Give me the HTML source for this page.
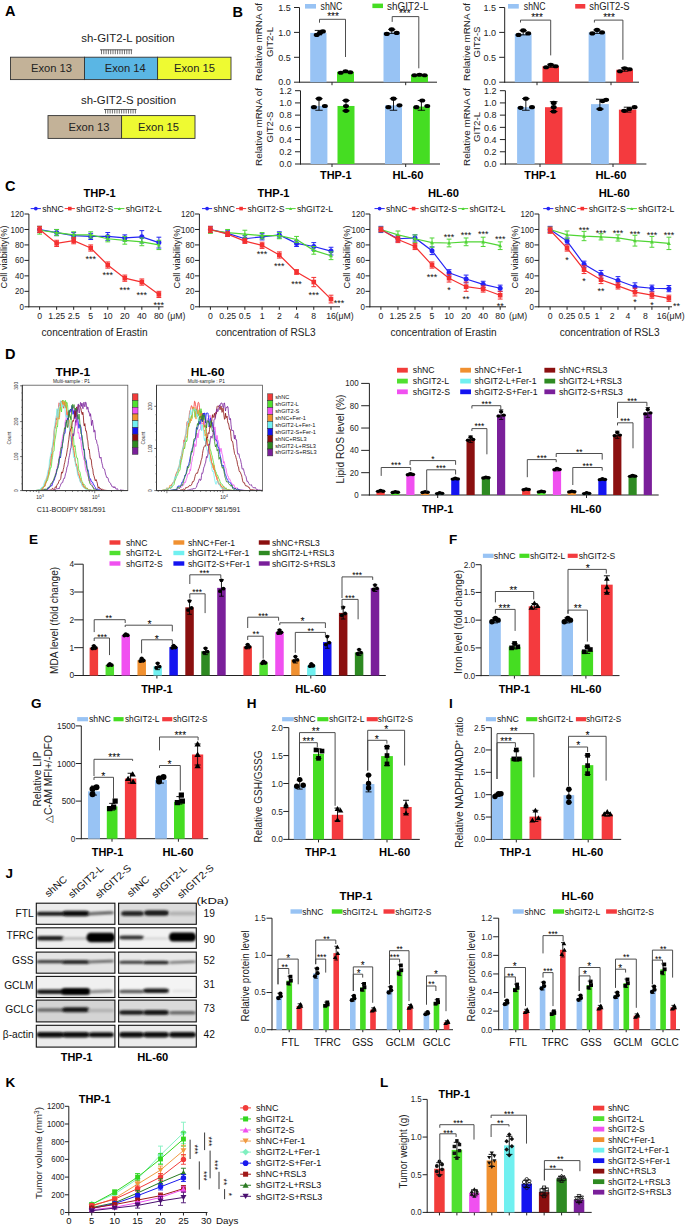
<!DOCTYPE html>
<html><head><meta charset="utf-8"><style>
html,body{margin:0;padding:0;background:#fff;}
svg{display:block;}
text{font-family:"Liberation Sans",sans-serif;}
</style></head><body>
<svg width="685" height="1227" viewBox="0 0 685 1227">
<rect width="685" height="1227" fill="#fff"/>
<text x="5" y="16.22" font-size="14.5" text-anchor="start" fill="#000" font-weight="bold">A</text>
<text x="128" y="42.28" font-size="10.5" text-anchor="middle" fill="#222" textLength="93.4" lengthAdjust="spacingAndGlyphs">sh-GIT2-L position</text>
<line x1="100" y1="49.8" x2="132.2" y2="49.8" stroke="#333" stroke-width="0.8"/>
<line x1="101.5" y1="49.8" x2="101.5" y2="54.2" stroke="#333" stroke-width="0.7"/>
<line x1="103.8" y1="49.8" x2="103.8" y2="54.2" stroke="#333" stroke-width="0.7"/>
<line x1="106.1" y1="49.8" x2="106.1" y2="54.2" stroke="#333" stroke-width="0.7"/>
<line x1="108.4" y1="49.8" x2="108.4" y2="54.2" stroke="#333" stroke-width="0.7"/>
<line x1="110.7" y1="49.8" x2="110.7" y2="54.2" stroke="#333" stroke-width="0.7"/>
<line x1="113" y1="49.8" x2="113" y2="54.2" stroke="#333" stroke-width="0.7"/>
<line x1="115.3" y1="49.8" x2="115.3" y2="54.2" stroke="#333" stroke-width="0.7"/>
<line x1="117.6" y1="49.8" x2="117.6" y2="54.2" stroke="#333" stroke-width="0.7"/>
<line x1="119.9" y1="49.8" x2="119.9" y2="54.2" stroke="#333" stroke-width="0.7"/>
<line x1="122.2" y1="49.8" x2="122.2" y2="54.2" stroke="#333" stroke-width="0.7"/>
<line x1="124.5" y1="49.8" x2="124.5" y2="54.2" stroke="#333" stroke-width="0.7"/>
<line x1="126.8" y1="49.8" x2="126.8" y2="54.2" stroke="#333" stroke-width="0.7"/>
<line x1="129.1" y1="49.8" x2="129.1" y2="54.2" stroke="#333" stroke-width="0.7"/>
<line x1="131.4" y1="49.8" x2="131.4" y2="54.2" stroke="#333" stroke-width="0.7"/>
<rect x="10.5" y="57.2" width="74" height="22.4" fill="#c3b298" stroke="#333" stroke-width="0.9"/>
<rect x="84.5" y="57.2" width="73.1" height="22.4" fill="#5ab6e4" stroke="#333" stroke-width="0.9"/>
<rect x="157.6" y="57.2" width="73.4" height="22.4" fill="#eefa32" stroke="#333" stroke-width="0.9"/>
<text x="51.5" y="72.19" font-size="10.8" text-anchor="middle" fill="#222" textLength="41" lengthAdjust="spacingAndGlyphs">Exon 13</text>
<text x="125.2" y="72.19" font-size="10.8" text-anchor="middle" fill="#222" textLength="41" lengthAdjust="spacingAndGlyphs">Exon 14</text>
<text x="194.5" y="72.19" font-size="10.8" text-anchor="middle" fill="#222" textLength="41" lengthAdjust="spacingAndGlyphs">Exon 15</text>
<text x="128.5" y="104.28" font-size="10.5" text-anchor="middle" fill="#222" textLength="95" lengthAdjust="spacingAndGlyphs">sh-GIT2-S position</text>
<line x1="104" y1="109.5" x2="136.5" y2="109.5" stroke="#333" stroke-width="0.8"/>
<line x1="105.5" y1="109.5" x2="105.5" y2="113.5" stroke="#333" stroke-width="0.7"/>
<line x1="107.8" y1="109.5" x2="107.8" y2="113.5" stroke="#333" stroke-width="0.7"/>
<line x1="110.1" y1="109.5" x2="110.1" y2="113.5" stroke="#333" stroke-width="0.7"/>
<line x1="112.4" y1="109.5" x2="112.4" y2="113.5" stroke="#333" stroke-width="0.7"/>
<line x1="114.7" y1="109.5" x2="114.7" y2="113.5" stroke="#333" stroke-width="0.7"/>
<line x1="117" y1="109.5" x2="117" y2="113.5" stroke="#333" stroke-width="0.7"/>
<line x1="119.3" y1="109.5" x2="119.3" y2="113.5" stroke="#333" stroke-width="0.7"/>
<line x1="121.6" y1="109.5" x2="121.6" y2="113.5" stroke="#333" stroke-width="0.7"/>
<line x1="123.9" y1="109.5" x2="123.9" y2="113.5" stroke="#333" stroke-width="0.7"/>
<line x1="126.2" y1="109.5" x2="126.2" y2="113.5" stroke="#333" stroke-width="0.7"/>
<line x1="128.5" y1="109.5" x2="128.5" y2="113.5" stroke="#333" stroke-width="0.7"/>
<line x1="130.8" y1="109.5" x2="130.8" y2="113.5" stroke="#333" stroke-width="0.7"/>
<line x1="133.1" y1="109.5" x2="133.1" y2="113.5" stroke="#333" stroke-width="0.7"/>
<line x1="135.4" y1="109.5" x2="135.4" y2="113.5" stroke="#333" stroke-width="0.7"/>
<rect x="48" y="115.6" width="73.6" height="22.8" fill="#c3b298" stroke="#333" stroke-width="0.9"/>
<rect x="121.6" y="115.6" width="73.4" height="22.8" fill="#eefa32" stroke="#333" stroke-width="0.9"/>
<text x="89" y="130.89" font-size="10.8" text-anchor="middle" fill="#222" textLength="41" lengthAdjust="spacingAndGlyphs">Exon 13</text>
<text x="158.5" y="130.89" font-size="10.8" text-anchor="middle" fill="#222" textLength="41" lengthAdjust="spacingAndGlyphs">Exon 15</text>
<text x="232.5" y="16.52" font-size="14.5" text-anchor="start" fill="#000" font-weight="bold">B</text>
<text transform="translate(261.96,42) rotate(-90)" x="0" y="0" font-size="9.6" text-anchor="middle" fill="#222" textLength="78" lengthAdjust="spacingAndGlyphs">Relative mRNA of</text>
<text transform="translate(273.46,42) rotate(-90)" x="0" y="0" font-size="9.6" text-anchor="middle" fill="#222" textLength="30" lengthAdjust="spacingAndGlyphs">GIT2-L</text>
<line x1="299.5" y1="82.7" x2="299.5" y2="7.5" stroke="#222" stroke-width="1"/>
<line x1="294" y1="82.2" x2="299.5" y2="82.2" stroke="#222" stroke-width="1"/>
<text x="290.7" y="85.44" font-size="9" text-anchor="end" fill="#222">0.0</text>
<line x1="294" y1="57.3" x2="299.5" y2="57.3" stroke="#222" stroke-width="1"/>
<text x="290.7" y="60.54" font-size="9" text-anchor="end" fill="#222">0.5</text>
<line x1="294" y1="32.4" x2="299.5" y2="32.4" stroke="#222" stroke-width="1"/>
<text x="290.7" y="35.64" font-size="9" text-anchor="end" fill="#222">1.0</text>
<line x1="294" y1="7.5" x2="299.5" y2="7.5" stroke="#222" stroke-width="1"/>
<text x="290.7" y="10.74" font-size="9" text-anchor="end" fill="#222">1.5</text>
<line x1="299" y1="82.2" x2="437" y2="82.2" stroke="#222" stroke-width="1"/>
<line x1="332" y1="82.2" x2="332" y2="85.2" stroke="#222" stroke-width="1"/>
<line x1="405.7" y1="82.2" x2="405.7" y2="85.2" stroke="#222" stroke-width="1"/>
<rect x="310.2" y="32.9" width="16.3" height="49.3" fill="#98c3f4"/>
<line x1="318.35" y1="34.89" x2="318.35" y2="30.41" stroke="#000" stroke-width="0.9"/>
<line x1="314.76" y1="30.41" x2="321.94" y2="30.41" stroke="#000" stroke-width="0.9"/>
<line x1="314.76" y1="34.89" x2="321.94" y2="34.89" stroke="#000" stroke-width="0.9"/>
<ellipse cx="316.72" cy="34.89" rx="2.97" ry="2.09" fill="#000"/>
<ellipse cx="319.98" cy="32.9" rx="2.97" ry="2.09" fill="#000"/>
<ellipse cx="322.91" cy="31.4" rx="2.97" ry="2.09" fill="#000"/>
<rect x="337" y="71.74" width="17" height="10.46" fill="#45dd22"/>
<ellipse cx="340.74" cy="72.74" rx="2.97" ry="2.09" fill="#000"/>
<ellipse cx="345.5" cy="71.24" rx="2.97" ry="2.09" fill="#000"/>
<ellipse cx="350.26" cy="72.24" rx="2.97" ry="2.09" fill="#000"/>
<rect x="383.5" y="32.4" width="16.5" height="49.8" fill="#98c3f4"/>
<line x1="391.75" y1="33.4" x2="391.75" y2="29.41" stroke="#000" stroke-width="0.9"/>
<line x1="388.12" y1="29.41" x2="395.38" y2="29.41" stroke="#000" stroke-width="0.9"/>
<line x1="388.12" y1="33.4" x2="395.38" y2="33.4" stroke="#000" stroke-width="0.9"/>
<ellipse cx="386.8" cy="33.89" rx="2.97" ry="2.09" fill="#000"/>
<ellipse cx="391.75" cy="29.41" rx="2.97" ry="2.09" fill="#000"/>
<ellipse cx="396.7" cy="32.9" rx="2.97" ry="2.09" fill="#000"/>
<rect x="411" y="74.73" width="17" height="7.47" fill="#45dd22"/>
<ellipse cx="414.4" cy="75.23" rx="2.97" ry="2.09" fill="#000"/>
<ellipse cx="419.5" cy="74.73" rx="2.97" ry="2.09" fill="#000"/>
<ellipse cx="424.6" cy="75.23" rx="2.97" ry="2.09" fill="#000"/>
<polyline points="319.5,22.7 319.5,19.3 345.5,19.3 345.5,57" stroke="#444" stroke-width="0.95" fill="none"/>
<text x="333" y="20.2" font-size="10" text-anchor="middle" fill="#000">***</text>
<polyline points="392.2,21.9 392.2,16.6 418.8,16.6 418.8,68.3" stroke="#444" stroke-width="0.95" fill="none"/>
<text x="404.8" y="17.3" font-size="10" text-anchor="middle" fill="#000">***</text>
<rect x="305" y="4" width="11" height="4.6" fill="#98c3f4"/>
<text x="320.6" y="9.9" font-size="10" text-anchor="start" fill="#222" textLength="21.8" lengthAdjust="spacingAndGlyphs">shNC</text>
<rect x="372.4" y="3.6" width="10.6" height="4.5" fill="#45dd22"/>
<text x="387" y="9.7" font-size="10" text-anchor="start" fill="#222" textLength="41.5" lengthAdjust="spacingAndGlyphs">shGIT2-L</text>
<text transform="translate(261.96,127) rotate(-90)" x="0" y="0" font-size="9.6" text-anchor="middle" fill="#222" textLength="78" lengthAdjust="spacingAndGlyphs">Relative mRNA of</text>
<text transform="translate(273.46,127) rotate(-90)" x="0" y="0" font-size="9.6" text-anchor="middle" fill="#222" textLength="31" lengthAdjust="spacingAndGlyphs">GIT2-S</text>
<line x1="300.5" y1="164.5" x2="300.5" y2="90.7" stroke="#222" stroke-width="1"/>
<line x1="295" y1="164" x2="300.5" y2="164" stroke="#222" stroke-width="1"/>
<text x="291.7" y="167.24" font-size="9" text-anchor="end" fill="#222">0.0</text>
<line x1="295" y1="151.78" x2="300.5" y2="151.78" stroke="#222" stroke-width="1"/>
<text x="291.7" y="155.02" font-size="9" text-anchor="end" fill="#222">0.2</text>
<line x1="295" y1="139.57" x2="300.5" y2="139.57" stroke="#222" stroke-width="1"/>
<text x="291.7" y="142.81" font-size="9" text-anchor="end" fill="#222">0.4</text>
<line x1="295" y1="127.35" x2="300.5" y2="127.35" stroke="#222" stroke-width="1"/>
<text x="291.7" y="130.59" font-size="9" text-anchor="end" fill="#222">0.6</text>
<line x1="295" y1="115.13" x2="300.5" y2="115.13" stroke="#222" stroke-width="1"/>
<text x="291.7" y="118.37" font-size="9" text-anchor="end" fill="#222">0.8</text>
<line x1="295" y1="102.92" x2="300.5" y2="102.92" stroke="#222" stroke-width="1"/>
<text x="291.7" y="106.16" font-size="9" text-anchor="end" fill="#222">1.0</text>
<line x1="295" y1="90.7" x2="300.5" y2="90.7" stroke="#222" stroke-width="1"/>
<text x="291.7" y="93.94" font-size="9" text-anchor="end" fill="#222">1.2</text>
<line x1="300" y1="164" x2="440" y2="164" stroke="#222" stroke-width="1"/>
<line x1="332" y1="164" x2="332" y2="167" stroke="#222" stroke-width="1"/>
<line x1="405.7" y1="164" x2="405.7" y2="167" stroke="#222" stroke-width="1"/>
<rect x="310.6" y="105.97" width="16.8" height="58.03" fill="#98c3f4"/>
<line x1="319" y1="110.25" x2="319" y2="98.64" stroke="#000" stroke-width="0.9"/>
<line x1="315.3" y1="98.64" x2="322.7" y2="98.64" stroke="#000" stroke-width="0.9"/>
<line x1="315.3" y1="110.25" x2="322.7" y2="110.25" stroke="#000" stroke-width="0.9"/>
<ellipse cx="313.96" cy="107.19" rx="2.97" ry="2.09" fill="#000"/>
<ellipse cx="319" cy="98.64" rx="2.97" ry="2.09" fill="#000"/>
<ellipse cx="324.88" cy="105.97" rx="2.97" ry="2.09" fill="#000"/>
<rect x="337.5" y="105.97" width="17" height="58.03" fill="#45dd22"/>
<line x1="346" y1="110.86" x2="346" y2="100.47" stroke="#000" stroke-width="0.9"/>
<line x1="342.26" y1="100.47" x2="349.74" y2="100.47" stroke="#000" stroke-width="0.9"/>
<line x1="342.26" y1="110.86" x2="349.74" y2="110.86" stroke="#000" stroke-width="0.9"/>
<ellipse cx="346" cy="100.47" rx="2.97" ry="2.09" fill="#000"/>
<ellipse cx="346" cy="105.97" rx="2.97" ry="2.09" fill="#000"/>
<ellipse cx="346" cy="110.86" rx="2.97" ry="2.09" fill="#000"/>
<rect x="385" y="105.36" width="17" height="58.64" fill="#98c3f4"/>
<line x1="393.5" y1="110.25" x2="393.5" y2="98.64" stroke="#000" stroke-width="0.9"/>
<line x1="389.76" y1="98.64" x2="397.24" y2="98.64" stroke="#000" stroke-width="0.9"/>
<line x1="389.76" y1="110.25" x2="397.24" y2="110.25" stroke="#000" stroke-width="0.9"/>
<ellipse cx="388.4" cy="107.19" rx="2.97" ry="2.09" fill="#000"/>
<ellipse cx="393.5" cy="98.64" rx="2.97" ry="2.09" fill="#000"/>
<ellipse cx="399.45" cy="105.36" rx="2.97" ry="2.09" fill="#000"/>
<rect x="413" y="106.58" width="16.8" height="57.42" fill="#45dd22"/>
<line x1="421.4" y1="110.25" x2="421.4" y2="100.47" stroke="#000" stroke-width="0.9"/>
<line x1="417.7" y1="100.47" x2="425.1" y2="100.47" stroke="#000" stroke-width="0.9"/>
<line x1="417.7" y1="110.25" x2="425.1" y2="110.25" stroke="#000" stroke-width="0.9"/>
<ellipse cx="416.36" cy="107.19" rx="2.97" ry="2.09" fill="#000"/>
<ellipse cx="422.24" cy="100.47" rx="2.97" ry="2.09" fill="#000"/>
<ellipse cx="427.28" cy="105.97" rx="2.97" ry="2.09" fill="#000"/>
<text x="335.8" y="178.95" font-size="11.8" text-anchor="middle" fill="#000" font-weight="bold" textLength="31.5" lengthAdjust="spacingAndGlyphs">THP-1</text>
<text x="408" y="178.95" font-size="11.8" text-anchor="middle" fill="#000" font-weight="bold" textLength="31" lengthAdjust="spacingAndGlyphs">HL-60</text>
<text transform="translate(469.76,42) rotate(-90)" x="0" y="0" font-size="9.6" text-anchor="middle" fill="#222" textLength="78" lengthAdjust="spacingAndGlyphs">Relative mRNA of</text>
<text transform="translate(480.46,42) rotate(-90)" x="0" y="0" font-size="9.6" text-anchor="middle" fill="#222" textLength="31" lengthAdjust="spacingAndGlyphs">GIT2-S</text>
<line x1="504.7" y1="82.7" x2="504.7" y2="7.5" stroke="#222" stroke-width="1"/>
<line x1="499.2" y1="82.2" x2="504.7" y2="82.2" stroke="#222" stroke-width="1"/>
<text x="495.9" y="85.44" font-size="9" text-anchor="end" fill="#222">0.0</text>
<line x1="499.2" y1="57.3" x2="504.7" y2="57.3" stroke="#222" stroke-width="1"/>
<text x="495.9" y="60.54" font-size="9" text-anchor="end" fill="#222">0.5</text>
<line x1="499.2" y1="32.4" x2="504.7" y2="32.4" stroke="#222" stroke-width="1"/>
<text x="495.9" y="35.64" font-size="9" text-anchor="end" fill="#222">1.0</text>
<line x1="499.2" y1="7.5" x2="504.7" y2="7.5" stroke="#222" stroke-width="1"/>
<text x="495.9" y="10.74" font-size="9" text-anchor="end" fill="#222">1.5</text>
<line x1="504.2" y1="82.2" x2="639" y2="82.2" stroke="#222" stroke-width="1"/>
<line x1="537" y1="82.2" x2="537" y2="85.2" stroke="#222" stroke-width="1"/>
<line x1="611" y1="82.2" x2="611" y2="85.2" stroke="#222" stroke-width="1"/>
<rect x="514.8" y="33.89" width="16.8" height="48.31" fill="#98c3f4"/>
<line x1="523.2" y1="34.89" x2="523.2" y2="30.41" stroke="#000" stroke-width="0.9"/>
<line x1="519.5" y1="30.41" x2="526.9" y2="30.41" stroke="#000" stroke-width="0.9"/>
<line x1="519.5" y1="34.89" x2="526.9" y2="34.89" stroke="#000" stroke-width="0.9"/>
<ellipse cx="518.5" cy="34.89" rx="2.97" ry="2.09" fill="#000"/>
<ellipse cx="523.2" cy="30.41" rx="2.97" ry="2.09" fill="#000"/>
<ellipse cx="528.24" cy="33.4" rx="2.97" ry="2.09" fill="#000"/>
<rect x="542.5" y="66.26" width="16.5" height="15.94" fill="#f43a3e"/>
<line x1="550.75" y1="67.26" x2="550.75" y2="64.27" stroke="#000" stroke-width="0.9"/>
<line x1="547.12" y1="64.27" x2="554.38" y2="64.27" stroke="#000" stroke-width="0.9"/>
<line x1="547.12" y1="67.26" x2="554.38" y2="67.26" stroke="#000" stroke-width="0.9"/>
<ellipse cx="546.13" cy="67.26" rx="2.97" ry="2.09" fill="#000"/>
<ellipse cx="550.75" cy="64.77" rx="2.97" ry="2.09" fill="#000"/>
<ellipse cx="555.7" cy="66.26" rx="2.97" ry="2.09" fill="#000"/>
<rect x="588.6" y="32.4" width="16.8" height="49.8" fill="#98c3f4"/>
<line x1="597" y1="33.4" x2="597" y2="29.91" stroke="#000" stroke-width="0.9"/>
<line x1="593.3" y1="29.91" x2="600.7" y2="29.91" stroke="#000" stroke-width="0.9"/>
<line x1="593.3" y1="33.4" x2="600.7" y2="33.4" stroke="#000" stroke-width="0.9"/>
<ellipse cx="592.3" cy="33.4" rx="2.97" ry="2.09" fill="#000"/>
<ellipse cx="597" cy="29.91" rx="2.97" ry="2.09" fill="#000"/>
<ellipse cx="602.04" cy="32.4" rx="2.97" ry="2.09" fill="#000"/>
<rect x="616.2" y="69.75" width="16.8" height="12.45" fill="#f43a3e"/>
<line x1="624.6" y1="71.24" x2="624.6" y2="67.76" stroke="#000" stroke-width="0.9"/>
<line x1="620.9" y1="67.76" x2="628.3" y2="67.76" stroke="#000" stroke-width="0.9"/>
<line x1="620.9" y1="71.24" x2="628.3" y2="71.24" stroke="#000" stroke-width="0.9"/>
<ellipse cx="619.9" cy="71.24" rx="2.97" ry="2.09" fill="#000"/>
<ellipse cx="624.6" cy="68.26" rx="2.97" ry="2.09" fill="#000"/>
<ellipse cx="629.64" cy="69.25" rx="2.97" ry="2.09" fill="#000"/>
<polyline points="520.5,22.5 520.5,20.1 550.7,20.1 550.7,55.4" stroke="#444" stroke-width="0.95" fill="none"/>
<text x="537" y="21" font-size="10" text-anchor="middle" fill="#000">***</text>
<polyline points="594.4,22.5 594.4,20.1 622.9,20.1 622.9,59.8" stroke="#444" stroke-width="0.95" fill="none"/>
<text x="609" y="21" font-size="10" text-anchor="middle" fill="#000">***</text>
<rect x="508" y="4" width="10.8" height="4.6" fill="#98c3f4"/>
<text x="523.8" y="9.9" font-size="10" text-anchor="start" fill="#222" textLength="21.8" lengthAdjust="spacingAndGlyphs">shNC</text>
<rect x="575.2" y="4" width="10.1" height="4.6" fill="#f43a3e"/>
<text x="589.3" y="9.9" font-size="10" text-anchor="start" fill="#222" textLength="40.3" lengthAdjust="spacingAndGlyphs">shGIT2-S</text>
<text transform="translate(469.76,127) rotate(-90)" x="0" y="0" font-size="9.6" text-anchor="middle" fill="#222" textLength="78" lengthAdjust="spacingAndGlyphs">Relative mRNA of</text>
<text transform="translate(480.46,127) rotate(-90)" x="0" y="0" font-size="9.6" text-anchor="middle" fill="#222" textLength="30" lengthAdjust="spacingAndGlyphs">GIT2-L</text>
<line x1="505.4" y1="164.5" x2="505.4" y2="90.7" stroke="#222" stroke-width="1"/>
<line x1="499.9" y1="164" x2="505.4" y2="164" stroke="#222" stroke-width="1"/>
<text x="496.6" y="167.24" font-size="9" text-anchor="end" fill="#222">0.0</text>
<line x1="499.9" y1="151.78" x2="505.4" y2="151.78" stroke="#222" stroke-width="1"/>
<text x="496.6" y="155.02" font-size="9" text-anchor="end" fill="#222">0.2</text>
<line x1="499.9" y1="139.57" x2="505.4" y2="139.57" stroke="#222" stroke-width="1"/>
<text x="496.6" y="142.81" font-size="9" text-anchor="end" fill="#222">0.4</text>
<line x1="499.9" y1="127.35" x2="505.4" y2="127.35" stroke="#222" stroke-width="1"/>
<text x="496.6" y="130.59" font-size="9" text-anchor="end" fill="#222">0.6</text>
<line x1="499.9" y1="115.13" x2="505.4" y2="115.13" stroke="#222" stroke-width="1"/>
<text x="496.6" y="118.37" font-size="9" text-anchor="end" fill="#222">0.8</text>
<line x1="499.9" y1="102.92" x2="505.4" y2="102.92" stroke="#222" stroke-width="1"/>
<text x="496.6" y="106.16" font-size="9" text-anchor="end" fill="#222">1.0</text>
<line x1="499.9" y1="90.7" x2="505.4" y2="90.7" stroke="#222" stroke-width="1"/>
<text x="496.6" y="93.94" font-size="9" text-anchor="end" fill="#222">1.2</text>
<line x1="504.9" y1="164" x2="646.4" y2="164" stroke="#222" stroke-width="1"/>
<line x1="540" y1="164" x2="540" y2="167" stroke="#222" stroke-width="1"/>
<line x1="613" y1="164" x2="613" y2="167" stroke="#222" stroke-width="1"/>
<rect x="517.1" y="107.19" width="17.5" height="56.81" fill="#98c3f4"/>
<line x1="525.85" y1="110.25" x2="525.85" y2="98.64" stroke="#000" stroke-width="0.9"/>
<line x1="522" y1="98.64" x2="529.7" y2="98.64" stroke="#000" stroke-width="0.9"/>
<line x1="522" y1="110.25" x2="529.7" y2="110.25" stroke="#000" stroke-width="0.9"/>
<ellipse cx="520.6" cy="107.8" rx="2.97" ry="2.09" fill="#000"/>
<ellipse cx="525.85" cy="98.64" rx="2.97" ry="2.09" fill="#000"/>
<ellipse cx="531.98" cy="107.19" rx="2.97" ry="2.09" fill="#000"/>
<rect x="545" y="107.19" width="17.4" height="56.81" fill="#f43a3e"/>
<line x1="553.7" y1="111.47" x2="553.7" y2="101.69" stroke="#000" stroke-width="0.9"/>
<line x1="549.87" y1="101.69" x2="557.53" y2="101.69" stroke="#000" stroke-width="0.9"/>
<line x1="549.87" y1="111.47" x2="557.53" y2="111.47" stroke="#000" stroke-width="0.9"/>
<ellipse cx="553.7" cy="102.92" rx="2.97" ry="2.09" fill="#000"/>
<ellipse cx="553.7" cy="107.19" rx="2.97" ry="2.09" fill="#000"/>
<ellipse cx="553.7" cy="111.47" rx="2.97" ry="2.09" fill="#000"/>
<rect x="591" y="104.14" width="17.8" height="59.86" fill="#98c3f4"/>
<line x1="599.9" y1="109.03" x2="599.9" y2="99.25" stroke="#000" stroke-width="0.9"/>
<line x1="595.98" y1="99.25" x2="603.82" y2="99.25" stroke="#000" stroke-width="0.9"/>
<line x1="595.98" y1="109.03" x2="603.82" y2="109.03" stroke="#000" stroke-width="0.9"/>
<ellipse cx="599.9" cy="109.03" rx="2.97" ry="2.09" fill="#000"/>
<ellipse cx="602.57" cy="101.08" rx="2.97" ry="2.09" fill="#000"/>
<ellipse cx="606.13" cy="99.86" rx="2.97" ry="2.09" fill="#000"/>
<rect x="618.9" y="109.64" width="17.4" height="54.36" fill="#f43a3e"/>
<line x1="627.6" y1="112.08" x2="627.6" y2="107.19" stroke="#000" stroke-width="0.9"/>
<line x1="623.77" y1="107.19" x2="631.43" y2="107.19" stroke="#000" stroke-width="0.9"/>
<line x1="623.77" y1="112.08" x2="631.43" y2="112.08" stroke="#000" stroke-width="0.9"/>
<ellipse cx="624.12" cy="110.86" rx="2.97" ry="2.09" fill="#000"/>
<ellipse cx="629.34" cy="109.03" rx="2.97" ry="2.09" fill="#000"/>
<ellipse cx="634.56" cy="107.19" rx="2.97" ry="2.09" fill="#000"/>
<text x="540" y="178.95" font-size="11.8" text-anchor="middle" fill="#000" font-weight="bold" textLength="31.5" lengthAdjust="spacingAndGlyphs">THP-1</text>
<text x="611" y="178.95" font-size="11.8" text-anchor="middle" fill="#000" font-weight="bold" textLength="31" lengthAdjust="spacingAndGlyphs">HL-60</text>
<text x="5" y="191.22" font-size="14.5" text-anchor="start" fill="#000" font-weight="bold">C</text>
<text x="99.6" y="196.86" font-size="11" text-anchor="middle" fill="#000" font-weight="bold" textLength="32" lengthAdjust="spacingAndGlyphs">THP-1</text>
<text transform="translate(7.06,257) rotate(-90)" x="0" y="0" font-size="9.6" text-anchor="middle" fill="#222" textLength="63" lengthAdjust="spacingAndGlyphs">Cell viability(%)</text>
<line x1="28.9" y1="307.3" x2="28.9" y2="214" stroke="#222" stroke-width="1"/>
<line x1="24.5" y1="306.8" x2="28.9" y2="306.8" stroke="#222" stroke-width="1"/>
<text x="23.9" y="309.86" font-size="8.5" text-anchor="end" fill="#222" textLength="4.44" lengthAdjust="spacingAndGlyphs">0</text>
<line x1="24.5" y1="291.33" x2="28.9" y2="291.33" stroke="#222" stroke-width="1"/>
<text x="23.9" y="294.39" font-size="8.5" text-anchor="end" fill="#222" textLength="8.89" lengthAdjust="spacingAndGlyphs">20</text>
<line x1="24.5" y1="275.87" x2="28.9" y2="275.87" stroke="#222" stroke-width="1"/>
<text x="23.9" y="278.93" font-size="8.5" text-anchor="end" fill="#222" textLength="8.89" lengthAdjust="spacingAndGlyphs">40</text>
<line x1="24.5" y1="260.4" x2="28.9" y2="260.4" stroke="#222" stroke-width="1"/>
<text x="23.9" y="263.46" font-size="8.5" text-anchor="end" fill="#222" textLength="8.89" lengthAdjust="spacingAndGlyphs">60</text>
<line x1="24.5" y1="244.93" x2="28.9" y2="244.93" stroke="#222" stroke-width="1"/>
<text x="23.9" y="247.99" font-size="8.5" text-anchor="end" fill="#222" textLength="8.89" lengthAdjust="spacingAndGlyphs">80</text>
<line x1="24.5" y1="229.47" x2="28.9" y2="229.47" stroke="#222" stroke-width="1"/>
<text x="23.9" y="232.53" font-size="8.5" text-anchor="end" fill="#222" textLength="13.33" lengthAdjust="spacingAndGlyphs">100</text>
<line x1="24.5" y1="214" x2="28.9" y2="214" stroke="#222" stroke-width="1"/>
<text x="23.9" y="217.06" font-size="8.5" text-anchor="end" fill="#222" textLength="13.33" lengthAdjust="spacingAndGlyphs">120</text>
<line x1="28.4" y1="306.8" x2="163.5" y2="306.8" stroke="#222" stroke-width="1"/>
<line x1="39.6" y1="306.8" x2="39.6" y2="309.8" stroke="#222" stroke-width="1"/>
<line x1="56.64" y1="306.8" x2="56.64" y2="309.8" stroke="#222" stroke-width="1"/>
<line x1="73.68" y1="306.8" x2="73.68" y2="309.8" stroke="#222" stroke-width="1"/>
<line x1="90.72" y1="306.8" x2="90.72" y2="309.8" stroke="#222" stroke-width="1"/>
<line x1="107.76" y1="306.8" x2="107.76" y2="309.8" stroke="#222" stroke-width="1"/>
<line x1="124.8" y1="306.8" x2="124.8" y2="309.8" stroke="#222" stroke-width="1"/>
<line x1="141.84" y1="306.8" x2="141.84" y2="309.8" stroke="#222" stroke-width="1"/>
<line x1="158.88" y1="306.8" x2="158.88" y2="309.8" stroke="#222" stroke-width="1"/>
<text x="39.6" y="318.63" font-size="8.7" text-anchor="middle" fill="#222">0</text>
<text x="56.64" y="318.63" font-size="8.7" text-anchor="middle" fill="#222">1.25</text>
<text x="73.68" y="318.63" font-size="8.7" text-anchor="middle" fill="#222">2.5</text>
<text x="90.72" y="318.63" font-size="8.7" text-anchor="middle" fill="#222">5</text>
<text x="107.76" y="318.63" font-size="8.7" text-anchor="middle" fill="#222">10</text>
<text x="124.8" y="318.63" font-size="8.7" text-anchor="middle" fill="#222">20</text>
<text x="141.84" y="318.63" font-size="8.7" text-anchor="middle" fill="#222">40</text>
<text x="158.88" y="318.63" font-size="8.7" text-anchor="middle" fill="#222">80</text>
<text x="167.3" y="318.63" font-size="8.7" text-anchor="start" fill="#222">(μM)</text>
<text x="94.5" y="335.74" font-size="10.1" text-anchor="middle" fill="#222">concentration of Erastin</text>
<polyline points="39.6,229.47 56.64,232.56 73.68,235.65 90.72,236.43 107.76,236.43 124.8,237.97 141.84,236.81 158.88,242.61" stroke="#2424f5" stroke-width="1.2" fill="none"/>
<line x1="39.6" y1="232.56" x2="39.6" y2="226.37" stroke="#2424f5" stroke-width="1"/>
<line x1="37.2" y1="226.37" x2="42" y2="226.37" stroke="#2424f5" stroke-width="1"/>
<line x1="37.2" y1="232.56" x2="42" y2="232.56" stroke="#2424f5" stroke-width="1"/>
<line x1="56.64" y1="235.65" x2="56.64" y2="229.47" stroke="#2424f5" stroke-width="1"/>
<line x1="54.24" y1="229.47" x2="59.04" y2="229.47" stroke="#2424f5" stroke-width="1"/>
<line x1="54.24" y1="235.65" x2="59.04" y2="235.65" stroke="#2424f5" stroke-width="1"/>
<line x1="73.68" y1="238.75" x2="73.68" y2="232.56" stroke="#2424f5" stroke-width="1"/>
<line x1="71.28" y1="232.56" x2="76.08" y2="232.56" stroke="#2424f5" stroke-width="1"/>
<line x1="71.28" y1="238.75" x2="76.08" y2="238.75" stroke="#2424f5" stroke-width="1"/>
<line x1="90.72" y1="239.52" x2="90.72" y2="233.33" stroke="#2424f5" stroke-width="1"/>
<line x1="88.32" y1="233.33" x2="93.12" y2="233.33" stroke="#2424f5" stroke-width="1"/>
<line x1="88.32" y1="239.52" x2="93.12" y2="239.52" stroke="#2424f5" stroke-width="1"/>
<line x1="107.76" y1="240.29" x2="107.76" y2="232.56" stroke="#2424f5" stroke-width="1"/>
<line x1="105.36" y1="232.56" x2="110.16" y2="232.56" stroke="#2424f5" stroke-width="1"/>
<line x1="105.36" y1="240.29" x2="110.16" y2="240.29" stroke="#2424f5" stroke-width="1"/>
<line x1="124.8" y1="241.07" x2="124.8" y2="234.88" stroke="#2424f5" stroke-width="1"/>
<line x1="122.4" y1="234.88" x2="127.2" y2="234.88" stroke="#2424f5" stroke-width="1"/>
<line x1="122.4" y1="241.07" x2="127.2" y2="241.07" stroke="#2424f5" stroke-width="1"/>
<line x1="141.84" y1="243" x2="141.84" y2="230.63" stroke="#2424f5" stroke-width="1"/>
<line x1="139.44" y1="230.63" x2="144.24" y2="230.63" stroke="#2424f5" stroke-width="1"/>
<line x1="139.44" y1="243" x2="144.24" y2="243" stroke="#2424f5" stroke-width="1"/>
<line x1="158.88" y1="248.03" x2="158.88" y2="237.2" stroke="#2424f5" stroke-width="1"/>
<line x1="156.48" y1="237.2" x2="161.28" y2="237.2" stroke="#2424f5" stroke-width="1"/>
<line x1="156.48" y1="248.03" x2="161.28" y2="248.03" stroke="#2424f5" stroke-width="1"/>
<circle cx="39.6" cy="229.47" r="2.5" fill="#2424f5"/>
<circle cx="56.64" cy="232.56" r="2.5" fill="#2424f5"/>
<circle cx="73.68" cy="235.65" r="2.5" fill="#2424f5"/>
<circle cx="90.72" cy="236.43" r="2.5" fill="#2424f5"/>
<circle cx="107.76" cy="236.43" r="2.5" fill="#2424f5"/>
<circle cx="124.8" cy="237.97" r="2.5" fill="#2424f5"/>
<circle cx="141.84" cy="236.81" r="2.5" fill="#2424f5"/>
<circle cx="158.88" cy="242.61" r="2.5" fill="#2424f5"/>
<polyline points="39.6,230.24 56.64,232.56 73.68,234.88 90.72,234.88 107.76,238.75 124.8,240.29 141.84,241.84 158.88,244.93" stroke="#50d535" stroke-width="1.2" fill="none"/>
<line x1="39.6" y1="234.11" x2="39.6" y2="226.37" stroke="#50d535" stroke-width="1"/>
<line x1="37.2" y1="226.37" x2="42" y2="226.37" stroke="#50d535" stroke-width="1"/>
<line x1="37.2" y1="234.11" x2="42" y2="234.11" stroke="#50d535" stroke-width="1"/>
<line x1="56.64" y1="235.65" x2="56.64" y2="229.47" stroke="#50d535" stroke-width="1"/>
<line x1="54.24" y1="229.47" x2="59.04" y2="229.47" stroke="#50d535" stroke-width="1"/>
<line x1="54.24" y1="235.65" x2="59.04" y2="235.65" stroke="#50d535" stroke-width="1"/>
<line x1="73.68" y1="237.97" x2="73.68" y2="231.79" stroke="#50d535" stroke-width="1"/>
<line x1="71.28" y1="231.79" x2="76.08" y2="231.79" stroke="#50d535" stroke-width="1"/>
<line x1="71.28" y1="237.97" x2="76.08" y2="237.97" stroke="#50d535" stroke-width="1"/>
<line x1="90.72" y1="237.97" x2="90.72" y2="231.79" stroke="#50d535" stroke-width="1"/>
<line x1="88.32" y1="231.79" x2="93.12" y2="231.79" stroke="#50d535" stroke-width="1"/>
<line x1="88.32" y1="237.97" x2="93.12" y2="237.97" stroke="#50d535" stroke-width="1"/>
<line x1="107.76" y1="241.84" x2="107.76" y2="235.65" stroke="#50d535" stroke-width="1"/>
<line x1="105.36" y1="235.65" x2="110.16" y2="235.65" stroke="#50d535" stroke-width="1"/>
<line x1="105.36" y1="241.84" x2="110.16" y2="241.84" stroke="#50d535" stroke-width="1"/>
<line x1="124.8" y1="244.16" x2="124.8" y2="236.43" stroke="#50d535" stroke-width="1"/>
<line x1="122.4" y1="236.43" x2="127.2" y2="236.43" stroke="#50d535" stroke-width="1"/>
<line x1="122.4" y1="244.16" x2="127.2" y2="244.16" stroke="#50d535" stroke-width="1"/>
<line x1="141.84" y1="245.71" x2="141.84" y2="237.97" stroke="#50d535" stroke-width="1"/>
<line x1="139.44" y1="237.97" x2="144.24" y2="237.97" stroke="#50d535" stroke-width="1"/>
<line x1="139.44" y1="245.71" x2="144.24" y2="245.71" stroke="#50d535" stroke-width="1"/>
<line x1="158.88" y1="249.57" x2="158.88" y2="240.29" stroke="#50d535" stroke-width="1"/>
<line x1="156.48" y1="240.29" x2="161.28" y2="240.29" stroke="#50d535" stroke-width="1"/>
<line x1="156.48" y1="249.57" x2="161.28" y2="249.57" stroke="#50d535" stroke-width="1"/>
<polygon points="37.6,231.84 41.6,231.84 39.6,228.44" fill="#50d535"/>
<polygon points="54.64,234.16 58.64,234.16 56.64,230.76" fill="#50d535"/>
<polygon points="71.68,236.48 75.68,236.48 73.68,233.08" fill="#50d535"/>
<polygon points="88.72,236.48 92.72,236.48 90.72,233.08" fill="#50d535"/>
<polygon points="105.76,240.35 109.76,240.35 107.76,236.95" fill="#50d535"/>
<polygon points="122.8,241.89 126.8,241.89 124.8,238.49" fill="#50d535"/>
<polygon points="139.84,243.44 143.84,243.44 141.84,240.04" fill="#50d535"/>
<polygon points="156.88,246.53 160.88,246.53 158.88,243.13" fill="#50d535"/>
<polyline points="39.6,229.47 56.64,243.39 73.68,240.68 90.72,248.03 107.76,265.04 124.8,278.19 141.84,282.05 158.88,294.43" stroke="#f53030" stroke-width="1.2" fill="none"/>
<line x1="39.6" y1="232.56" x2="39.6" y2="226.37" stroke="#f53030" stroke-width="1"/>
<line x1="37.2" y1="226.37" x2="42" y2="226.37" stroke="#f53030" stroke-width="1"/>
<line x1="37.2" y1="232.56" x2="42" y2="232.56" stroke="#f53030" stroke-width="1"/>
<line x1="56.64" y1="246.48" x2="56.64" y2="240.29" stroke="#f53030" stroke-width="1"/>
<line x1="54.24" y1="240.29" x2="59.04" y2="240.29" stroke="#f53030" stroke-width="1"/>
<line x1="54.24" y1="246.48" x2="59.04" y2="246.48" stroke="#f53030" stroke-width="1"/>
<line x1="73.68" y1="243.77" x2="73.68" y2="237.59" stroke="#f53030" stroke-width="1"/>
<line x1="71.28" y1="237.59" x2="76.08" y2="237.59" stroke="#f53030" stroke-width="1"/>
<line x1="71.28" y1="243.77" x2="76.08" y2="243.77" stroke="#f53030" stroke-width="1"/>
<line x1="90.72" y1="251.12" x2="90.72" y2="244.93" stroke="#f53030" stroke-width="1"/>
<line x1="88.32" y1="244.93" x2="93.12" y2="244.93" stroke="#f53030" stroke-width="1"/>
<line x1="88.32" y1="251.12" x2="93.12" y2="251.12" stroke="#f53030" stroke-width="1"/>
<line x1="107.76" y1="268.13" x2="107.76" y2="261.95" stroke="#f53030" stroke-width="1"/>
<line x1="105.36" y1="261.95" x2="110.16" y2="261.95" stroke="#f53030" stroke-width="1"/>
<line x1="105.36" y1="268.13" x2="110.16" y2="268.13" stroke="#f53030" stroke-width="1"/>
<line x1="124.8" y1="281.28" x2="124.8" y2="275.09" stroke="#f53030" stroke-width="1"/>
<line x1="122.4" y1="275.09" x2="127.2" y2="275.09" stroke="#f53030" stroke-width="1"/>
<line x1="122.4" y1="281.28" x2="127.2" y2="281.28" stroke="#f53030" stroke-width="1"/>
<line x1="141.84" y1="285.15" x2="141.84" y2="278.96" stroke="#f53030" stroke-width="1"/>
<line x1="139.44" y1="278.96" x2="144.24" y2="278.96" stroke="#f53030" stroke-width="1"/>
<line x1="139.44" y1="285.15" x2="144.24" y2="285.15" stroke="#f53030" stroke-width="1"/>
<line x1="158.88" y1="297.52" x2="158.88" y2="291.33" stroke="#f53030" stroke-width="1"/>
<line x1="156.48" y1="291.33" x2="161.28" y2="291.33" stroke="#f53030" stroke-width="1"/>
<line x1="156.48" y1="297.52" x2="161.28" y2="297.52" stroke="#f53030" stroke-width="1"/>
<rect x="37.3" y="227.17" width="4.6" height="4.6" fill="#f53030"/>
<rect x="54.34" y="241.09" width="4.6" height="4.6" fill="#f53030"/>
<rect x="71.38" y="238.38" width="4.6" height="4.6" fill="#f53030"/>
<rect x="88.42" y="245.73" width="4.6" height="4.6" fill="#f53030"/>
<rect x="105.46" y="262.74" width="4.6" height="4.6" fill="#f53030"/>
<rect x="122.5" y="275.89" width="4.6" height="4.6" fill="#f53030"/>
<rect x="139.54" y="279.75" width="4.6" height="4.6" fill="#f53030"/>
<rect x="156.58" y="292.13" width="4.6" height="4.6" fill="#f53030"/>
<text x="90.72" y="262.43" font-size="9" text-anchor="middle" fill="#111">***</text>
<text x="107.76" y="278.03" font-size="9" text-anchor="middle" fill="#111">***</text>
<text x="124.8" y="292.53" font-size="9" text-anchor="middle" fill="#111">***</text>
<text x="141.84" y="298.43" font-size="9" text-anchor="middle" fill="#111">***</text>
<text x="158.88" y="308.43" font-size="9" text-anchor="middle" fill="#111">***</text>
<line x1="30.7" y1="208.6" x2="40.9" y2="208.6" stroke="#2424f5" stroke-width="1"/>
<circle cx="35.8" cy="208.6" r="1.9" fill="#2424f5"/>
<text x="42.2" y="211.73" font-size="8.7" text-anchor="start" fill="#111" textLength="21.5" lengthAdjust="spacingAndGlyphs">shNC</text>
<line x1="64.7" y1="208.6" x2="74.9" y2="208.6" stroke="#f53030" stroke-width="1"/>
<rect x="68" y="206.8" width="3.6" height="3.6" fill="#f53030"/>
<text x="76.2" y="211.73" font-size="8.7" text-anchor="start" fill="#111" textLength="37" lengthAdjust="spacingAndGlyphs">shGIT2-S</text>
<line x1="114.2" y1="208.6" x2="124.4" y2="208.6" stroke="#50d535" stroke-width="1"/>
<polygon points="117.7,209.88 120.9,209.88 119.3,207.16" fill="#50d535"/>
<text x="125.7" y="211.73" font-size="8.7" text-anchor="start" fill="#111" textLength="36" lengthAdjust="spacingAndGlyphs">shGIT2-L</text>
<text x="273.5" y="196.86" font-size="11" text-anchor="middle" fill="#000" font-weight="bold" textLength="32" lengthAdjust="spacingAndGlyphs">THP-1</text>
<text transform="translate(179.66,257) rotate(-90)" x="0" y="0" font-size="9.6" text-anchor="middle" fill="#222" textLength="63" lengthAdjust="spacingAndGlyphs">Cell viability(%)</text>
<line x1="199.4" y1="307.3" x2="199.4" y2="214" stroke="#222" stroke-width="1"/>
<line x1="195" y1="306.8" x2="199.4" y2="306.8" stroke="#222" stroke-width="1"/>
<text x="194.4" y="309.86" font-size="8.5" text-anchor="end" fill="#222" textLength="4.44" lengthAdjust="spacingAndGlyphs">0</text>
<line x1="195" y1="291.33" x2="199.4" y2="291.33" stroke="#222" stroke-width="1"/>
<text x="194.4" y="294.39" font-size="8.5" text-anchor="end" fill="#222" textLength="8.89" lengthAdjust="spacingAndGlyphs">20</text>
<line x1="195" y1="275.87" x2="199.4" y2="275.87" stroke="#222" stroke-width="1"/>
<text x="194.4" y="278.93" font-size="8.5" text-anchor="end" fill="#222" textLength="8.89" lengthAdjust="spacingAndGlyphs">40</text>
<line x1="195" y1="260.4" x2="199.4" y2="260.4" stroke="#222" stroke-width="1"/>
<text x="194.4" y="263.46" font-size="8.5" text-anchor="end" fill="#222" textLength="8.89" lengthAdjust="spacingAndGlyphs">60</text>
<line x1="195" y1="244.93" x2="199.4" y2="244.93" stroke="#222" stroke-width="1"/>
<text x="194.4" y="247.99" font-size="8.5" text-anchor="end" fill="#222" textLength="8.89" lengthAdjust="spacingAndGlyphs">80</text>
<line x1="195" y1="229.47" x2="199.4" y2="229.47" stroke="#222" stroke-width="1"/>
<text x="194.4" y="232.53" font-size="8.5" text-anchor="end" fill="#222" textLength="13.33" lengthAdjust="spacingAndGlyphs">100</text>
<line x1="195" y1="214" x2="199.4" y2="214" stroke="#222" stroke-width="1"/>
<text x="194.4" y="217.06" font-size="8.5" text-anchor="end" fill="#222" textLength="13.33" lengthAdjust="spacingAndGlyphs">120</text>
<line x1="198.9" y1="306.8" x2="340" y2="306.8" stroke="#222" stroke-width="1"/>
<line x1="210.4" y1="306.8" x2="210.4" y2="309.8" stroke="#222" stroke-width="1"/>
<line x1="227.63" y1="306.8" x2="227.63" y2="309.8" stroke="#222" stroke-width="1"/>
<line x1="244.86" y1="306.8" x2="244.86" y2="309.8" stroke="#222" stroke-width="1"/>
<line x1="262.09" y1="306.8" x2="262.09" y2="309.8" stroke="#222" stroke-width="1"/>
<line x1="279.32" y1="306.8" x2="279.32" y2="309.8" stroke="#222" stroke-width="1"/>
<line x1="296.55" y1="306.8" x2="296.55" y2="309.8" stroke="#222" stroke-width="1"/>
<line x1="313.78" y1="306.8" x2="313.78" y2="309.8" stroke="#222" stroke-width="1"/>
<line x1="331.01" y1="306.8" x2="331.01" y2="309.8" stroke="#222" stroke-width="1"/>
<text x="210.4" y="318.63" font-size="8.7" text-anchor="middle" fill="#222">0</text>
<text x="227.63" y="318.63" font-size="8.7" text-anchor="middle" fill="#222">0.25</text>
<text x="244.86" y="318.63" font-size="8.7" text-anchor="middle" fill="#222">0.5</text>
<text x="262.09" y="318.63" font-size="8.7" text-anchor="middle" fill="#222">1</text>
<text x="279.32" y="318.63" font-size="8.7" text-anchor="middle" fill="#222">2</text>
<text x="296.55" y="318.63" font-size="8.7" text-anchor="middle" fill="#222">4</text>
<text x="313.78" y="318.63" font-size="8.7" text-anchor="middle" fill="#222">8</text>
<text x="331.01" y="318.63" font-size="8.7" text-anchor="middle" fill="#222">16</text>
<text x="335.6" y="318.63" font-size="8.7" text-anchor="start" fill="#222">(μM)</text>
<text x="265.8" y="335.74" font-size="10.1" text-anchor="middle" fill="#222">concentration of RSL3</text>
<polyline points="210.4,229.47 227.63,233.33 244.86,238.75 262.09,236.81 279.32,234.88 296.55,243.39 313.78,246.48 331.01,251.12" stroke="#2424f5" stroke-width="1.2" fill="none"/>
<line x1="210.4" y1="232.56" x2="210.4" y2="226.37" stroke="#2424f5" stroke-width="1"/>
<line x1="208" y1="226.37" x2="212.8" y2="226.37" stroke="#2424f5" stroke-width="1"/>
<line x1="208" y1="232.56" x2="212.8" y2="232.56" stroke="#2424f5" stroke-width="1"/>
<line x1="227.63" y1="236.43" x2="227.63" y2="230.24" stroke="#2424f5" stroke-width="1"/>
<line x1="225.23" y1="230.24" x2="230.03" y2="230.24" stroke="#2424f5" stroke-width="1"/>
<line x1="225.23" y1="236.43" x2="230.03" y2="236.43" stroke="#2424f5" stroke-width="1"/>
<line x1="244.86" y1="241.84" x2="244.86" y2="235.65" stroke="#2424f5" stroke-width="1"/>
<line x1="242.46" y1="235.65" x2="247.26" y2="235.65" stroke="#2424f5" stroke-width="1"/>
<line x1="242.46" y1="241.84" x2="247.26" y2="241.84" stroke="#2424f5" stroke-width="1"/>
<line x1="262.09" y1="239.91" x2="262.09" y2="233.72" stroke="#2424f5" stroke-width="1"/>
<line x1="259.69" y1="233.72" x2="264.49" y2="233.72" stroke="#2424f5" stroke-width="1"/>
<line x1="259.69" y1="239.91" x2="264.49" y2="239.91" stroke="#2424f5" stroke-width="1"/>
<line x1="279.32" y1="237.97" x2="279.32" y2="231.79" stroke="#2424f5" stroke-width="1"/>
<line x1="276.92" y1="231.79" x2="281.72" y2="231.79" stroke="#2424f5" stroke-width="1"/>
<line x1="276.92" y1="237.97" x2="281.72" y2="237.97" stroke="#2424f5" stroke-width="1"/>
<line x1="296.55" y1="246.48" x2="296.55" y2="240.29" stroke="#2424f5" stroke-width="1"/>
<line x1="294.15" y1="240.29" x2="298.95" y2="240.29" stroke="#2424f5" stroke-width="1"/>
<line x1="294.15" y1="246.48" x2="298.95" y2="246.48" stroke="#2424f5" stroke-width="1"/>
<line x1="313.78" y1="250.35" x2="313.78" y2="242.61" stroke="#2424f5" stroke-width="1"/>
<line x1="311.38" y1="242.61" x2="316.18" y2="242.61" stroke="#2424f5" stroke-width="1"/>
<line x1="311.38" y1="250.35" x2="316.18" y2="250.35" stroke="#2424f5" stroke-width="1"/>
<line x1="331.01" y1="254.99" x2="331.01" y2="247.25" stroke="#2424f5" stroke-width="1"/>
<line x1="328.61" y1="247.25" x2="333.41" y2="247.25" stroke="#2424f5" stroke-width="1"/>
<line x1="328.61" y1="254.99" x2="333.41" y2="254.99" stroke="#2424f5" stroke-width="1"/>
<circle cx="210.4" cy="229.47" r="2.5" fill="#2424f5"/>
<circle cx="227.63" cy="233.33" r="2.5" fill="#2424f5"/>
<circle cx="244.86" cy="238.75" r="2.5" fill="#2424f5"/>
<circle cx="262.09" cy="236.81" r="2.5" fill="#2424f5"/>
<circle cx="279.32" cy="234.88" r="2.5" fill="#2424f5"/>
<circle cx="296.55" cy="243.39" r="2.5" fill="#2424f5"/>
<circle cx="313.78" cy="246.48" r="2.5" fill="#2424f5"/>
<circle cx="331.01" cy="251.12" r="2.5" fill="#2424f5"/>
<polyline points="210.4,230.24 227.63,232.56 244.86,234.11 262.09,235.65 279.32,235.65 296.55,239.52 313.78,250.35 331.01,255.76" stroke="#50d535" stroke-width="1.2" fill="none"/>
<line x1="210.4" y1="233.33" x2="210.4" y2="227.15" stroke="#50d535" stroke-width="1"/>
<line x1="208" y1="227.15" x2="212.8" y2="227.15" stroke="#50d535" stroke-width="1"/>
<line x1="208" y1="233.33" x2="212.8" y2="233.33" stroke="#50d535" stroke-width="1"/>
<line x1="227.63" y1="235.65" x2="227.63" y2="229.47" stroke="#50d535" stroke-width="1"/>
<line x1="225.23" y1="229.47" x2="230.03" y2="229.47" stroke="#50d535" stroke-width="1"/>
<line x1="225.23" y1="235.65" x2="230.03" y2="235.65" stroke="#50d535" stroke-width="1"/>
<line x1="244.86" y1="237.97" x2="244.86" y2="230.24" stroke="#50d535" stroke-width="1"/>
<line x1="242.46" y1="230.24" x2="247.26" y2="230.24" stroke="#50d535" stroke-width="1"/>
<line x1="242.46" y1="237.97" x2="247.26" y2="237.97" stroke="#50d535" stroke-width="1"/>
<line x1="262.09" y1="238.75" x2="262.09" y2="232.56" stroke="#50d535" stroke-width="1"/>
<line x1="259.69" y1="232.56" x2="264.49" y2="232.56" stroke="#50d535" stroke-width="1"/>
<line x1="259.69" y1="238.75" x2="264.49" y2="238.75" stroke="#50d535" stroke-width="1"/>
<line x1="279.32" y1="238.75" x2="279.32" y2="232.56" stroke="#50d535" stroke-width="1"/>
<line x1="276.92" y1="232.56" x2="281.72" y2="232.56" stroke="#50d535" stroke-width="1"/>
<line x1="276.92" y1="238.75" x2="281.72" y2="238.75" stroke="#50d535" stroke-width="1"/>
<line x1="296.55" y1="242.61" x2="296.55" y2="236.43" stroke="#50d535" stroke-width="1"/>
<line x1="294.15" y1="236.43" x2="298.95" y2="236.43" stroke="#50d535" stroke-width="1"/>
<line x1="294.15" y1="242.61" x2="298.95" y2="242.61" stroke="#50d535" stroke-width="1"/>
<line x1="313.78" y1="254.21" x2="313.78" y2="246.48" stroke="#50d535" stroke-width="1"/>
<line x1="311.38" y1="246.48" x2="316.18" y2="246.48" stroke="#50d535" stroke-width="1"/>
<line x1="311.38" y1="254.21" x2="316.18" y2="254.21" stroke="#50d535" stroke-width="1"/>
<line x1="331.01" y1="259.63" x2="331.01" y2="251.89" stroke="#50d535" stroke-width="1"/>
<line x1="328.61" y1="251.89" x2="333.41" y2="251.89" stroke="#50d535" stroke-width="1"/>
<line x1="328.61" y1="259.63" x2="333.41" y2="259.63" stroke="#50d535" stroke-width="1"/>
<polygon points="208.4,231.84 212.4,231.84 210.4,228.44" fill="#50d535"/>
<polygon points="225.63,234.16 229.63,234.16 227.63,230.76" fill="#50d535"/>
<polygon points="242.86,235.71 246.86,235.71 244.86,232.31" fill="#50d535"/>
<polygon points="260.09,237.25 264.09,237.25 262.09,233.85" fill="#50d535"/>
<polygon points="277.32,237.25 281.32,237.25 279.32,233.85" fill="#50d535"/>
<polygon points="294.55,241.12 298.55,241.12 296.55,237.72" fill="#50d535"/>
<polygon points="311.78,251.95 315.78,251.95 313.78,248.55" fill="#50d535"/>
<polygon points="329.01,257.36 333.01,257.36 331.01,253.96" fill="#50d535"/>
<polyline points="210.4,229.47 227.63,234.11 244.86,241.07 262.09,245.32 279.32,254.99 296.55,272 313.78,282.05 331.01,299.07" stroke="#f53030" stroke-width="1.2" fill="none"/>
<line x1="210.4" y1="232.56" x2="210.4" y2="226.37" stroke="#f53030" stroke-width="1"/>
<line x1="208" y1="226.37" x2="212.8" y2="226.37" stroke="#f53030" stroke-width="1"/>
<line x1="208" y1="232.56" x2="212.8" y2="232.56" stroke="#f53030" stroke-width="1"/>
<line x1="227.63" y1="236.43" x2="227.63" y2="231.79" stroke="#f53030" stroke-width="1"/>
<line x1="225.23" y1="231.79" x2="230.03" y2="231.79" stroke="#f53030" stroke-width="1"/>
<line x1="225.23" y1="236.43" x2="230.03" y2="236.43" stroke="#f53030" stroke-width="1"/>
<line x1="244.86" y1="243.39" x2="244.86" y2="238.75" stroke="#f53030" stroke-width="1"/>
<line x1="242.46" y1="238.75" x2="247.26" y2="238.75" stroke="#f53030" stroke-width="1"/>
<line x1="242.46" y1="243.39" x2="247.26" y2="243.39" stroke="#f53030" stroke-width="1"/>
<line x1="262.09" y1="248.41" x2="262.09" y2="242.23" stroke="#f53030" stroke-width="1"/>
<line x1="259.69" y1="242.23" x2="264.49" y2="242.23" stroke="#f53030" stroke-width="1"/>
<line x1="259.69" y1="248.41" x2="264.49" y2="248.41" stroke="#f53030" stroke-width="1"/>
<line x1="279.32" y1="258.08" x2="279.32" y2="251.89" stroke="#f53030" stroke-width="1"/>
<line x1="276.92" y1="251.89" x2="281.72" y2="251.89" stroke="#f53030" stroke-width="1"/>
<line x1="276.92" y1="258.08" x2="281.72" y2="258.08" stroke="#f53030" stroke-width="1"/>
<line x1="296.55" y1="274.32" x2="296.55" y2="269.68" stroke="#f53030" stroke-width="1"/>
<line x1="294.15" y1="269.68" x2="298.95" y2="269.68" stroke="#f53030" stroke-width="1"/>
<line x1="294.15" y1="274.32" x2="298.95" y2="274.32" stroke="#f53030" stroke-width="1"/>
<line x1="313.78" y1="286.69" x2="313.78" y2="277.41" stroke="#f53030" stroke-width="1"/>
<line x1="311.38" y1="277.41" x2="316.18" y2="277.41" stroke="#f53030" stroke-width="1"/>
<line x1="311.38" y1="286.69" x2="316.18" y2="286.69" stroke="#f53030" stroke-width="1"/>
<line x1="331.01" y1="302.93" x2="331.01" y2="295.2" stroke="#f53030" stroke-width="1"/>
<line x1="328.61" y1="295.2" x2="333.41" y2="295.2" stroke="#f53030" stroke-width="1"/>
<line x1="328.61" y1="302.93" x2="333.41" y2="302.93" stroke="#f53030" stroke-width="1"/>
<rect x="208.1" y="227.17" width="4.6" height="4.6" fill="#f53030"/>
<rect x="225.33" y="231.81" width="4.6" height="4.6" fill="#f53030"/>
<rect x="242.56" y="238.77" width="4.6" height="4.6" fill="#f53030"/>
<rect x="259.79" y="243.02" width="4.6" height="4.6" fill="#f53030"/>
<rect x="277.02" y="252.69" width="4.6" height="4.6" fill="#f53030"/>
<rect x="294.25" y="269.7" width="4.6" height="4.6" fill="#f53030"/>
<rect x="311.48" y="279.75" width="4.6" height="4.6" fill="#f53030"/>
<rect x="328.71" y="296.77" width="4.6" height="4.6" fill="#f53030"/>
<text x="262.09" y="257.33" font-size="9" text-anchor="middle" fill="#111">***</text>
<text x="279.32" y="269.03" font-size="9" text-anchor="middle" fill="#111">***</text>
<text x="296.55" y="286.93" font-size="9" text-anchor="middle" fill="#111">***</text>
<text x="313.78" y="298.13" font-size="9" text-anchor="middle" fill="#111">***</text>
<text x="339" y="305.83" font-size="9" text-anchor="middle" fill="#111">***</text>
<line x1="202" y1="208.6" x2="212.2" y2="208.6" stroke="#2424f5" stroke-width="1"/>
<circle cx="207.1" cy="208.6" r="1.9" fill="#2424f5"/>
<text x="213.5" y="211.73" font-size="8.7" text-anchor="start" fill="#111" textLength="21.5" lengthAdjust="spacingAndGlyphs">shNC</text>
<line x1="236" y1="208.6" x2="246.2" y2="208.6" stroke="#f53030" stroke-width="1"/>
<rect x="239.3" y="206.8" width="3.6" height="3.6" fill="#f53030"/>
<text x="247.5" y="211.73" font-size="8.7" text-anchor="start" fill="#111" textLength="37" lengthAdjust="spacingAndGlyphs">shGIT2-S</text>
<line x1="285.5" y1="208.6" x2="295.7" y2="208.6" stroke="#50d535" stroke-width="1"/>
<polygon points="289,209.88 292.2,209.88 290.6,207.16" fill="#50d535"/>
<text x="297" y="211.73" font-size="8.7" text-anchor="start" fill="#111" textLength="36" lengthAdjust="spacingAndGlyphs">shGIT2-L</text>
<text x="443.5" y="196.86" font-size="11" text-anchor="middle" fill="#000" font-weight="bold" textLength="31" lengthAdjust="spacingAndGlyphs">HL-60</text>
<text transform="translate(349.66,257) rotate(-90)" x="0" y="0" font-size="9.6" text-anchor="middle" fill="#222" textLength="63" lengthAdjust="spacingAndGlyphs">Cell viability(%)</text>
<line x1="369.9" y1="307.3" x2="369.9" y2="214" stroke="#222" stroke-width="1"/>
<line x1="365.5" y1="306.8" x2="369.9" y2="306.8" stroke="#222" stroke-width="1"/>
<text x="364.9" y="309.86" font-size="8.5" text-anchor="end" fill="#222" textLength="4.44" lengthAdjust="spacingAndGlyphs">0</text>
<line x1="365.5" y1="291.33" x2="369.9" y2="291.33" stroke="#222" stroke-width="1"/>
<text x="364.9" y="294.39" font-size="8.5" text-anchor="end" fill="#222" textLength="8.89" lengthAdjust="spacingAndGlyphs">20</text>
<line x1="365.5" y1="275.87" x2="369.9" y2="275.87" stroke="#222" stroke-width="1"/>
<text x="364.9" y="278.93" font-size="8.5" text-anchor="end" fill="#222" textLength="8.89" lengthAdjust="spacingAndGlyphs">40</text>
<line x1="365.5" y1="260.4" x2="369.9" y2="260.4" stroke="#222" stroke-width="1"/>
<text x="364.9" y="263.46" font-size="8.5" text-anchor="end" fill="#222" textLength="8.89" lengthAdjust="spacingAndGlyphs">60</text>
<line x1="365.5" y1="244.93" x2="369.9" y2="244.93" stroke="#222" stroke-width="1"/>
<text x="364.9" y="247.99" font-size="8.5" text-anchor="end" fill="#222" textLength="8.89" lengthAdjust="spacingAndGlyphs">80</text>
<line x1="365.5" y1="229.47" x2="369.9" y2="229.47" stroke="#222" stroke-width="1"/>
<text x="364.9" y="232.53" font-size="8.5" text-anchor="end" fill="#222" textLength="13.33" lengthAdjust="spacingAndGlyphs">100</text>
<line x1="365.5" y1="214" x2="369.9" y2="214" stroke="#222" stroke-width="1"/>
<text x="364.9" y="217.06" font-size="8.5" text-anchor="end" fill="#222" textLength="13.33" lengthAdjust="spacingAndGlyphs">120</text>
<line x1="369.4" y1="306.8" x2="506" y2="306.8" stroke="#222" stroke-width="1"/>
<line x1="380.9" y1="306.8" x2="380.9" y2="309.8" stroke="#222" stroke-width="1"/>
<line x1="397.94" y1="306.8" x2="397.94" y2="309.8" stroke="#222" stroke-width="1"/>
<line x1="414.98" y1="306.8" x2="414.98" y2="309.8" stroke="#222" stroke-width="1"/>
<line x1="432.02" y1="306.8" x2="432.02" y2="309.8" stroke="#222" stroke-width="1"/>
<line x1="449.06" y1="306.8" x2="449.06" y2="309.8" stroke="#222" stroke-width="1"/>
<line x1="466.1" y1="306.8" x2="466.1" y2="309.8" stroke="#222" stroke-width="1"/>
<line x1="483.14" y1="306.8" x2="483.14" y2="309.8" stroke="#222" stroke-width="1"/>
<line x1="500.18" y1="306.8" x2="500.18" y2="309.8" stroke="#222" stroke-width="1"/>
<text x="380.9" y="318.63" font-size="8.7" text-anchor="middle" fill="#222">0</text>
<text x="397.94" y="318.63" font-size="8.7" text-anchor="middle" fill="#222">1.25</text>
<text x="414.98" y="318.63" font-size="8.7" text-anchor="middle" fill="#222">2.5</text>
<text x="432.02" y="318.63" font-size="8.7" text-anchor="middle" fill="#222">5</text>
<text x="449.06" y="318.63" font-size="8.7" text-anchor="middle" fill="#222">10</text>
<text x="466.1" y="318.63" font-size="8.7" text-anchor="middle" fill="#222">20</text>
<text x="483.14" y="318.63" font-size="8.7" text-anchor="middle" fill="#222">40</text>
<text x="500.18" y="318.63" font-size="8.7" text-anchor="middle" fill="#222">80</text>
<text x="509" y="318.63" font-size="8.7" text-anchor="start" fill="#222">(μM)</text>
<text x="443.5" y="335.74" font-size="10.1" text-anchor="middle" fill="#222">concentration of Erastin</text>
<polyline points="380.9,229.47 397.94,238.75 414.98,237.97 432.02,250.73 449.06,272.77 466.1,278.96 483.14,284.37 500.18,288.24" stroke="#2424f5" stroke-width="1.2" fill="none"/>
<line x1="380.9" y1="232.56" x2="380.9" y2="226.37" stroke="#2424f5" stroke-width="1"/>
<line x1="378.5" y1="226.37" x2="383.3" y2="226.37" stroke="#2424f5" stroke-width="1"/>
<line x1="378.5" y1="232.56" x2="383.3" y2="232.56" stroke="#2424f5" stroke-width="1"/>
<line x1="397.94" y1="241.84" x2="397.94" y2="235.65" stroke="#2424f5" stroke-width="1"/>
<line x1="395.54" y1="235.65" x2="400.34" y2="235.65" stroke="#2424f5" stroke-width="1"/>
<line x1="395.54" y1="241.84" x2="400.34" y2="241.84" stroke="#2424f5" stroke-width="1"/>
<line x1="414.98" y1="241.07" x2="414.98" y2="234.88" stroke="#2424f5" stroke-width="1"/>
<line x1="412.58" y1="234.88" x2="417.38" y2="234.88" stroke="#2424f5" stroke-width="1"/>
<line x1="412.58" y1="241.07" x2="417.38" y2="241.07" stroke="#2424f5" stroke-width="1"/>
<line x1="432.02" y1="254.6" x2="432.02" y2="246.87" stroke="#2424f5" stroke-width="1"/>
<line x1="429.62" y1="246.87" x2="434.42" y2="246.87" stroke="#2424f5" stroke-width="1"/>
<line x1="429.62" y1="254.6" x2="434.42" y2="254.6" stroke="#2424f5" stroke-width="1"/>
<line x1="449.06" y1="275.87" x2="449.06" y2="269.68" stroke="#2424f5" stroke-width="1"/>
<line x1="446.66" y1="269.68" x2="451.46" y2="269.68" stroke="#2424f5" stroke-width="1"/>
<line x1="446.66" y1="275.87" x2="451.46" y2="275.87" stroke="#2424f5" stroke-width="1"/>
<line x1="466.1" y1="282.83" x2="466.1" y2="275.09" stroke="#2424f5" stroke-width="1"/>
<line x1="463.7" y1="275.09" x2="468.5" y2="275.09" stroke="#2424f5" stroke-width="1"/>
<line x1="463.7" y1="282.83" x2="468.5" y2="282.83" stroke="#2424f5" stroke-width="1"/>
<line x1="483.14" y1="287.47" x2="483.14" y2="281.28" stroke="#2424f5" stroke-width="1"/>
<line x1="480.74" y1="281.28" x2="485.54" y2="281.28" stroke="#2424f5" stroke-width="1"/>
<line x1="480.74" y1="287.47" x2="485.54" y2="287.47" stroke="#2424f5" stroke-width="1"/>
<line x1="500.18" y1="291.33" x2="500.18" y2="285.15" stroke="#2424f5" stroke-width="1"/>
<line x1="497.78" y1="285.15" x2="502.58" y2="285.15" stroke="#2424f5" stroke-width="1"/>
<line x1="497.78" y1="291.33" x2="502.58" y2="291.33" stroke="#2424f5" stroke-width="1"/>
<circle cx="380.9" cy="229.47" r="2.5" fill="#2424f5"/>
<circle cx="397.94" cy="238.75" r="2.5" fill="#2424f5"/>
<circle cx="414.98" cy="237.97" r="2.5" fill="#2424f5"/>
<circle cx="432.02" cy="250.73" r="2.5" fill="#2424f5"/>
<circle cx="449.06" cy="272.77" r="2.5" fill="#2424f5"/>
<circle cx="466.1" cy="278.96" r="2.5" fill="#2424f5"/>
<circle cx="483.14" cy="284.37" r="2.5" fill="#2424f5"/>
<circle cx="500.18" cy="288.24" r="2.5" fill="#2424f5"/>
<polyline points="380.9,229.47 397.94,234.88 414.98,238.75 432.02,242.61 449.06,243 466.1,241.84 483.14,241.84 500.18,245.71" stroke="#50d535" stroke-width="1.2" fill="none"/>
<line x1="380.9" y1="231.79" x2="380.9" y2="227.15" stroke="#50d535" stroke-width="1"/>
<line x1="378.5" y1="227.15" x2="383.3" y2="227.15" stroke="#50d535" stroke-width="1"/>
<line x1="378.5" y1="231.79" x2="383.3" y2="231.79" stroke="#50d535" stroke-width="1"/>
<line x1="397.94" y1="238.75" x2="397.94" y2="231.01" stroke="#50d535" stroke-width="1"/>
<line x1="395.54" y1="231.01" x2="400.34" y2="231.01" stroke="#50d535" stroke-width="1"/>
<line x1="395.54" y1="238.75" x2="400.34" y2="238.75" stroke="#50d535" stroke-width="1"/>
<line x1="414.98" y1="242.61" x2="414.98" y2="234.88" stroke="#50d535" stroke-width="1"/>
<line x1="412.58" y1="234.88" x2="417.38" y2="234.88" stroke="#50d535" stroke-width="1"/>
<line x1="412.58" y1="242.61" x2="417.38" y2="242.61" stroke="#50d535" stroke-width="1"/>
<line x1="432.02" y1="247.25" x2="432.02" y2="237.97" stroke="#50d535" stroke-width="1"/>
<line x1="429.62" y1="237.97" x2="434.42" y2="237.97" stroke="#50d535" stroke-width="1"/>
<line x1="429.62" y1="247.25" x2="434.42" y2="247.25" stroke="#50d535" stroke-width="1"/>
<line x1="449.06" y1="246.87" x2="449.06" y2="239.13" stroke="#50d535" stroke-width="1"/>
<line x1="446.66" y1="239.13" x2="451.46" y2="239.13" stroke="#50d535" stroke-width="1"/>
<line x1="446.66" y1="246.87" x2="451.46" y2="246.87" stroke="#50d535" stroke-width="1"/>
<line x1="466.1" y1="245.71" x2="466.1" y2="237.97" stroke="#50d535" stroke-width="1"/>
<line x1="463.7" y1="237.97" x2="468.5" y2="237.97" stroke="#50d535" stroke-width="1"/>
<line x1="463.7" y1="245.71" x2="468.5" y2="245.71" stroke="#50d535" stroke-width="1"/>
<line x1="483.14" y1="246.48" x2="483.14" y2="237.2" stroke="#50d535" stroke-width="1"/>
<line x1="480.74" y1="237.2" x2="485.54" y2="237.2" stroke="#50d535" stroke-width="1"/>
<line x1="480.74" y1="246.48" x2="485.54" y2="246.48" stroke="#50d535" stroke-width="1"/>
<line x1="500.18" y1="249.57" x2="500.18" y2="241.84" stroke="#50d535" stroke-width="1"/>
<line x1="497.78" y1="241.84" x2="502.58" y2="241.84" stroke="#50d535" stroke-width="1"/>
<line x1="497.78" y1="249.57" x2="502.58" y2="249.57" stroke="#50d535" stroke-width="1"/>
<polygon points="378.9,231.07 382.9,231.07 380.9,227.67" fill="#50d535"/>
<polygon points="395.94,236.48 399.94,236.48 397.94,233.08" fill="#50d535"/>
<polygon points="412.98,240.35 416.98,240.35 414.98,236.95" fill="#50d535"/>
<polygon points="430.02,244.21 434.02,244.21 432.02,240.81" fill="#50d535"/>
<polygon points="447.06,244.6 451.06,244.6 449.06,241.2" fill="#50d535"/>
<polygon points="464.1,243.44 468.1,243.44 466.1,240.04" fill="#50d535"/>
<polygon points="481.14,243.44 485.14,243.44 483.14,240.04" fill="#50d535"/>
<polygon points="498.18,247.31 502.18,247.31 500.18,243.91" fill="#50d535"/>
<polyline points="380.9,229.47 397.94,239.52 414.98,246.48 432.02,265.04 449.06,278.19 466.1,286.69 483.14,289.01 500.18,295.2" stroke="#f53030" stroke-width="1.2" fill="none"/>
<line x1="380.9" y1="231.79" x2="380.9" y2="227.15" stroke="#f53030" stroke-width="1"/>
<line x1="378.5" y1="227.15" x2="383.3" y2="227.15" stroke="#f53030" stroke-width="1"/>
<line x1="378.5" y1="231.79" x2="383.3" y2="231.79" stroke="#f53030" stroke-width="1"/>
<line x1="397.94" y1="242.61" x2="397.94" y2="236.43" stroke="#f53030" stroke-width="1"/>
<line x1="395.54" y1="236.43" x2="400.34" y2="236.43" stroke="#f53030" stroke-width="1"/>
<line x1="395.54" y1="242.61" x2="400.34" y2="242.61" stroke="#f53030" stroke-width="1"/>
<line x1="414.98" y1="249.57" x2="414.98" y2="243.39" stroke="#f53030" stroke-width="1"/>
<line x1="412.58" y1="243.39" x2="417.38" y2="243.39" stroke="#f53030" stroke-width="1"/>
<line x1="412.58" y1="249.57" x2="417.38" y2="249.57" stroke="#f53030" stroke-width="1"/>
<line x1="432.02" y1="268.13" x2="432.02" y2="261.95" stroke="#f53030" stroke-width="1"/>
<line x1="429.62" y1="261.95" x2="434.42" y2="261.95" stroke="#f53030" stroke-width="1"/>
<line x1="429.62" y1="268.13" x2="434.42" y2="268.13" stroke="#f53030" stroke-width="1"/>
<line x1="449.06" y1="282.05" x2="449.06" y2="274.32" stroke="#f53030" stroke-width="1"/>
<line x1="446.66" y1="274.32" x2="451.46" y2="274.32" stroke="#f53030" stroke-width="1"/>
<line x1="446.66" y1="282.05" x2="451.46" y2="282.05" stroke="#f53030" stroke-width="1"/>
<line x1="466.1" y1="291.33" x2="466.1" y2="282.05" stroke="#f53030" stroke-width="1"/>
<line x1="463.7" y1="282.05" x2="468.5" y2="282.05" stroke="#f53030" stroke-width="1"/>
<line x1="463.7" y1="291.33" x2="468.5" y2="291.33" stroke="#f53030" stroke-width="1"/>
<line x1="483.14" y1="292.11" x2="483.14" y2="285.92" stroke="#f53030" stroke-width="1"/>
<line x1="480.74" y1="285.92" x2="485.54" y2="285.92" stroke="#f53030" stroke-width="1"/>
<line x1="480.74" y1="292.11" x2="485.54" y2="292.11" stroke="#f53030" stroke-width="1"/>
<line x1="500.18" y1="299.07" x2="500.18" y2="291.33" stroke="#f53030" stroke-width="1"/>
<line x1="497.78" y1="291.33" x2="502.58" y2="291.33" stroke="#f53030" stroke-width="1"/>
<line x1="497.78" y1="299.07" x2="502.58" y2="299.07" stroke="#f53030" stroke-width="1"/>
<rect x="378.6" y="227.17" width="4.6" height="4.6" fill="#f53030"/>
<rect x="395.64" y="237.22" width="4.6" height="4.6" fill="#f53030"/>
<rect x="412.68" y="244.18" width="4.6" height="4.6" fill="#f53030"/>
<rect x="429.72" y="262.74" width="4.6" height="4.6" fill="#f53030"/>
<rect x="446.76" y="275.89" width="4.6" height="4.6" fill="#f53030"/>
<rect x="463.8" y="284.39" width="4.6" height="4.6" fill="#f53030"/>
<rect x="480.84" y="286.71" width="4.6" height="4.6" fill="#f53030"/>
<rect x="497.88" y="292.9" width="4.6" height="4.6" fill="#f53030"/>
<text x="449.06" y="240.13" font-size="9" text-anchor="middle" fill="#111">***</text>
<text x="466.1" y="238.43" font-size="9" text-anchor="middle" fill="#111">***</text>
<text x="483.14" y="236.83" font-size="9" text-anchor="middle" fill="#111">***</text>
<text x="500.18" y="241.93" font-size="9" text-anchor="middle" fill="#111">***</text>
<text x="432.02" y="280.33" font-size="9" text-anchor="middle" fill="#111">***</text>
<text x="449.06" y="292.53" font-size="9" text-anchor="middle" fill="#111">*</text>
<text x="466.1" y="301.53" font-size="9" text-anchor="middle" fill="#111">**</text>
<text x="500.18" y="309.13" font-size="9" text-anchor="middle" fill="#111">**</text>
<line x1="374.5" y1="208.6" x2="384.7" y2="208.6" stroke="#2424f5" stroke-width="1"/>
<circle cx="379.6" cy="208.6" r="1.9" fill="#2424f5"/>
<text x="386" y="211.73" font-size="8.7" text-anchor="start" fill="#111" textLength="21.5" lengthAdjust="spacingAndGlyphs">shNC</text>
<line x1="408.5" y1="208.6" x2="418.7" y2="208.6" stroke="#f53030" stroke-width="1"/>
<rect x="411.8" y="206.8" width="3.6" height="3.6" fill="#f53030"/>
<text x="420" y="211.73" font-size="8.7" text-anchor="start" fill="#111" textLength="37" lengthAdjust="spacingAndGlyphs">shGIT2-S</text>
<line x1="458" y1="208.6" x2="468.2" y2="208.6" stroke="#50d535" stroke-width="1"/>
<polygon points="461.5,209.88 464.7,209.88 463.1,207.16" fill="#50d535"/>
<text x="469.5" y="211.73" font-size="8.7" text-anchor="start" fill="#111" textLength="36" lengthAdjust="spacingAndGlyphs">shGIT2-L</text>
<text x="614.2" y="196.86" font-size="11" text-anchor="middle" fill="#000" font-weight="bold" textLength="31" lengthAdjust="spacingAndGlyphs">HL-60</text>
<text transform="translate(517.56,257) rotate(-90)" x="0" y="0" font-size="9.6" text-anchor="middle" fill="#222" textLength="63" lengthAdjust="spacingAndGlyphs">Cell viability(%)</text>
<line x1="538.9" y1="307.3" x2="538.9" y2="214" stroke="#222" stroke-width="1"/>
<line x1="534.5" y1="306.8" x2="538.9" y2="306.8" stroke="#222" stroke-width="1"/>
<text x="533.9" y="309.86" font-size="8.5" text-anchor="end" fill="#222" textLength="4.44" lengthAdjust="spacingAndGlyphs">0</text>
<line x1="534.5" y1="291.33" x2="538.9" y2="291.33" stroke="#222" stroke-width="1"/>
<text x="533.9" y="294.39" font-size="8.5" text-anchor="end" fill="#222" textLength="8.89" lengthAdjust="spacingAndGlyphs">20</text>
<line x1="534.5" y1="275.87" x2="538.9" y2="275.87" stroke="#222" stroke-width="1"/>
<text x="533.9" y="278.93" font-size="8.5" text-anchor="end" fill="#222" textLength="8.89" lengthAdjust="spacingAndGlyphs">40</text>
<line x1="534.5" y1="260.4" x2="538.9" y2="260.4" stroke="#222" stroke-width="1"/>
<text x="533.9" y="263.46" font-size="8.5" text-anchor="end" fill="#222" textLength="8.89" lengthAdjust="spacingAndGlyphs">60</text>
<line x1="534.5" y1="244.93" x2="538.9" y2="244.93" stroke="#222" stroke-width="1"/>
<text x="533.9" y="247.99" font-size="8.5" text-anchor="end" fill="#222" textLength="8.89" lengthAdjust="spacingAndGlyphs">80</text>
<line x1="534.5" y1="229.47" x2="538.9" y2="229.47" stroke="#222" stroke-width="1"/>
<text x="533.9" y="232.53" font-size="8.5" text-anchor="end" fill="#222" textLength="13.33" lengthAdjust="spacingAndGlyphs">100</text>
<line x1="534.5" y1="214" x2="538.9" y2="214" stroke="#222" stroke-width="1"/>
<text x="533.9" y="217.06" font-size="8.5" text-anchor="end" fill="#222" textLength="13.33" lengthAdjust="spacingAndGlyphs">120</text>
<line x1="538.4" y1="306.8" x2="672" y2="306.8" stroke="#222" stroke-width="1"/>
<line x1="550.1" y1="306.8" x2="550.1" y2="309.8" stroke="#222" stroke-width="1"/>
<line x1="567.07" y1="306.8" x2="567.07" y2="309.8" stroke="#222" stroke-width="1"/>
<line x1="584.04" y1="306.8" x2="584.04" y2="309.8" stroke="#222" stroke-width="1"/>
<line x1="601.01" y1="306.8" x2="601.01" y2="309.8" stroke="#222" stroke-width="1"/>
<line x1="617.98" y1="306.8" x2="617.98" y2="309.8" stroke="#222" stroke-width="1"/>
<line x1="634.95" y1="306.8" x2="634.95" y2="309.8" stroke="#222" stroke-width="1"/>
<line x1="651.92" y1="306.8" x2="651.92" y2="309.8" stroke="#222" stroke-width="1"/>
<line x1="668.89" y1="306.8" x2="668.89" y2="309.8" stroke="#222" stroke-width="1"/>
<text x="550.1" y="318.63" font-size="8.7" text-anchor="middle" fill="#222">0</text>
<text x="567" y="318.63" font-size="8.7" text-anchor="middle" fill="#222">0.25</text>
<text x="584" y="318.63" font-size="8.7" text-anchor="middle" fill="#222">0.5</text>
<text x="596.9" y="318.63" font-size="8.7" text-anchor="middle" fill="#222">1</text>
<text x="612.2" y="318.63" font-size="8.7" text-anchor="middle" fill="#222">2</text>
<text x="628" y="318.63" font-size="8.7" text-anchor="middle" fill="#222">4</text>
<text x="645.4" y="318.63" font-size="8.7" text-anchor="middle" fill="#222">8</text>
<text x="670.7" y="318.63" font-size="8.7" text-anchor="middle" fill="#222">16(μM)</text>
<text x="609.6" y="335.74" font-size="10.1" text-anchor="middle" fill="#222">concentration of RSL3</text>
<polyline points="550.1,229.47 567.07,241.07 584.04,264.27 601.01,274.32 617.98,280.51 634.95,286.69 651.92,288.24 668.89,288.63" stroke="#2424f5" stroke-width="1.2" fill="none"/>
<line x1="550.1" y1="232.56" x2="550.1" y2="226.37" stroke="#2424f5" stroke-width="1"/>
<line x1="547.7" y1="226.37" x2="552.5" y2="226.37" stroke="#2424f5" stroke-width="1"/>
<line x1="547.7" y1="232.56" x2="552.5" y2="232.56" stroke="#2424f5" stroke-width="1"/>
<line x1="567.07" y1="244.16" x2="567.07" y2="237.97" stroke="#2424f5" stroke-width="1"/>
<line x1="564.67" y1="237.97" x2="569.47" y2="237.97" stroke="#2424f5" stroke-width="1"/>
<line x1="564.67" y1="244.16" x2="569.47" y2="244.16" stroke="#2424f5" stroke-width="1"/>
<line x1="584.04" y1="267.36" x2="584.04" y2="261.17" stroke="#2424f5" stroke-width="1"/>
<line x1="581.64" y1="261.17" x2="586.44" y2="261.17" stroke="#2424f5" stroke-width="1"/>
<line x1="581.64" y1="267.36" x2="586.44" y2="267.36" stroke="#2424f5" stroke-width="1"/>
<line x1="601.01" y1="278.19" x2="601.01" y2="270.45" stroke="#2424f5" stroke-width="1"/>
<line x1="598.61" y1="270.45" x2="603.41" y2="270.45" stroke="#2424f5" stroke-width="1"/>
<line x1="598.61" y1="278.19" x2="603.41" y2="278.19" stroke="#2424f5" stroke-width="1"/>
<line x1="617.98" y1="284.37" x2="617.98" y2="276.64" stroke="#2424f5" stroke-width="1"/>
<line x1="615.58" y1="276.64" x2="620.38" y2="276.64" stroke="#2424f5" stroke-width="1"/>
<line x1="615.58" y1="284.37" x2="620.38" y2="284.37" stroke="#2424f5" stroke-width="1"/>
<line x1="634.95" y1="290.56" x2="634.95" y2="282.83" stroke="#2424f5" stroke-width="1"/>
<line x1="632.55" y1="282.83" x2="637.35" y2="282.83" stroke="#2424f5" stroke-width="1"/>
<line x1="632.55" y1="290.56" x2="637.35" y2="290.56" stroke="#2424f5" stroke-width="1"/>
<line x1="651.92" y1="291.33" x2="651.92" y2="285.15" stroke="#2424f5" stroke-width="1"/>
<line x1="649.52" y1="285.15" x2="654.32" y2="285.15" stroke="#2424f5" stroke-width="1"/>
<line x1="649.52" y1="291.33" x2="654.32" y2="291.33" stroke="#2424f5" stroke-width="1"/>
<line x1="668.89" y1="291.72" x2="668.89" y2="285.53" stroke="#2424f5" stroke-width="1"/>
<line x1="666.49" y1="285.53" x2="671.29" y2="285.53" stroke="#2424f5" stroke-width="1"/>
<line x1="666.49" y1="291.72" x2="671.29" y2="291.72" stroke="#2424f5" stroke-width="1"/>
<circle cx="550.1" cy="229.47" r="2.5" fill="#2424f5"/>
<circle cx="567.07" cy="241.07" r="2.5" fill="#2424f5"/>
<circle cx="584.04" cy="264.27" r="2.5" fill="#2424f5"/>
<circle cx="601.01" cy="274.32" r="2.5" fill="#2424f5"/>
<circle cx="617.98" cy="280.51" r="2.5" fill="#2424f5"/>
<circle cx="634.95" cy="286.69" r="2.5" fill="#2424f5"/>
<circle cx="651.92" cy="288.24" r="2.5" fill="#2424f5"/>
<circle cx="668.89" cy="288.63" r="2.5" fill="#2424f5"/>
<polyline points="550.1,229.47 567.07,234.88 584.04,236.04 601.01,236.81 617.98,237.97 634.95,240.68 651.92,241.84 668.89,243.39" stroke="#50d535" stroke-width="1.2" fill="none"/>
<line x1="550.1" y1="231.79" x2="550.1" y2="227.15" stroke="#50d535" stroke-width="1"/>
<line x1="547.7" y1="227.15" x2="552.5" y2="227.15" stroke="#50d535" stroke-width="1"/>
<line x1="547.7" y1="231.79" x2="552.5" y2="231.79" stroke="#50d535" stroke-width="1"/>
<line x1="567.07" y1="238.75" x2="567.07" y2="231.01" stroke="#50d535" stroke-width="1"/>
<line x1="564.67" y1="231.01" x2="569.47" y2="231.01" stroke="#50d535" stroke-width="1"/>
<line x1="564.67" y1="238.75" x2="569.47" y2="238.75" stroke="#50d535" stroke-width="1"/>
<line x1="584.04" y1="240.68" x2="584.04" y2="231.4" stroke="#50d535" stroke-width="1"/>
<line x1="581.64" y1="231.4" x2="586.44" y2="231.4" stroke="#50d535" stroke-width="1"/>
<line x1="581.64" y1="240.68" x2="586.44" y2="240.68" stroke="#50d535" stroke-width="1"/>
<line x1="601.01" y1="239.91" x2="601.01" y2="233.72" stroke="#50d535" stroke-width="1"/>
<line x1="598.61" y1="233.72" x2="603.41" y2="233.72" stroke="#50d535" stroke-width="1"/>
<line x1="598.61" y1="239.91" x2="603.41" y2="239.91" stroke="#50d535" stroke-width="1"/>
<line x1="617.98" y1="241.07" x2="617.98" y2="234.88" stroke="#50d535" stroke-width="1"/>
<line x1="615.58" y1="234.88" x2="620.38" y2="234.88" stroke="#50d535" stroke-width="1"/>
<line x1="615.58" y1="241.07" x2="620.38" y2="241.07" stroke="#50d535" stroke-width="1"/>
<line x1="634.95" y1="246.09" x2="634.95" y2="235.27" stroke="#50d535" stroke-width="1"/>
<line x1="632.55" y1="235.27" x2="637.35" y2="235.27" stroke="#50d535" stroke-width="1"/>
<line x1="632.55" y1="246.09" x2="637.35" y2="246.09" stroke="#50d535" stroke-width="1"/>
<line x1="651.92" y1="247.25" x2="651.92" y2="236.43" stroke="#50d535" stroke-width="1"/>
<line x1="649.52" y1="236.43" x2="654.32" y2="236.43" stroke="#50d535" stroke-width="1"/>
<line x1="649.52" y1="247.25" x2="654.32" y2="247.25" stroke="#50d535" stroke-width="1"/>
<line x1="668.89" y1="249.57" x2="668.89" y2="237.2" stroke="#50d535" stroke-width="1"/>
<line x1="666.49" y1="237.2" x2="671.29" y2="237.2" stroke="#50d535" stroke-width="1"/>
<line x1="666.49" y1="249.57" x2="671.29" y2="249.57" stroke="#50d535" stroke-width="1"/>
<polygon points="548.1,231.07 552.1,231.07 550.1,227.67" fill="#50d535"/>
<polygon points="565.07,236.48 569.07,236.48 567.07,233.08" fill="#50d535"/>
<polygon points="582.04,237.64 586.04,237.64 584.04,234.24" fill="#50d535"/>
<polygon points="599.01,238.41 603.01,238.41 601.01,235.01" fill="#50d535"/>
<polygon points="615.98,239.57 619.98,239.57 617.98,236.17" fill="#50d535"/>
<polygon points="632.95,242.28 636.95,242.28 634.95,238.88" fill="#50d535"/>
<polygon points="649.92,243.44 653.92,243.44 651.92,240.04" fill="#50d535"/>
<polygon points="666.89,244.99 670.89,244.99 668.89,241.59" fill="#50d535"/>
<polyline points="550.1,230.24 567.07,248.03 584.04,269.68 601.01,279.73 617.98,285.92 634.95,292.11 651.92,295.2 668.89,298.29" stroke="#f53030" stroke-width="1.2" fill="none"/>
<line x1="550.1" y1="233.33" x2="550.1" y2="227.15" stroke="#f53030" stroke-width="1"/>
<line x1="547.7" y1="227.15" x2="552.5" y2="227.15" stroke="#f53030" stroke-width="1"/>
<line x1="547.7" y1="233.33" x2="552.5" y2="233.33" stroke="#f53030" stroke-width="1"/>
<line x1="567.07" y1="251.12" x2="567.07" y2="244.93" stroke="#f53030" stroke-width="1"/>
<line x1="564.67" y1="244.93" x2="569.47" y2="244.93" stroke="#f53030" stroke-width="1"/>
<line x1="564.67" y1="251.12" x2="569.47" y2="251.12" stroke="#f53030" stroke-width="1"/>
<line x1="584.04" y1="273.55" x2="584.04" y2="265.81" stroke="#f53030" stroke-width="1"/>
<line x1="581.64" y1="265.81" x2="586.44" y2="265.81" stroke="#f53030" stroke-width="1"/>
<line x1="581.64" y1="273.55" x2="586.44" y2="273.55" stroke="#f53030" stroke-width="1"/>
<line x1="601.01" y1="283.6" x2="601.01" y2="275.87" stroke="#f53030" stroke-width="1"/>
<line x1="598.61" y1="275.87" x2="603.41" y2="275.87" stroke="#f53030" stroke-width="1"/>
<line x1="598.61" y1="283.6" x2="603.41" y2="283.6" stroke="#f53030" stroke-width="1"/>
<line x1="617.98" y1="289.01" x2="617.98" y2="282.83" stroke="#f53030" stroke-width="1"/>
<line x1="615.58" y1="282.83" x2="620.38" y2="282.83" stroke="#f53030" stroke-width="1"/>
<line x1="615.58" y1="289.01" x2="620.38" y2="289.01" stroke="#f53030" stroke-width="1"/>
<line x1="634.95" y1="295.97" x2="634.95" y2="288.24" stroke="#f53030" stroke-width="1"/>
<line x1="632.55" y1="288.24" x2="637.35" y2="288.24" stroke="#f53030" stroke-width="1"/>
<line x1="632.55" y1="295.97" x2="637.35" y2="295.97" stroke="#f53030" stroke-width="1"/>
<line x1="651.92" y1="298.29" x2="651.92" y2="292.11" stroke="#f53030" stroke-width="1"/>
<line x1="649.52" y1="292.11" x2="654.32" y2="292.11" stroke="#f53030" stroke-width="1"/>
<line x1="649.52" y1="298.29" x2="654.32" y2="298.29" stroke="#f53030" stroke-width="1"/>
<line x1="668.89" y1="301.39" x2="668.89" y2="295.2" stroke="#f53030" stroke-width="1"/>
<line x1="666.49" y1="295.2" x2="671.29" y2="295.2" stroke="#f53030" stroke-width="1"/>
<line x1="666.49" y1="301.39" x2="671.29" y2="301.39" stroke="#f53030" stroke-width="1"/>
<rect x="547.8" y="227.94" width="4.6" height="4.6" fill="#f53030"/>
<rect x="564.77" y="245.73" width="4.6" height="4.6" fill="#f53030"/>
<rect x="581.74" y="267.38" width="4.6" height="4.6" fill="#f53030"/>
<rect x="598.71" y="277.43" width="4.6" height="4.6" fill="#f53030"/>
<rect x="615.68" y="283.62" width="4.6" height="4.6" fill="#f53030"/>
<rect x="632.65" y="289.81" width="4.6" height="4.6" fill="#f53030"/>
<rect x="649.62" y="292.9" width="4.6" height="4.6" fill="#f53030"/>
<rect x="666.59" y="295.99" width="4.6" height="4.6" fill="#f53030"/>
<text x="584.04" y="233.23" font-size="9" text-anchor="middle" fill="#111">***</text>
<text x="601.01" y="235.83" font-size="9" text-anchor="middle" fill="#111">***</text>
<text x="617.98" y="235.83" font-size="9" text-anchor="middle" fill="#111">***</text>
<text x="634.95" y="236.83" font-size="9" text-anchor="middle" fill="#111">***</text>
<text x="651.92" y="238.43" font-size="9" text-anchor="middle" fill="#111">***</text>
<text x="668.89" y="238.43" font-size="9" text-anchor="middle" fill="#111">***</text>
<text x="567.07" y="263.13" font-size="9" text-anchor="middle" fill="#111">*</text>
<text x="584.04" y="283.63" font-size="9" text-anchor="middle" fill="#111">*</text>
<text x="601.01" y="293.83" font-size="9" text-anchor="middle" fill="#111">**</text>
<text x="634.95" y="305.33" font-size="9" text-anchor="middle" fill="#111">*</text>
<text x="651.92" y="307.83" font-size="9" text-anchor="middle" fill="#111">*</text>
<text x="676.6" y="309.13" font-size="9" text-anchor="middle" fill="#111">**</text>
<line x1="543.2" y1="208.6" x2="553.4" y2="208.6" stroke="#2424f5" stroke-width="1"/>
<circle cx="548.3" cy="208.6" r="1.9" fill="#2424f5"/>
<text x="554.7" y="211.73" font-size="8.7" text-anchor="start" fill="#111" textLength="21.5" lengthAdjust="spacingAndGlyphs">shNC</text>
<line x1="577.2" y1="208.6" x2="587.4" y2="208.6" stroke="#f53030" stroke-width="1"/>
<rect x="580.5" y="206.8" width="3.6" height="3.6" fill="#f53030"/>
<text x="588.7" y="211.73" font-size="8.7" text-anchor="start" fill="#111" textLength="37" lengthAdjust="spacingAndGlyphs">shGIT2-S</text>
<line x1="626.7" y1="208.6" x2="636.9" y2="208.6" stroke="#50d535" stroke-width="1"/>
<polygon points="630.2,209.88 633.4,209.88 631.8,207.16" fill="#50d535"/>
<text x="638.2" y="211.73" font-size="8.7" text-anchor="start" fill="#111" textLength="36" lengthAdjust="spacingAndGlyphs">shGIT2-L</text>
<text x="5" y="358.72" font-size="14.5" text-anchor="start" fill="#000" font-weight="bold">D</text>
<text x="72.8" y="375.98" font-size="11.6" text-anchor="middle" fill="#000" font-weight="bold" textLength="34.5" lengthAdjust="spacingAndGlyphs">THP-1</text>
<text x="71.5" y="382.51" font-size="5.3" text-anchor="middle" fill="#222" textLength="37" lengthAdjust="spacingAndGlyphs">Multi-sample : P1</text>
<clipPath id="cf22"><rect x="22.3" y="385.2" width="105.5" height="105.4"/></clipPath><g clip-path="url(#cf22)">
<polyline points="35.5,490.52 36,490.49 36.5,490.45 37,490.4 37.5,490.34 38,490.27 38.5,490.17 39,490.05 39.5,489.9 40,490.38 40.5,490.35 41,489.3 41.5,489.14 42,489.48 42.5,489.53 43,487.92 43.5,486.73 44,486.67 44.5,486.24 45,486.42 45.5,484.36 46,482.37 46.5,480.84 47,477.36 47.5,475.99 48,475 48.5,471.52 49,469.34 49.5,467.28 50,465.71 50.5,463.75 51,461.46 51.5,455.33 52,448.33 52.5,447.11 53,445.18 53.5,441.55 54,432.26 54.5,426.9 55,428.29 55.5,424.9 56,418.5 56.5,419.68 57,417.3 57.5,411.33 58,410.44 58.5,407.5 59,402.83 59.5,403.61 60,406.15 60.5,402.66 61,401.33 61.5,402.08 62,400.7 62.5,400.7 63,403.26 63.5,408.21 64,407.12 64.5,404.27 65,404.77 65.5,405.71 66,406.99 66.5,409.71 67,412.98 67.5,414.25 68,418.82 68.5,424.5 69,427.61 69.5,427.79 70,432.61 70.5,436.01 71,436.04 71.5,437.55 72,442.25 72.5,445.28 73,446.65 73.5,450.55 74,453.22 74.5,455.6 75,459.88 75.5,462.45 76,464.75 76.5,464.38 77,466.4 77.5,470.96 78,474.07 78.5,475.16 79,475.4 79.5,477.04 80,479.9 80.5,481.88 81,482.87 81.5,483.06 82,484.02 82.5,484.99 83,484.2 83.5,486.22 84,487.73 84.5,487.35 85,488.57 85.5,488.25 86,488.18 86.5,488.75 87,488.64 87.5,488.36 88,489.29 88.5,490.32 89,489.92 89.5,490.04 90,490.15 90.5,490.23 91,490.3 91.5,490.36 92,490.41 92.5,490.45 93,490.48 93.5,490.5 94,490.52" stroke="#f23c3a" stroke-width="0.8" fill="none"/>
<polyline points="36,490.46 36.5,490.42 37,490.38 37.5,490.32 38,490.24 38.5,490.15 39,490.04 39.5,489.91 40,490.6 40.5,490.12 41,488.67 41.5,488.61 42,487.86 42.5,487.89 43,487.68 43.5,486.68 44,485.98 44.5,486.16 45,484.33 45.5,483.05 46,482.51 46.5,480.96 47,481 47.5,480.71 48,478.05 48.5,476.08 49,474.98 49.5,473.1 50,470.01 50.5,467.69 51,467.89 51.5,464.96 52,459.9 52.5,457.37 53,452.61 53.5,451.67 54,450.93 54.5,443.08 55,439.24 55.5,437.11 56,433.28 56.5,429.59 57,426.34 57.5,427.01 58,419.6 58.5,416.22 59,416.96 59.5,411.69 60,407.27 60.5,406.63 61,410.56 61.5,411.99 62,404.8 62.5,400.5 63,400.5 63.5,400.5 64,402 64.5,404.2 65,400.5 65.5,400.5 66,408.18 66.5,402.11 67,402.29 67.5,404.59 68,410.43 68.5,416.19 69,413.55 69.5,413.83 70,415.34 70.5,416.49 71,419.71 71.5,427.9 72,428.36 72.5,426.92 73,432.63 73.5,437.29 74,444.76 74.5,447.03 75,445.51 75.5,450.3 76,454.13 76.5,457.28 77,458.41 77.5,458.05 78,463.02 78.5,468.27 79,471.17 79.5,471.2 80,472.14 80.5,475.13 81,477.16 81.5,479.51 82,481.72 82.5,482.05 83,483.3 83.5,484.45 84,484.89 84.5,484.66 85,485.5 85.5,488.5 86,488.52 86.5,487.8 87,488.2 87.5,489.05 88,489.39 88.5,489.78 89,490.6 89.5,489.83 90,489.98 90.5,490.1 91,490.2 91.5,490.28 92,490.35 92.5,490.4 93,490.44 93.5,490.48 94,490.5 94.5,490.53 95,490.54" stroke="#50e030" stroke-width="0.8" fill="none"/>
<polyline points="42,490.46 42.5,490.42 43,490.37 43.5,490.31 44,490.24 44.5,490.16 45,490.05 45.5,489.92 46,490.1 46.5,489.41 47,489.47 47.5,489.35 48,489.23 48.5,488.94 49,487.5 49.5,486.94 50,486.61 50.5,486.12 51,485.78 51.5,483.29 52,483.41 52.5,483.52 53,480.33 53.5,480.23 54,480.34 54.5,478.31 55,477 55.5,474.97 56,472.07 56.5,470 57,469.18 57.5,465.28 58,463.34 58.5,462.57 59,458.57 59.5,456.06 60,451.21 60.5,450.79 61,447.29 61.5,441.73 62,441.24 62.5,436.89 63,434.76 63.5,433.24 64,431.86 64.5,432.16 65,422.72 65.5,420.08 66,420.04 66.5,412.44 67,411.54 67.5,416.9 68,416.31 68.5,414.09 69,411.75 69.5,411.52 70,412.94 70.5,411.43 71,410.36 71.5,409.85 72,411.22 72.5,406.79 73,406.99 73.5,406.99 74,407.44 74.5,415.81 75,418.75 75.5,418.59 76,425.52 76.5,424.76 77,418.8 77.5,422.39 78,433.18 78.5,432.31 79,434.12 79.5,438.97 80,437.26 80.5,438.72 81,441.91 81.5,447.5 82,450.31 82.5,453.17 83,455.55 83.5,457.12 84,460.13 84.5,460.61 85,464.98 85.5,468.61 86,470.95 86.5,472.25 87,472.59 87.5,475.43 88,476.51 88.5,477.45 89,480.86 89.5,479.95 90,479.23 90.5,482.42 91,483.54 91.5,482.98 92,484.31 92.5,485.88 93,486.61 93.5,487.88 94,488.7 94.5,488.34 95,488.18 95.5,488.76 96,489.16 96.5,489.36 97,489.32 97.5,489.83 98,489.97 98.5,490.08 99,490.18 99.5,490.26 100,490.32 100.5,490.38 101,490.42 101.5,490.46 102,490.49 102.5,490.51 103,490.53" stroke="#f050f0" stroke-width="0.8" fill="none"/>
<polyline points="35.5,490.5 36,490.47 36.5,490.43 37,490.38 37.5,490.31 38,490.23 38.5,490.13 39,490.01 39.5,489.86 40,489.43 40.5,489.39 41,489.86 41.5,489.52 42,488.1 42.5,487.69 43,488.27 43.5,487.12 44,486.85 44.5,485.06 45,482.65 45.5,483.24 46,480.38 46.5,477.9 47,479.23 47.5,478.3 48,476.51 48.5,474.23 49,470.25 49.5,468.04 50,462.98 50.5,456.46 51,456.7 51.5,455.64 52,455.54 52.5,451.29 53,445.85 53.5,443.21 54,439.72 54.5,434.94 55,427.26 55.5,425.25 56,425.77 56.5,424.35 57,420.73 57.5,409.92 58,409.76 58.5,415.8 59,419.32 59.5,417.83 60,409.86 60.5,401.79 61,401 61.5,401.52 62,403.6 62.5,401.31 63,404.3 63.5,404.37 64,401.22 64.5,405.35 65,402.44 65.5,402.56 66,403.61 66.5,408.96 67,414.83 67.5,412.38 68,414.33 68.5,419.64 69,419.41 69.5,420.75 70,425.59 70.5,426.95 71,427.77 71.5,428.96 72,436.92 72.5,443.18 73,445.28 73.5,447.01 74,449.27 74.5,455.96 75,457.97 75.5,461.74 76,465.5 76.5,466.09 77,468.07 77.5,469.37 78,471.89 78.5,473.12 79,473.67 79.5,477.06 80,478.29 80.5,478.61 81,481.44 81.5,481.84 82,482.03 82.5,484.74 83,486.22 83.5,486.82 84,487.29 84.5,486.35 85,486.78 85.5,488.81 86,488.23 86.5,488.57 87,489.61 87.5,489.73 88,489.6 88.5,489.8 89,489.95 89.5,490.07 90,490.17 90.5,490.25 91,490.32 91.5,490.38 92,490.42 92.5,490.46 93,490.49 93.5,490.51 94,490.53" stroke="#f09030" stroke-width="0.8" fill="none"/>
<polyline points="34.5,490.5 35,490.47 35.5,490.43 36,490.38 36.5,490.31 37,490.23 37.5,490.13 38,490.01 38.5,489.85 39,490.33 39.5,489.96 40,488.97 40.5,489.13 41,489.17 41.5,487.48 42,487.32 42.5,487.18 43,486.46 43.5,485.23 44,483.46 44.5,481.83 45,480.22 45.5,480.39 46,479.89 46.5,478.03 47,476.05 47.5,473.15 48,470.62 48.5,469.22 49,467.16 49.5,460 50,458.94 50.5,454.91 51,452.52 51.5,453.4 52,448.82 52.5,444.51 53,440.58 53.5,437.84 54,434.75 54.5,429.32 55,423.36 55.5,420.27 56,416.69 56.5,414.78 57,408.73 57.5,415.32 58,417.5 58.5,408.58 59,406.84 59.5,405.24 60,403.26 60.5,400.7 61,401.24 61.5,404.59 62,407.02 62.5,406.14 63,405.47 63.5,405.22 64,406.3 64.5,407.18 65,409.41 65.5,414.97 66,416.72 66.5,417.35 67,415.31 67.5,417.18 68,420.86 68.5,420.98 69,423.6 69.5,429.14 70,432.51 70.5,439.82 71,441.09 71.5,442.2 72,449.42 72.5,449.45 73,450.59 73.5,456.9 74,457.84 74.5,456.91 75,460.63 75.5,465.4 76,467 76.5,466.64 77,470.58 77.5,474.45 78,476.15 78.5,477.33 79,478.33 79.5,479.45 80,481.18 80.5,482.37 81,481.82 81.5,484.23 82,486.26 82.5,486.3 83,487.04 83.5,487.65 84,488.1 84.5,488.14 85,488.61 85.5,489.07 86,489.25 86.5,489.1 87,490.5 87.5,489.8 88,489.95 88.5,490.07 89,490.17 89.5,490.25 90,490.32 90.5,490.38 91,490.42 91.5,490.46 92,490.49 92.5,490.51 93,490.53" stroke="#70f0f0" stroke-width="0.8" fill="none"/>
<polyline points="42,490.4 42.5,490.35 43,490.3 43.5,490.23 44,490.15 44.5,490.05 45,489.94 45.5,489.86 46,490.6 46.5,490.48 47,490.41 47.5,489.38 48,487.77 48.5,488.35 49,488.08 49.5,487.01 50,487.13 50.5,486.18 51,485.4 51.5,486.18 52,485.48 52.5,483.61 53,482.52 53.5,481.46 54,480.45 54.5,479.25 55,477.17 55.5,476 56,474.9 56.5,472.24 57,468.92 57.5,468.71 58,466.7 58.5,465.48 59,463.66 59.5,456.78 60,456.8 60.5,457.93 61,454.31 61.5,451.23 62,448.18 62.5,444.06 63,441.59 63.5,436.79 64,434.56 64.5,433.4 65,433.44 65.5,428.31 66,422.41 66.5,422.91 67,420.72 67.5,418.29 68,419.7 68.5,417.83 69,414.76 69.5,410.49 70,410.34 70.5,408.96 71,411.77 71.5,408.56 72,405.5 72.5,407.74 73,414.3 73.5,412.09 74,410.55 74.5,416.98 75,418.64 75.5,413.7 76,409.05 76.5,414.12 77,416.27 77.5,415.31 78,420.35 78.5,425.2 79,428.34 79.5,424.78 80,424.49 80.5,426.03 81,427.34 81.5,434.78 82,440.03 82.5,441.25 83,444.85 83.5,449.92 84,448.81 84.5,451.7 85,458.71 85.5,458.96 86,459.44 86.5,461.99 87,467.78 87.5,470.78 88,469.77 88.5,472.39 89,475.22 89.5,477.61 90,478.89 90.5,478.86 91,480.27 91.5,481.71 92,481.87 92.5,482 93,483.23 93.5,484.66 94,484.76 94.5,486.31 95,486.9 95.5,487.63 96,488.98 96.5,489.96 97,489.72 97.5,488.7 98,489.3 98.5,490.34 99,489.81 99.5,489.95 100,490.07 100.5,490.17 101,490.25 101.5,490.32 102,490.38 102.5,490.42 103,490.46 103.5,490.49 104,490.51 104.5,490.53" stroke="#1414f0" stroke-width="0.8" fill="none"/>
<polyline points="47.8,490.4 48.3,490.35 48.8,490.29 49.3,490.22 49.8,490.14 50.3,490.04 50.8,489.92 51.3,490.31 51.8,489.89 52.3,488.43 52.8,488.27 53.3,489.14 53.8,489.69 54.3,489.74 54.8,488.46 55.3,486.72 55.8,487.07 56.3,487.66 56.8,485.28 57.3,484.27 57.8,484.1 58.3,483.18 58.8,481.56 59.3,480.19 59.8,480.33 60.3,479.65 60.8,478.31 61.3,474 61.8,471.9 62.3,473.2 62.8,472.04 63.3,469.42 63.8,467.42 64.3,464.18 64.8,462.34 65.3,459.63 65.8,456.91 66.3,456.21 66.8,452.9 67.3,449.72 67.8,447.6 68.3,442.99 68.8,439.65 69.3,434.96 69.8,432.03 70.3,431.02 70.8,428.49 71.3,428.36 71.8,426.94 72.3,421.87 72.8,420.5 73.3,421.43 73.8,419.48 74.3,416.26 74.8,410.52 75.3,411.16 75.8,417.31 76.3,408.49 76.8,406.9 77.3,411.34 77.8,409.11 78.3,405.5 78.8,405.5 79.3,405.5 79.8,406.43 80.3,407.37 80.8,407.83 81.3,410.64 81.8,413.56 82.3,414.68 82.8,412.13 83.3,415.45 83.8,423.51 84.3,425.99 84.8,423.54 85.3,427.42 85.8,431.05 86.3,430.9 86.8,433.98 87.3,439.12 87.8,440.79 88.3,446.51 88.8,449.99 89.3,449.48 89.8,454.54 90.3,459.05 90.8,458.67 91.3,459.96 91.8,465.28 92.3,467.81 92.8,469.18 93.3,473.84 93.8,475.42 94.3,476.98 94.8,479.03 95.3,480.84 95.8,479.64 96.3,479.71 96.8,481.72 97.3,483.11 97.8,486.59 98.3,488.19 98.8,486.75 99.3,487.24 99.8,488.86 100.3,488.37 100.8,488.69 101.3,489.83 101.8,488.92 102.3,489.04 102.8,489.58 103.3,489.83 103.8,489.98 104.3,490.1 104.8,490.2 105.3,490.28 105.8,490.35 106.3,490.4 106.8,490.45 107.3,490.48 107.8,490.51 108.3,490.53 108.8,490.55" stroke="#8b1010" stroke-width="0.8" fill="none"/>
<polyline points="41,490.32 41.5,490.26 42,490.19 42.5,490.11 43,490.02 43.5,489.91 44,489.42 44.5,488.86 45,490.47 45.5,490.46 46,488.73 46.5,489.4 47,489.38 47.5,488.59 48,487.53 48.5,487.29 49,487.43 49.5,486.73 50,486.35 50.5,484.36 51,483.31 51.5,483.3 52,482.94 52.5,481.5 53,481.21 53.5,480.38 54,478.44 54.5,477.14 55,476.24 55.5,474.07 56,473.43 56.5,472.35 57,469.76 57.5,468.77 58,467.65 58.5,463.19 59,458.62 59.5,458.78 60,456.42 60.5,453.16 61,447.86 61.5,447.23 62,448.13 62.5,443.62 63,440.08 63.5,438.66 64,431.9 64.5,427.83 65,428.16 65.5,428.83 66,422.96 66.5,420.23 67,425.95 67.5,427.52 68,423.44 68.5,413.68 69,410.32 69.5,416.56 70,417.54 70.5,416.59 71,419.72 71.5,412.99 72,404.93 72.5,404.45 73,408.33 73.5,406.68 74,404.58 74.5,407.44 75,410.41 75.5,408.02 76,409.56 76.5,408.65 77,409.41 77.5,416.48 78,419.25 78.5,418.2 79,414.11 79.5,417.92 80,425.04 80.5,428.66 81,433.97 81.5,434.29 82,435.34 82.5,438.88 83,444.3 83.5,448.81 84,449.87 84.5,456.47 85,460.89 85.5,461.16 86,464.24 86.5,465.87 87,468.42 87.5,470.78 88,473.24 88.5,476.85 89,479.38 89.5,481.92 90,483.62 90.5,484.57 91,485.05 91.5,485.12 92,485.65 92.5,486.93 93,486.92 93.5,487.98 94,489.55 94.5,489.02 95,489.1 95.5,489.3 96,489.8 96.5,489.97 97,490.11 97.5,490.22 98,490.31 98.5,490.38 99,490.43 99.5,490.47 100,490.5 100.5,490.53 101,490.55 101.5,490.56 102,490.57" stroke="#2e8a22" stroke-width="0.8" fill="none"/>
<polyline points="52,490.42 52.5,490.38 53,490.32 53.5,490.25 54,490.17 54.5,490.07 55,489.95 55.5,489.81 56,489.02 56.5,488.59 57,488.63 57.5,488.71 58,488.44 58.5,488.36 59,489.09 59.5,487.57 60,486.55 60.5,485.48 61,483.57 61.5,483.09 62,483.26 62.5,482.72 63,481.04 63.5,479.22 64,478.16 64.5,478.33 65,476.31 65.5,473.81 66,472.58 66.5,470.19 67,466.83 67.5,466.54 68,464.46 68.5,460.6 69,457.47 69.5,455.36 70,452.79 70.5,448.75 71,447.65 71.5,442.28 72,439.78 72.5,436.6 73,433.53 73.5,436.07 74,434.4 74.5,428.86 75,427.01 75.5,420.59 76,422.47 76.5,419.73 77,410.6 77.5,411.01 78,404.54 78.5,403.91 79,413.03 79.5,412.59 80,408.08 80.5,402.41 81,403.07 81.5,406.34 82,403.22 82.5,406.86 83,408.78 83.5,403.45 84,402.19 84.5,406.32 85,406.88 85.5,402.27 86,402.35 86.5,405.86 87,409.37 87.5,407.17 88,407.13 88.5,411.98 89,411.57 89.5,414.48 90,416.25 90.5,413.67 91,417.69 91.5,425.51 92,421.72 92.5,420.16 93,424.84 93.5,427.01 94,432.18 94.5,430.14 95,430.37 95.5,438.67 96,440.11 96.5,440.25 97,443.5 97.5,444.32 98,446.35 98.5,450.33 99,452.61 99.5,457 100,458.34 100.5,457.92 101,457.16 101.5,461.19 102,463.38 102.5,465.26 103,468.28 103.5,468.46 104,468.65 104.5,469.07 105,471.38 105.5,473.99 106,475.25 106.5,477.1 107,477.95 107.5,477.47 108,477.92 108.5,480.26 109,481.72 109.5,482.4 110,482.6 110.5,483.21 111,484.97 111.5,485.14 112,486.75 112.5,487.01 113,486.38 113.5,486.86 114,487.95 114.5,486.92 115,486.7 115.5,488.33 116,489.24 116.5,488.94 117,488.57 117.5,488.72 118,489.98 118.5,490.48 119,490.5 119.5,490.6 120,489.88 120.5,489.97 121,490.06 121.5,490.13 122,490.19 122.5,490.25 123,490.3 123.5,490.34 124,490.38" stroke="#7a1f9a" stroke-width="0.8" fill="none"/>
</g>
<rect x="22.3" y="385.2" width="105.5" height="105.4" fill="none" stroke="#555" stroke-width="0.8"/>
<line x1="22.3" y1="385.2" x2="22.3" y2="490.6" stroke="#333" stroke-width="0.9"/>
<line x1="22.3" y1="490.6" x2="127.8" y2="490.6" stroke="#333" stroke-width="0.9"/>
<line x1="20.1" y1="490.6" x2="22.3" y2="490.6" stroke="#333" stroke-width="0.7"/>
<text transform="translate(17.53,490.6) rotate(-90)" x="0" y="0" font-size="4.8" text-anchor="middle" fill="#333">0</text>
<line x1="20.1" y1="456.6" x2="22.3" y2="456.6" stroke="#333" stroke-width="0.7"/>
<text transform="translate(17.53,456.6) rotate(-90)" x="0" y="0" font-size="4.8" text-anchor="middle" fill="#333">100</text>
<line x1="20.1" y1="421.6" x2="22.3" y2="421.6" stroke="#333" stroke-width="0.7"/>
<text transform="translate(17.53,421.6) rotate(-90)" x="0" y="0" font-size="4.8" text-anchor="middle" fill="#333">200</text>
<line x1="20.1" y1="385.8" x2="22.3" y2="385.8" stroke="#333" stroke-width="0.7"/>
<text transform="translate(17.53,385.8) rotate(-90)" x="0" y="0" font-size="4.8" text-anchor="middle" fill="#333">300</text>
<line x1="21.1" y1="483.8" x2="22.3" y2="483.8" stroke="#555" stroke-width="0.5"/>
<line x1="21.1" y1="477" x2="22.3" y2="477" stroke="#555" stroke-width="0.5"/>
<line x1="21.1" y1="470.2" x2="22.3" y2="470.2" stroke="#555" stroke-width="0.5"/>
<line x1="21.1" y1="463.4" x2="22.3" y2="463.4" stroke="#555" stroke-width="0.5"/>
<line x1="21.1" y1="449.6" x2="22.3" y2="449.6" stroke="#555" stroke-width="0.5"/>
<line x1="21.1" y1="442.6" x2="22.3" y2="442.6" stroke="#555" stroke-width="0.5"/>
<line x1="21.1" y1="435.6" x2="22.3" y2="435.6" stroke="#555" stroke-width="0.5"/>
<line x1="21.1" y1="428.6" x2="22.3" y2="428.6" stroke="#555" stroke-width="0.5"/>
<line x1="21.1" y1="414.44" x2="22.3" y2="414.44" stroke="#555" stroke-width="0.5"/>
<line x1="21.1" y1="407.28" x2="22.3" y2="407.28" stroke="#555" stroke-width="0.5"/>
<line x1="21.1" y1="400.12" x2="22.3" y2="400.12" stroke="#555" stroke-width="0.5"/>
<line x1="21.1" y1="392.96" x2="22.3" y2="392.96" stroke="#555" stroke-width="0.5"/>
<text transform="translate(10.73,438) rotate(-90)" x="0" y="0" font-size="4.8" text-anchor="middle" fill="#333">Count</text>
<line x1="26.52" y1="490.6" x2="26.52" y2="492" stroke="#333" stroke-width="0.6"/>
<line x1="30.26" y1="490.6" x2="30.26" y2="492" stroke="#333" stroke-width="0.6"/>
<line x1="33.49" y1="490.6" x2="33.49" y2="492" stroke="#333" stroke-width="0.6"/>
<line x1="36.35" y1="490.6" x2="36.35" y2="492" stroke="#333" stroke-width="0.6"/>
<line x1="38.9" y1="490.6" x2="38.9" y2="493.2" stroke="#333" stroke-width="0.6"/>
<line x1="55.7" y1="490.6" x2="55.7" y2="492" stroke="#333" stroke-width="0.6"/>
<line x1="65.52" y1="490.6" x2="65.52" y2="492" stroke="#333" stroke-width="0.6"/>
<line x1="72.49" y1="490.6" x2="72.49" y2="492" stroke="#333" stroke-width="0.6"/>
<line x1="77.9" y1="490.6" x2="77.9" y2="492" stroke="#333" stroke-width="0.6"/>
<line x1="82.32" y1="490.6" x2="82.32" y2="492" stroke="#333" stroke-width="0.6"/>
<line x1="86.06" y1="490.6" x2="86.06" y2="492" stroke="#333" stroke-width="0.6"/>
<line x1="89.29" y1="490.6" x2="89.29" y2="492" stroke="#333" stroke-width="0.6"/>
<line x1="92.15" y1="490.6" x2="92.15" y2="492" stroke="#333" stroke-width="0.6"/>
<line x1="94.7" y1="490.6" x2="94.7" y2="493.2" stroke="#333" stroke-width="0.6"/>
<line x1="111.5" y1="490.6" x2="111.5" y2="492" stroke="#333" stroke-width="0.6"/>
<line x1="121.32" y1="490.6" x2="121.32" y2="492" stroke="#333" stroke-width="0.6"/>
<text x="38.9" y="499.23" font-size="4.8" text-anchor="middle" fill="#222">10</text>
<text x="42" y="496.52" font-size="3.4" text-anchor="start" fill="#222">3</text>
<text x="94.7" y="499.23" font-size="4.8" text-anchor="middle" fill="#222">10</text>
<text x="97.8" y="496.52" font-size="3.4" text-anchor="start" fill="#222">4</text>
<text x="71.2" y="511.62" font-size="7" text-anchor="middle" fill="#222" textLength="69" lengthAdjust="spacingAndGlyphs">C11-BODIPY 581/591</text>
<rect x="132.3" y="393.8" width="5.7" height="6.73" fill="#f23c3a" stroke="#333" stroke-width="0.5"/>
<rect x="132.3" y="400.53" width="5.7" height="6.73" fill="#50e030" stroke="#333" stroke-width="0.5"/>
<rect x="132.3" y="407.26" width="5.7" height="6.73" fill="#f050f0" stroke="#333" stroke-width="0.5"/>
<rect x="132.3" y="413.99" width="5.7" height="6.73" fill="#f09030" stroke="#333" stroke-width="0.5"/>
<rect x="132.3" y="420.72" width="5.7" height="6.73" fill="#70f0f0" stroke="#333" stroke-width="0.5"/>
<rect x="132.3" y="427.45" width="5.7" height="6.73" fill="#1414f0" stroke="#333" stroke-width="0.5"/>
<rect x="132.3" y="434.18" width="5.7" height="6.73" fill="#8b1010" stroke="#333" stroke-width="0.5"/>
<rect x="132.3" y="440.91" width="5.7" height="6.73" fill="#2e8a22" stroke="#333" stroke-width="0.5"/>
<rect x="132.3" y="447.64" width="5.7" height="6.73" fill="#7a1f9a" stroke="#333" stroke-width="0.5"/>
<text x="207.6" y="375.98" font-size="11.6" text-anchor="middle" fill="#000" font-weight="bold" textLength="33.5" lengthAdjust="spacingAndGlyphs">HL-60</text>
<text x="206.3" y="382.51" font-size="5.3" text-anchor="middle" fill="#222" textLength="37" lengthAdjust="spacingAndGlyphs">Multi-sample : P1</text>
<clipPath id="cf156"><rect x="156.5" y="385.2" width="106" height="105.4"/></clipPath><g clip-path="url(#cf156)">
<polyline points="162.5,490.33 163,490.27 163.5,490.2 164,490.12 164.5,490.03 165,489.91 165.5,489.76 166,489.39 166.5,490.5 167,489.63 167.5,488.41 168,489.55 168.5,488.91 169,488.54 169.5,487.53 170,487.07 170.5,488.39 171,487.25 171.5,484.65 172,483.82 172.5,483.4 173,482.62 173.5,482.09 174,481.6 174.5,481.13 175,479.71 175.5,476.28 176,474.21 176.5,473.09 177,472.39 177.5,471.15 178,469.56 178.5,468.67 179,467.25 179.5,466.04 180,464.82 180.5,461.45 181,456.16 181.5,456.01 182,453.05 182.5,449.17 183,448.06 183.5,444.8 184,439.89 184.5,442.06 185,438.09 185.5,434.67 186,434.44 186.5,426.77 187,422.08 187.5,421.24 188,423.92 188.5,427.02 189,418.85 189.5,412.49 190,410.71 190.5,409.85 191,407.24 191.5,405.65 192,406.55 192.5,408.51 193,408.51 193.5,406.99 194,406.48 194.5,401.22 195,401.58 195.5,404.81 196,406.85 196.5,411.6 197,411.97 197.5,407.13 198,402.68 198.5,402.28 199,403.35 199.5,407.6 200,413.77 200.5,416.05 201,411.03 201.5,412.75 202,415 202.5,413.28 203,416.91 203.5,421.39 204,425.37 204.5,427.3 205,424.56 205.5,426.86 206,426.32 206.5,431.43 207,440.52 207.5,445.59 208,444.38 208.5,445.14 209,450.3 209.5,453.99 210,454.43 210.5,455.23 211,458.07 211.5,461.48 212,464.6 212.5,463.72 213,464.74 213.5,468.93 214,469.97 214.5,469.47 215,471.77 215.5,474.32 216,475.5 216.5,477.36 217,479.73 217.5,480.22 218,482.05 218.5,484.02 219,484.58 219.5,484.23 220,484.05 220.5,485.01 221,486.4 221.5,486.01 222,486.88 222.5,488.74 223,489.76 223.5,488.22 224,488.16 224.5,488.88 225,489.08 225.5,489.6 226,489.11 226.5,489.01 227,489.65 227.5,489.92 228,490.02 228.5,490.11 229,490.19 229.5,490.26 230,490.31 230.5,490.36 231,490.4 231.5,490.44 232,490.47" stroke="#f23c3a" stroke-width="0.8" fill="none"/>
<polyline points="163,490.32 163.5,490.26 164,490.19 164.5,490.12 165,490.03 165.5,489.92 166,489.8 166.5,489.47 167,489.88 167.5,489.26 168,488.62 168.5,488.74 169,488.13 169.5,487.54 170,487.91 170.5,488.11 171,487.83 171.5,487.83 172,487.14 172.5,486.06 173,485.87 173.5,485.09 174,484.51 174.5,481.95 175,480.3 175.5,479.59 176,478.04 176.5,476.72 177,475.78 177.5,475.24 178,473.33 178.5,472.01 179,471.26 179.5,470.77 180,469.9 180.5,465.72 181,462.49 181.5,460.54 182,457.41 182.5,455.29 183,452.7 183.5,447.93 184,446.7 184.5,448.93 185,446.57 185.5,441.69 186,440.37 186.5,441.71 187,440.38 187.5,436.03 188,429.08 188.5,425.06 189,426.32 189.5,423.46 190,423.38 190.5,418.77 191,416.72 191.5,415.57 192,418.51 192.5,413.39 193,410.99 193.5,408.34 194,408 194.5,411.45 195,417.34 195.5,409.85 196,409.13 196.5,412.3 197,413.95 197.5,411.67 198,411.75 198.5,415.67 199,412.79 199.5,410.73 200,409.63 200.5,414.85 201,408.66 201.5,410.55 202,422 202.5,418.22 203,414.86 203.5,419.62 204,423.9 204.5,425.64 205,425.59 205.5,427.11 206,434.91 206.5,440.08 207,439.5 207.5,439.63 208,439.74 208.5,440.02 209,440.4 209.5,442.99 210,448.98 210.5,450.02 211,451.53 211.5,454.2 212,455.44 212.5,457.49 213,460.17 213.5,462.2 214,464.98 214.5,467.12 215,469.83 215.5,471.24 216,471.72 216.5,473.45 217,475.49 217.5,475.11 218,476.14 218.5,478.11 219,478.92 219.5,479.66 220,481.67 220.5,483.05 221,483.28 221.5,484.2 222,484.64 222.5,484.66 223,486.09 223.5,486.65 224,486.77 224.5,486.9 225,488.48 225.5,488.62 226,487.79 226.5,489.01 227,489.98 227.5,489.94 228,489.27 228.5,489.48 229,489.85 229.5,489.96 230,490.06 230.5,490.14 231,490.21 231.5,490.27 232,490.33 232.5,490.37 233,490.41 233.5,490.44 234,490.47" stroke="#50e030" stroke-width="0.8" fill="none"/>
<polyline points="173,490.34 173.5,490.29 174,490.23 174.5,490.16 175,490.08 175.5,489.98 176,489.87 176.5,489.96 177,489.89 177.5,489.77 178,489.02 178.5,488.51 179,488.19 179.5,488.42 180,487.87 180.5,487.38 181,487.85 181.5,487.3 182,486.32 182.5,484.79 183,484.82 183.5,485.28 184,483.79 184.5,482.17 185,482.1 185.5,482.43 186,480.3 186.5,478.74 187,477.56 187.5,474.64 188,473.67 188.5,473.8 189,474.22 189.5,472.64 190,469.25 190.5,470.61 191,467.06 191.5,462.6 192,461.23 192.5,456.73 193,456.31 193.5,455.04 194,450.89 194.5,443.56 195,444.47 195.5,446.36 196,446.45 196.5,440.54 197,433.03 197.5,436.23 198,437.87 198.5,435.21 199,429.72 199.5,429.99 200,429.93 200.5,428.53 201,424.76 201.5,422.36 202,423.8 202.5,423.53 203,423.96 203.5,423.63 204,421.19 204.5,424.64 205,422.57 205.5,418.45 206,422.93 206.5,423.67 207,420.8 207.5,419.3 208,418.21 208.5,418.13 209,418.12 209.5,416.2 210,415.13 210.5,417 211,419.29 211.5,421.72 212,423.7 212.5,423.62 213,424.32 213.5,428.27 214,429.89 214.5,427.89 215,426.9 215.5,430.88 216,441.54 216.5,439.06 217,435.38 217.5,439.32 218,440.13 218.5,441.6 219,444.92 219.5,449.01 220,451.82 220.5,450.23 221,448.22 221.5,450.17 222,454.19 222.5,454.62 223,458.63 223.5,463.15 224,461.46 224.5,463.1 225,466.29 225.5,467.74 226,468.51 226.5,472.13 227,473.93 227.5,475.47 228,475.82 228.5,477.48 229,479.42 229.5,478.79 230,479.72 230.5,481.22 231,481.65 231.5,482.79 232,484.32 232.5,484.2 233,484.93 233.5,485.04 234,484.69 234.5,487.07 235,488.59 235.5,487.55 236,488.18 236.5,488.32 237,487.64 237.5,488.43 238,489.48 238.5,490.21 239,489.89 239.5,489.05 240,489.65 240.5,490.19 241,489.87 241.5,489.97 242,490.06 242.5,490.14 243,490.21 243.5,490.26 244,490.31 244.5,490.36 245,490.4 245.5,490.43 246,490.46" stroke="#f050f0" stroke-width="0.8" fill="none"/>
<polyline points="162,490.31 162.5,490.26 163,490.19 163.5,490.11 164,490.02 164.5,489.91 165,489.55 165.5,490.42 166,490.07 166.5,487.97 167,488.09 167.5,487.97 168,488.81 168.5,488.25 169,487.77 169.5,486.33 170,485.06 170.5,485.4 171,485.67 171.5,486.23 172,484.92 172.5,483.33 173,482.65 173.5,482.66 174,481.57 174.5,479.25 175,477.65 175.5,478.01 176,476.61 176.5,472.73 177,471.81 177.5,472.49 178,471.73 178.5,468.2 179,466.67 179.5,463.81 180,460.9 180.5,459.81 181,458.19 181.5,459.1 182,456.22 182.5,453.05 183,448.96 183.5,449.2 184,447.76 184.5,445.28 185,441.56 185.5,435.91 186,436.96 186.5,437.45 187,435.9 187.5,430.7 188,426.72 188.5,424.97 189,418.17 189.5,420.93 190,422.8 190.5,418.87 191,420.06 191.5,420.75 192,416.54 192.5,408.36 193,407 193.5,409.49 194,407.54 194.5,407 195,407.68 195.5,414.18 196,419.12 196.5,411.32 197,411.55 197.5,416.93 198,409.69 198.5,410.96 199,413.51 199.5,413.95 200,419.56 200.5,419.77 201,413.23 201.5,419.51 202,421.43 202.5,416.6 203,420.29 203.5,427.24 204,430.8 204.5,430.21 205,435.86 205.5,434.45 206,433.96 206.5,437.92 207,439.14 207.5,442.53 208,445.05 208.5,446.1 209,446.87 209.5,448.42 210,452.44 210.5,455.92 211,460.99 211.5,462.78 212,462.75 212.5,465.01 213,467.94 213.5,466.66 214,465.31 214.5,469.88 215,471.97 215.5,474.32 216,476.18 216.5,476.84 217,476.53 217.5,478 218,481.49 218.5,482.78 219,482.68 219.5,483.21 220,483.49 220.5,485.13 221,486.98 221.5,486.62 222,486.97 222.5,488.29 223,487.27 223.5,486.24 224,488.44 224.5,490.6 225,489.33 225.5,488.51 226,489.48 226.5,489.49 227,489.77 227.5,489.61 228,489.84 228.5,489.95 229,490.05 229.5,490.14 230,490.21 230.5,490.27 231,490.32 231.5,490.37 232,490.41 232.5,490.44 233,490.47" stroke="#f09030" stroke-width="0.8" fill="none"/>
<polyline points="162,490.37 162.5,490.32 163,490.26 163.5,490.18 164,490.1 164.5,490 165,489.89 165.5,489.88 166,489.78 166.5,489.23 167,488.24 167.5,487.99 168,488.82 168.5,489.26 169,489.15 169.5,488.85 170,488.34 170.5,486.88 171,486.19 171.5,487.11 172,486.31 172.5,484.23 173,483.39 173.5,481.98 174,481.01 174.5,478.76 175,476.53 175.5,478.57 176,477.95 176.5,474.06 177,474.31 177.5,471.41 178,467.71 178.5,467.82 179,468.29 179.5,464.2 180,459.25 180.5,459.79 181,457 181.5,454.41 182,453.84 182.5,448.95 183,447.7 183.5,448.24 184,442.67 184.5,442.74 185,442.98 185.5,436.16 186,433.23 186.5,427.61 187,425.55 187.5,423.27 188,420.89 188.5,422.56 189,418.77 189.5,417.07 190,413.36 190.5,409.61 191,414.4 191.5,414.97 192,412.7 192.5,410.98 193,409 193.5,409 194,409 194.5,409 195,409 195.5,410.75 196,410.23 196.5,413.76 197,416.77 197.5,414.41 198,417.93 198.5,420.63 199,421.63 199.5,418.36 200,419.23 200.5,424.04 201,424.37 201.5,430.68 202,425.85 202.5,424.66 203,430.06 203.5,431.04 204,438.03 204.5,440.75 205,438.27 205.5,441.77 206,445.85 206.5,447.57 207,449.8 207.5,451.11 208,451.4 208.5,452.97 209,454.38 209.5,459.3 210,461.52 210.5,462.04 211,463.56 211.5,465.74 212,469.47 212.5,471.51 213,470.83 213.5,472.28 214,475.19 214.5,478.61 215,481.21 215.5,483.49 216,484.33 216.5,482.8 217,480.8 217.5,481.2 218,481.91 218.5,482.79 219,483.93 219.5,485.39 220,486.31 220.5,486.38 221,487.7 221.5,488.35 222,488.05 222.5,488.56 223,487.6 223.5,487.85 224,489.23 224.5,488.91 225,488.98 225.5,490.19 226,489.87 226.5,489.98 227,490.08 227.5,490.16 228,490.23 228.5,490.29 229,490.34 229.5,490.38 230,490.42 230.5,490.45 231,490.48" stroke="#70f0f0" stroke-width="0.8" fill="none"/>
<polyline points="170,490.3 170.5,490.25 171,490.18 171.5,490.11 172,490.02 172.5,489.92 173,489.8 173.5,489.61 174,490.22 174.5,490.26 175,489.2 175.5,489.4 176,490.49 176.5,490.42 177,488.39 177.5,486.64 178,486.6 178.5,486.54 179,485.54 179.5,486.24 180,486.85 180.5,486.6 181,485.18 181.5,483.47 182,482.1 182.5,482.27 183,481.09 183.5,479.2 184,478.5 184.5,477.21 185,475.06 185.5,475.67 186,474.12 186.5,471.21 187,469.58 187.5,466.15 188,466.41 188.5,465.79 189,463.14 189.5,461.26 190,458.14 190.5,455.61 191,454.76 191.5,452.37 192,449.28 192.5,447.64 193,447.33 193.5,443.73 194,441.16 194.5,441.01 195,439.72 195.5,437.98 196,431.04 196.5,427.45 197,429.18 197.5,429.16 198,426.79 198.5,424.22 199,421.27 199.5,424.01 200,424.4 200.5,421.56 201,418.93 201.5,419.76 202,420.39 202.5,421.68 203,414.25 203.5,413 204,416.71 204.5,413 205,413 205.5,422.97 206,416.1 206.5,413 207,413 207.5,413 208,413 208.5,417.46 209,426.86 209.5,425.61 210,418.5 210.5,418.1 211,422.68 211.5,423.68 212,422.26 212.5,424.69 213,427.99 213.5,428.19 214,430.53 214.5,435.31 215,438.88 215.5,439.7 216,440.35 216.5,440.07 217,440.82 217.5,444.48 218,447.42 218.5,447.41 219,449.13 219.5,451.34 220,454.74 220.5,457.07 221,458.74 221.5,462.32 222,465.98 222.5,466.21 223,465.08 223.5,465.89 224,468.42 224.5,471.04 225,473.89 225.5,474.93 226,475.96 226.5,477.7 227,479.06 227.5,479.85 228,480.34 228.5,482.07 229,482.34 229.5,482.3 230,482.45 230.5,482.7 231,484.12 231.5,484.44 232,485.55 232.5,487.93 233,487.94 233.5,487.59 234,488.52 234.5,489.36 235,488.2 235.5,488.53 236,489.58 236.5,489.49 237,489.22 237.5,489 238,488.72 238.5,490.06 239,489.85 239.5,489.95 240,490.05 240.5,490.13 241,490.19 241.5,490.25 242,490.31 242.5,490.35 243,490.39 243.5,490.42 244,490.45" stroke="#1414f0" stroke-width="0.8" fill="none"/>
<polyline points="180,490.09 180.5,490.01 181,489.93 181.5,489.83 182,489.83 182.5,489.73 183,489.08 183.5,489.07 184,489.44 184.5,489.41 185,489.55 185.5,488.35 186,487.31 186.5,487.86 187,487.82 187.5,487.11 188,487.36 188.5,487.01 189,485.84 189.5,485.39 190,486.01 190.5,485.74 191,485.01 191.5,484.89 192,483.59 192.5,481.7 193,481.22 193.5,481.65 194,480.51 194.5,478.84 195,476.49 195.5,474.63 196,473.99 196.5,472.99 197,472.84 197.5,473.26 198,471.34 198.5,469.03 199,468.41 199.5,466.85 200,464.91 200.5,463.92 201,460.84 201.5,459.35 202,457.78 202.5,453.63 203,450.57 203.5,448.53 204,446.52 204.5,446.04 205,446.08 205.5,446.14 206,444.19 206.5,437.86 207,437.37 207.5,438.2 208,433.45 208.5,432.65 209,433.72 209.5,429.61 210,425.55 210.5,427.37 211,426.23 211.5,424.38 212,417.77 212.5,414.67 213,417.69 213.5,415.88 214,415.31 214.5,413.27 215,417.61 215.5,415.47 216,412.09 216.5,413.58 217,406.73 217.5,406 218,406 218.5,406 219,407.28 219.5,407.21 220,409.78 220.5,408.54 221,406 221.5,409.02 222,412.35 222.5,411.74 223,407.9 223.5,411.3 224,415.94 224.5,419.24 225,418.96 225.5,413.21 226,417.11 226.5,417.65 227,416.07 227.5,420.29 228,423.45 228.5,423.43 229,426.17 229.5,429.11 230,428.88 230.5,430.74 231,436.41 231.5,440.82 232,441.14 232.5,441.2 233,443.78 233.5,447.64 234,450.16 234.5,453.54 235,454.72 235.5,455.47 236,457.61 236.5,459.49 237,460.97 237.5,464.35 238,466.31 238.5,466.89 239,470.39 239.5,471.76 240,471.56 240.5,472.47 241,474.13 241.5,474.97 242,477.35 242.5,480.13 243,481.94 243.5,482.78 244,482.55 244.5,482.79 245,484.67 245.5,485.74 246,486.21 246.5,486.02 247,485.55 247.5,486.13 248,487.19 248.5,487.11 249,487.09 249.5,488.11 250,489.56 250.5,489.65 251,489.24 251.5,489.73 252,489.38 252.5,489.66 253,489.82 253.5,489.93 254,490.03 254.5,490.12 255,490.19 255.5,490.26 256,490.31 256.5,490.36 257,490.4 257.5,490.43 258,490.46" stroke="#8b1010" stroke-width="0.8" fill="none"/>
<polyline points="171,490.37 171.5,490.32 172,490.26 172.5,490.19 173,490.11 173.5,490.02 174,489.91 174.5,489.31 175,489.83 175.5,490.09 176,489.98 176.5,490.02 177,488.7 177.5,488.16 178,486.99 178.5,487.81 179,488.49 179.5,488.23 180,487.02 180.5,485.74 181,485.24 181.5,484.89 182,485.67 182.5,484.96 183,483.27 183.5,481.85 184,479.65 184.5,478.46 185,476.32 185.5,474.49 186,474.22 186.5,473.3 187,470.86 187.5,466.87 188,467.49 188.5,467.74 189,465.53 189.5,464.68 190,463.4 190.5,458.83 191,452.46 191.5,451 192,452.44 192.5,451.1 193,446.43 193.5,442.27 194,438.87 194.5,438.86 195,438.58 195.5,437.38 196,434.95 196.5,432.43 197,426.47 197.5,423.51 198,425.12 198.5,424.86 199,420.84 199.5,416.64 200,417.47 200.5,417.08 201,416.16 201.5,420.09 202,414.66 202.5,414.88 203,419.66 203.5,418.54 204,414.78 204.5,417.09 205,420.09 205.5,419.58 206,422.11 206.5,427.97 207,423.55 207.5,420.6 208,421.22 208.5,421.03 209,423.51 209.5,423.14 210,426.06 210.5,425.11 211,420.67 211.5,423.29 212,429.33 212.5,431.79 213,431.21 213.5,430.06 214,436.33 214.5,441.4 215,444.74 215.5,447.02 216,444.64 216.5,444.2 217,450.41 217.5,451.05 218,449.19 218.5,454.4 219,459.3 219.5,458.72 220,457.06 220.5,460 221,463.36 221.5,464.25 222,467.21 222.5,468.26 223,467.11 223.5,469.06 224,471.47 224.5,474.31 225,477.14 225.5,478.32 226,480.28 226.5,481.79 227,481.34 227.5,481.97 228,482.08 228.5,483.48 229,484.35 229.5,484.69 230,484.32 230.5,485 231,486.25 231.5,485.08 232,485.04 232.5,487.46 233,488.75 233.5,489.35 234,489.37 234.5,489.06 235,488.37 235.5,488.96 236,489.44 236.5,489.67 237,490.17 237.5,490 238,489.86 238.5,489.96 239,490.05 239.5,490.13 240,490.2 240.5,490.26 241,490.31 241.5,490.36 242,490.39 242.5,490.43 243,490.45" stroke="#2e8a22" stroke-width="0.8" fill="none"/>
<polyline points="187,490.25 187.5,490.18 188,490.11 188.5,490.02 189,489.92 189.5,489.8 190,489.95 190.5,489.25 191,489.45 191.5,489.15 192,489.4 192.5,489.35 193,488.29 193.5,488.67 194,488.79 194.5,488.61 195,488.71 195.5,488.41 196,487.49 196.5,487.05 197,485.12 197.5,483.08 198,483.2 198.5,482.05 199,479.84 199.5,479 200,479.02 200.5,480.52 201,480.03 201.5,475.59 202,472.84 202.5,473.45 203,472.16 203.5,468.83 204,466.92 204.5,466.25 205,463.87 205.5,462.92 206,459.9 206.5,456.45 207,457.76 207.5,456.22 208,453.61 208.5,448.58 209,443.91 209.5,445.11 210,442.49 210.5,437.46 211,436.05 211.5,437.16 212,438.24 212.5,435.25 213,434.4 213.5,428.45 214,419.54 214.5,419.05 215,419.51 215.5,416.92 216,413.13 216.5,410.21 217,408.82 217.5,411.5 218,411.64 218.5,409.46 219,407.33 219.5,404.88 220,406.18 220.5,404.35 221,403 221.5,403 222,403 222.5,405.62 223,407.23 223.5,407.77 224,403 224.5,403 225,407.04 225.5,411.04 226,407.6 226.5,407.38 227,407.91 227.5,406.34 228,407.17 228.5,413.38 229,416.28 229.5,419.38 230,419.93 230.5,418.48 231,424.52 231.5,428.94 232,430.98 232.5,430.44 233,430.15 233.5,430.79 234,436.61 234.5,439.07 235,435.11 235.5,438.3 236,440.09 236.5,439.85 237,446.7 237.5,452.94 238,454.27 238.5,453.71 239,453.91 239.5,457.48 240,458.48 240.5,459.47 241,462.28 241.5,464.58 242,468.4 242.5,469.29 243,468.42 243.5,469.21 244,471.29 244.5,473.44 245,475.12 245.5,475.81 246,476.58 246.5,479.09 247,481.59 247.5,481.36 248,481.5 248.5,483.09 249,483.45 249.5,484.66 250,485.11 250.5,485.1 251,484.56 251.5,484.88 252,486.47 252.5,486.9 253,487.49 253.5,487.64 254,487.93 254.5,487.99 255,487.22 255.5,487.72 256,488.81 256.5,489.56 257,489.33 257.5,489.45 258,490.34 258.5,489.83 259,489.93 259.5,490.03 260,490.11 260.5,490.18 261,490.24 261.5,490.29 262,490.33 262.5,490.37 263,490.41" stroke="#7a1f9a" stroke-width="0.8" fill="none"/>
</g>
<rect x="156.5" y="385.2" width="106" height="105.4" fill="none" stroke="#555" stroke-width="0.8"/>
<line x1="156.5" y1="385.2" x2="156.5" y2="490.6" stroke="#333" stroke-width="0.9"/>
<line x1="156.5" y1="490.6" x2="262.5" y2="490.6" stroke="#333" stroke-width="0.9"/>
<line x1="154.3" y1="490.6" x2="156.5" y2="490.6" stroke="#333" stroke-width="0.7"/>
<text transform="translate(151.73,490.6) rotate(-90)" x="0" y="0" font-size="4.8" text-anchor="middle" fill="#333">0</text>
<line x1="154.3" y1="448.5" x2="156.5" y2="448.5" stroke="#333" stroke-width="0.7"/>
<text transform="translate(151.73,448.5) rotate(-90)" x="0" y="0" font-size="4.8" text-anchor="middle" fill="#333">100</text>
<line x1="154.3" y1="406.3" x2="156.5" y2="406.3" stroke="#333" stroke-width="0.7"/>
<text transform="translate(151.73,406.3) rotate(-90)" x="0" y="0" font-size="4.8" text-anchor="middle" fill="#333">200</text>
<line x1="155.3" y1="482.18" x2="156.5" y2="482.18" stroke="#555" stroke-width="0.5"/>
<line x1="155.3" y1="473.76" x2="156.5" y2="473.76" stroke="#555" stroke-width="0.5"/>
<line x1="155.3" y1="465.34" x2="156.5" y2="465.34" stroke="#555" stroke-width="0.5"/>
<line x1="155.3" y1="456.92" x2="156.5" y2="456.92" stroke="#555" stroke-width="0.5"/>
<line x1="155.3" y1="440.06" x2="156.5" y2="440.06" stroke="#555" stroke-width="0.5"/>
<line x1="155.3" y1="431.62" x2="156.5" y2="431.62" stroke="#555" stroke-width="0.5"/>
<line x1="155.3" y1="423.18" x2="156.5" y2="423.18" stroke="#555" stroke-width="0.5"/>
<line x1="155.3" y1="414.74" x2="156.5" y2="414.74" stroke="#555" stroke-width="0.5"/>
<text transform="translate(144.93,438) rotate(-90)" x="0" y="0" font-size="4.8" text-anchor="middle" fill="#333">Count</text>
<line x1="158.23" y1="490.6" x2="158.23" y2="492" stroke="#333" stroke-width="0.6"/>
<line x1="161.47" y1="490.6" x2="161.47" y2="492" stroke="#333" stroke-width="0.6"/>
<line x1="164.34" y1="490.6" x2="164.34" y2="492" stroke="#333" stroke-width="0.6"/>
<line x1="166.9" y1="490.6" x2="166.9" y2="493.2" stroke="#333" stroke-width="0.6"/>
<line x1="183.76" y1="490.6" x2="183.76" y2="492" stroke="#333" stroke-width="0.6"/>
<line x1="193.62" y1="490.6" x2="193.62" y2="492" stroke="#333" stroke-width="0.6"/>
<line x1="200.62" y1="490.6" x2="200.62" y2="492" stroke="#333" stroke-width="0.6"/>
<line x1="206.04" y1="490.6" x2="206.04" y2="492" stroke="#333" stroke-width="0.6"/>
<line x1="210.48" y1="490.6" x2="210.48" y2="492" stroke="#333" stroke-width="0.6"/>
<line x1="214.23" y1="490.6" x2="214.23" y2="492" stroke="#333" stroke-width="0.6"/>
<line x1="217.47" y1="490.6" x2="217.47" y2="492" stroke="#333" stroke-width="0.6"/>
<line x1="220.34" y1="490.6" x2="220.34" y2="492" stroke="#333" stroke-width="0.6"/>
<line x1="222.9" y1="490.6" x2="222.9" y2="493.2" stroke="#333" stroke-width="0.6"/>
<line x1="239.76" y1="490.6" x2="239.76" y2="492" stroke="#333" stroke-width="0.6"/>
<line x1="249.62" y1="490.6" x2="249.62" y2="492" stroke="#333" stroke-width="0.6"/>
<line x1="256.62" y1="490.6" x2="256.62" y2="492" stroke="#333" stroke-width="0.6"/>
<line x1="262.04" y1="490.6" x2="262.04" y2="492" stroke="#333" stroke-width="0.6"/>
<text x="222.9" y="499.23" font-size="4.8" text-anchor="middle" fill="#222">10</text>
<text x="226" y="496.52" font-size="3.4" text-anchor="start" fill="#222">4</text>
<text x="206" y="511.62" font-size="7" text-anchor="middle" fill="#222" textLength="69" lengthAdjust="spacingAndGlyphs">C11-BODIPY 581/591</text>
<rect x="267.6" y="393.8" width="5.2" height="6.9" fill="#f23c3a" stroke="#333" stroke-width="0.5"/>
<text x="275.3" y="399.27" font-size="5.6" text-anchor="start" fill="#111">shNC</text>
<rect x="267.6" y="400.7" width="5.2" height="6.9" fill="#50e030" stroke="#333" stroke-width="0.5"/>
<text x="275.3" y="406.17" font-size="5.6" text-anchor="start" fill="#111">shGIT2-L</text>
<rect x="267.6" y="407.6" width="5.2" height="6.9" fill="#f050f0" stroke="#333" stroke-width="0.5"/>
<text x="275.3" y="413.07" font-size="5.6" text-anchor="start" fill="#111">shGIT2-S</text>
<rect x="267.6" y="414.5" width="5.2" height="6.9" fill="#f09030" stroke="#333" stroke-width="0.5"/>
<text x="275.3" y="419.97" font-size="5.6" text-anchor="start" fill="#111">shNC+Fer-1</text>
<rect x="267.6" y="421.4" width="5.2" height="6.9" fill="#70f0f0" stroke="#333" stroke-width="0.5"/>
<text x="275.3" y="426.87" font-size="5.6" text-anchor="start" fill="#111">shGIT2-L+Fer-1</text>
<rect x="267.6" y="428.3" width="5.2" height="6.9" fill="#1414f0" stroke="#333" stroke-width="0.5"/>
<text x="275.3" y="433.77" font-size="5.6" text-anchor="start" fill="#111">shGIT2-S+Fer-1</text>
<rect x="267.6" y="435.2" width="5.2" height="6.9" fill="#8b1010" stroke="#333" stroke-width="0.5"/>
<text x="275.3" y="440.67" font-size="5.6" text-anchor="start" fill="#111">shNC+RSL3</text>
<rect x="267.6" y="442.1" width="5.2" height="6.9" fill="#2e8a22" stroke="#333" stroke-width="0.5"/>
<text x="275.3" y="447.57" font-size="5.6" text-anchor="start" fill="#111">shGIT2-L+RSL3</text>
<rect x="267.6" y="449" width="5.2" height="6.9" fill="#7a1f9a" stroke="#333" stroke-width="0.5"/>
<text x="275.3" y="454.47" font-size="5.6" text-anchor="start" fill="#111">shGIT2-S+RSL3</text>
<text transform="translate(344.17,439) rotate(-90)" x="0" y="0" font-size="10.2" text-anchor="middle" fill="#222" textLength="89" lengthAdjust="spacingAndGlyphs">Lipid ROS level (%)</text>
<line x1="369.4" y1="495.5" x2="369.4" y2="383.4" stroke="#222" stroke-width="1"/>
<line x1="361.2" y1="495" x2="369.4" y2="495" stroke="#222" stroke-width="1"/>
<text x="358.6" y="497.95" font-size="8.2" text-anchor="end" fill="#222" textLength="4.42" lengthAdjust="spacingAndGlyphs">0</text>
<line x1="361.2" y1="472.68" x2="369.4" y2="472.68" stroke="#222" stroke-width="1"/>
<text x="358.6" y="475.63" font-size="8.2" text-anchor="end" fill="#222" textLength="8.85" lengthAdjust="spacingAndGlyphs">20</text>
<line x1="361.2" y1="450.36" x2="369.4" y2="450.36" stroke="#222" stroke-width="1"/>
<text x="358.6" y="453.31" font-size="8.2" text-anchor="end" fill="#222" textLength="8.85" lengthAdjust="spacingAndGlyphs">40</text>
<line x1="361.2" y1="428.04" x2="369.4" y2="428.04" stroke="#222" stroke-width="1"/>
<text x="358.6" y="430.99" font-size="8.2" text-anchor="end" fill="#222" textLength="8.85" lengthAdjust="spacingAndGlyphs">60</text>
<line x1="361.2" y1="405.72" x2="369.4" y2="405.72" stroke="#222" stroke-width="1"/>
<text x="358.6" y="408.67" font-size="8.2" text-anchor="end" fill="#222" textLength="8.85" lengthAdjust="spacingAndGlyphs">80</text>
<line x1="361.2" y1="383.4" x2="369.4" y2="383.4" stroke="#222" stroke-width="1"/>
<text x="358.6" y="386.35" font-size="8.2" text-anchor="end" fill="#222" textLength="13.27" lengthAdjust="spacingAndGlyphs">100</text>
<line x1="368.9" y1="495" x2="658.7" y2="495" stroke="#222" stroke-width="1"/>
<line x1="437.7" y1="495" x2="437.7" y2="498" stroke="#222" stroke-width="1"/>
<line x1="586.5" y1="495" x2="586.5" y2="498" stroke="#222" stroke-width="1"/>
<text x="437.7" y="512.95" font-size="11.8" text-anchor="middle" fill="#000" font-weight="bold" textLength="31.5" lengthAdjust="spacingAndGlyphs">THP-1</text>
<text x="585.9" y="512.95" font-size="11.8" text-anchor="middle" fill="#000" font-weight="bold" textLength="31" lengthAdjust="spacingAndGlyphs">HL-60</text>
<rect x="376.5" y="491.09" width="8.2" height="3.91" fill="#f23c3a"/>
<line x1="380.6" y1="491.99" x2="380.6" y2="490.2" stroke="#000" stroke-width="0.8"/>
<line x1="378.4" y1="490.2" x2="382.8" y2="490.2" stroke="#000" stroke-width="0.8"/>
<line x1="378.4" y1="491.99" x2="382.8" y2="491.99" stroke="#000" stroke-width="0.8"/>
<ellipse cx="378" cy="491.36" rx="2.2" ry="1.7" fill="#000"/>
<ellipse cx="380.6" cy="490.56" rx="2.2" ry="1.7" fill="#000"/>
<ellipse cx="383.2" cy="491.18" rx="2.2" ry="1.7" fill="#000"/>
<rect x="391.2" y="492.21" width="8.2" height="2.79" fill="#50e030"/>
<line x1="395.3" y1="493.1" x2="395.3" y2="491.32" stroke="#000" stroke-width="0.8"/>
<line x1="393.1" y1="491.32" x2="397.5" y2="491.32" stroke="#000" stroke-width="0.8"/>
<line x1="393.1" y1="493.1" x2="397.5" y2="493.1" stroke="#000" stroke-width="0.8"/>
<ellipse cx="392.7" cy="492.48" rx="2.2" ry="1.7" fill="#000"/>
<ellipse cx="395.3" cy="491.67" rx="2.2" ry="1.7" fill="#000"/>
<ellipse cx="397.9" cy="492.3" rx="2.2" ry="1.7" fill="#000"/>
<rect x="406.3" y="474.35" width="8.2" height="20.65" fill="#f050f0"/>
<line x1="410.4" y1="475.59" x2="410.4" y2="473.12" stroke="#000" stroke-width="0.8"/>
<line x1="408.2" y1="473.12" x2="412.6" y2="473.12" stroke="#000" stroke-width="0.8"/>
<line x1="408.2" y1="475.59" x2="412.6" y2="475.59" stroke="#000" stroke-width="0.8"/>
<ellipse cx="407.8" cy="474.73" rx="2.2" ry="1.7" fill="#000"/>
<ellipse cx="410.4" cy="473.61" rx="2.2" ry="1.7" fill="#000"/>
<ellipse cx="413" cy="474.48" rx="2.2" ry="1.7" fill="#000"/>
<rect x="421" y="492.21" width="8.2" height="2.79" fill="#f09030"/>
<line x1="425.1" y1="493.1" x2="425.1" y2="491.32" stroke="#000" stroke-width="0.8"/>
<line x1="422.9" y1="491.32" x2="427.3" y2="491.32" stroke="#000" stroke-width="0.8"/>
<line x1="422.9" y1="493.1" x2="427.3" y2="493.1" stroke="#000" stroke-width="0.8"/>
<ellipse cx="422.5" cy="492.48" rx="2.2" ry="1.7" fill="#000"/>
<ellipse cx="425.1" cy="491.67" rx="2.2" ry="1.7" fill="#000"/>
<ellipse cx="427.7" cy="492.3" rx="2.2" ry="1.7" fill="#000"/>
<rect x="435.6" y="493.33" width="8.2" height="1.67" fill="#70f0f0"/>
<line x1="439.7" y1="494.22" x2="439.7" y2="492.43" stroke="#000" stroke-width="0.8"/>
<line x1="437.5" y1="492.43" x2="441.9" y2="492.43" stroke="#000" stroke-width="0.8"/>
<line x1="437.5" y1="494.22" x2="441.9" y2="494.22" stroke="#000" stroke-width="0.8"/>
<ellipse cx="437.1" cy="493.59" rx="2.2" ry="1.7" fill="#000"/>
<ellipse cx="439.7" cy="492.79" rx="2.2" ry="1.7" fill="#000"/>
<ellipse cx="442.3" cy="493.42" rx="2.2" ry="1.7" fill="#000"/>
<rect x="451.2" y="478.82" width="8.2" height="16.18" fill="#1414f0"/>
<line x1="455.3" y1="479.79" x2="455.3" y2="477.85" stroke="#000" stroke-width="0.8"/>
<line x1="453.1" y1="477.85" x2="457.5" y2="477.85" stroke="#000" stroke-width="0.8"/>
<line x1="453.1" y1="479.79" x2="457.5" y2="479.79" stroke="#000" stroke-width="0.8"/>
<ellipse cx="452.7" cy="479.11" rx="2.2" ry="1.7" fill="#000"/>
<ellipse cx="455.3" cy="478.24" rx="2.2" ry="1.7" fill="#000"/>
<ellipse cx="457.9" cy="478.92" rx="2.2" ry="1.7" fill="#000"/>
<rect x="466.5" y="439.2" width="8.2" height="55.8" fill="#8b1010"/>
<line x1="470.6" y1="442.55" x2="470.6" y2="435.85" stroke="#000" stroke-width="0.8"/>
<line x1="468.4" y1="435.85" x2="472.8" y2="435.85" stroke="#000" stroke-width="0.8"/>
<line x1="468.4" y1="442.55" x2="472.8" y2="442.55" stroke="#000" stroke-width="0.8"/>
<ellipse cx="468" cy="440.2" rx="2.2" ry="1.7" fill="#000"/>
<ellipse cx="470.6" cy="437.19" rx="2.2" ry="1.7" fill="#000"/>
<ellipse cx="473.2" cy="439.53" rx="2.2" ry="1.7" fill="#000"/>
<rect x="481.8" y="477.7" width="8.2" height="17.3" fill="#2e8a22"/>
<line x1="485.9" y1="478.74" x2="485.9" y2="476.66" stroke="#000" stroke-width="0.8"/>
<line x1="483.7" y1="476.66" x2="488.1" y2="476.66" stroke="#000" stroke-width="0.8"/>
<line x1="483.7" y1="478.74" x2="488.1" y2="478.74" stroke="#000" stroke-width="0.8"/>
<ellipse cx="483.3" cy="478.01" rx="2.2" ry="1.7" fill="#000"/>
<ellipse cx="485.9" cy="477.08" rx="2.2" ry="1.7" fill="#000"/>
<ellipse cx="488.5" cy="477.81" rx="2.2" ry="1.7" fill="#000"/>
<rect x="497" y="414.65" width="8.2" height="80.35" fill="#7a1f9a"/>
<line x1="501.1" y1="419.47" x2="501.1" y2="409.83" stroke="#000" stroke-width="0.8"/>
<line x1="498.9" y1="409.83" x2="503.3" y2="409.83" stroke="#000" stroke-width="0.8"/>
<line x1="498.9" y1="419.47" x2="503.3" y2="419.47" stroke="#000" stroke-width="0.8"/>
<ellipse cx="498.5" cy="416.09" rx="2.2" ry="1.7" fill="#000"/>
<ellipse cx="501.1" cy="411.76" rx="2.2" ry="1.7" fill="#000"/>
<ellipse cx="503.7" cy="415.13" rx="2.2" ry="1.7" fill="#000"/>
<rect x="522.1" y="489.42" width="8.2" height="5.58" fill="#f23c3a"/>
<line x1="526.2" y1="490.31" x2="526.2" y2="488.53" stroke="#000" stroke-width="0.8"/>
<line x1="524" y1="488.53" x2="528.4" y2="488.53" stroke="#000" stroke-width="0.8"/>
<line x1="524" y1="490.31" x2="528.4" y2="490.31" stroke="#000" stroke-width="0.8"/>
<ellipse cx="523.6" cy="489.69" rx="2.2" ry="1.7" fill="#000"/>
<ellipse cx="526.2" cy="488.88" rx="2.2" ry="1.7" fill="#000"/>
<ellipse cx="528.8" cy="489.51" rx="2.2" ry="1.7" fill="#000"/>
<rect x="537.3" y="491.65" width="8.2" height="3.35" fill="#50e030"/>
<line x1="541.4" y1="492.54" x2="541.4" y2="490.76" stroke="#000" stroke-width="0.8"/>
<line x1="539.2" y1="490.76" x2="543.6" y2="490.76" stroke="#000" stroke-width="0.8"/>
<line x1="539.2" y1="492.54" x2="543.6" y2="492.54" stroke="#000" stroke-width="0.8"/>
<ellipse cx="538.8" cy="491.92" rx="2.2" ry="1.7" fill="#000"/>
<ellipse cx="541.4" cy="491.12" rx="2.2" ry="1.7" fill="#000"/>
<ellipse cx="544" cy="491.74" rx="2.2" ry="1.7" fill="#000"/>
<rect x="552.9" y="469.33" width="8.2" height="25.67" fill="#f050f0"/>
<line x1="557" y1="470.87" x2="557" y2="467.79" stroke="#000" stroke-width="0.8"/>
<line x1="554.8" y1="467.79" x2="559.2" y2="467.79" stroke="#000" stroke-width="0.8"/>
<line x1="554.8" y1="470.87" x2="559.2" y2="470.87" stroke="#000" stroke-width="0.8"/>
<ellipse cx="554.4" cy="469.79" rx="2.2" ry="1.7" fill="#000"/>
<ellipse cx="557" cy="468.41" rx="2.2" ry="1.7" fill="#000"/>
<ellipse cx="559.6" cy="469.49" rx="2.2" ry="1.7" fill="#000"/>
<rect x="567.7" y="491.65" width="8.2" height="3.35" fill="#f09030"/>
<line x1="571.8" y1="492.54" x2="571.8" y2="490.76" stroke="#000" stroke-width="0.8"/>
<line x1="569.6" y1="490.76" x2="574" y2="490.76" stroke="#000" stroke-width="0.8"/>
<line x1="569.6" y1="492.54" x2="574" y2="492.54" stroke="#000" stroke-width="0.8"/>
<ellipse cx="569.2" cy="491.92" rx="2.2" ry="1.7" fill="#000"/>
<ellipse cx="571.8" cy="491.12" rx="2.2" ry="1.7" fill="#000"/>
<ellipse cx="574.4" cy="491.74" rx="2.2" ry="1.7" fill="#000"/>
<rect x="582.6" y="493.33" width="8.2" height="1.67" fill="#70f0f0"/>
<line x1="586.7" y1="494.22" x2="586.7" y2="492.43" stroke="#000" stroke-width="0.8"/>
<line x1="584.5" y1="492.43" x2="588.9" y2="492.43" stroke="#000" stroke-width="0.8"/>
<line x1="584.5" y1="494.22" x2="588.9" y2="494.22" stroke="#000" stroke-width="0.8"/>
<ellipse cx="584.1" cy="493.59" rx="2.2" ry="1.7" fill="#000"/>
<ellipse cx="586.7" cy="492.79" rx="2.2" ry="1.7" fill="#000"/>
<ellipse cx="589.3" cy="493.42" rx="2.2" ry="1.7" fill="#000"/>
<rect x="598.3" y="479.38" width="8.2" height="15.62" fill="#1414f0"/>
<line x1="602.4" y1="480.31" x2="602.4" y2="478.44" stroke="#000" stroke-width="0.8"/>
<line x1="600.2" y1="478.44" x2="604.6" y2="478.44" stroke="#000" stroke-width="0.8"/>
<line x1="600.2" y1="480.31" x2="604.6" y2="480.31" stroke="#000" stroke-width="0.8"/>
<ellipse cx="599.8" cy="479.66" rx="2.2" ry="1.7" fill="#000"/>
<ellipse cx="602.4" cy="478.81" rx="2.2" ry="1.7" fill="#000"/>
<ellipse cx="605" cy="479.47" rx="2.2" ry="1.7" fill="#000"/>
<rect x="613.2" y="434.74" width="8.2" height="60.26" fill="#8b1010"/>
<line x1="617.3" y1="438.35" x2="617.3" y2="431.12" stroke="#000" stroke-width="0.8"/>
<line x1="615.1" y1="431.12" x2="619.5" y2="431.12" stroke="#000" stroke-width="0.8"/>
<line x1="615.1" y1="438.35" x2="619.5" y2="438.35" stroke="#000" stroke-width="0.8"/>
<ellipse cx="614.7" cy="435.82" rx="2.2" ry="1.7" fill="#000"/>
<ellipse cx="617.3" cy="432.57" rx="2.2" ry="1.7" fill="#000"/>
<ellipse cx="619.9" cy="435.1" rx="2.2" ry="1.7" fill="#000"/>
<rect x="628.5" y="476.03" width="8.2" height="18.97" fill="#2e8a22"/>
<line x1="632.6" y1="477.17" x2="632.6" y2="474.89" stroke="#000" stroke-width="0.8"/>
<line x1="630.4" y1="474.89" x2="634.8" y2="474.89" stroke="#000" stroke-width="0.8"/>
<line x1="630.4" y1="477.17" x2="634.8" y2="477.17" stroke="#000" stroke-width="0.8"/>
<ellipse cx="630" cy="476.37" rx="2.2" ry="1.7" fill="#000"/>
<ellipse cx="632.6" cy="475.35" rx="2.2" ry="1.7" fill="#000"/>
<ellipse cx="635.2" cy="476.14" rx="2.2" ry="1.7" fill="#000"/>
<rect x="643.7" y="412.42" width="8.2" height="82.58" fill="#7a1f9a"/>
<line x1="647.8" y1="417.37" x2="647.8" y2="407.46" stroke="#000" stroke-width="0.8"/>
<line x1="645.6" y1="407.46" x2="650" y2="407.46" stroke="#000" stroke-width="0.8"/>
<line x1="645.6" y1="417.37" x2="650" y2="417.37" stroke="#000" stroke-width="0.8"/>
<ellipse cx="645.2" cy="413.9" rx="2.2" ry="1.7" fill="#000"/>
<ellipse cx="647.8" cy="409.44" rx="2.2" ry="1.7" fill="#000"/>
<ellipse cx="650.4" cy="412.91" rx="2.2" ry="1.7" fill="#000"/>
<polyline points="381.2,475.9 381.2,467.5 410.7,467.5 410.7,470.6" stroke="#444" stroke-width="0.95" fill="none"/>
<text x="396" y="467.75" font-size="8.5" text-anchor="middle" fill="#000">***</text>
<polyline points="410.1,465 410.1,460.6 455.6,460.6 455.6,464.8" stroke="#444" stroke-width="0.95" fill="none"/>
<text x="433" y="462.15" font-size="8.5" text-anchor="middle" fill="#000">*</text>
<polyline points="426.7,491.6 426.7,469.8 455.6,469.8 455.6,474.5" stroke="#444" stroke-width="0.95" fill="none"/>
<text x="440.9" y="471.25" font-size="8.5" text-anchor="middle" fill="#000">***</text>
<polyline points="471.9,431 471.9,428.6 486.9,428.6 486.9,454.3" stroke="#444" stroke-width="0.95" fill="none"/>
<text x="479.4" y="429.45" font-size="8.5" text-anchor="middle" fill="#000">***</text>
<polyline points="471.9,408.5 471.9,405.7 500.8,405.7 500.8,410.2" stroke="#444" stroke-width="0.95" fill="none"/>
<text x="486.5" y="407.15" font-size="8.5" text-anchor="middle" fill="#000">***</text>
<polyline points="527.3,477.2 527.3,459.6 556.2,459.6 556.2,462.2" stroke="#444" stroke-width="0.95" fill="none"/>
<text x="541.8" y="461.05" font-size="8.5" text-anchor="middle" fill="#000">***</text>
<polyline points="556.2,457 556.2,453.5 602.2,453.5 602.2,459.6" stroke="#444" stroke-width="0.95" fill="none"/>
<text x="579.2" y="455.15" font-size="8.5" text-anchor="middle" fill="#000">**</text>
<polyline points="572.8,485 572.8,467.5 602.2,467.5 602.2,470.6" stroke="#444" stroke-width="0.95" fill="none"/>
<text x="587.5" y="468.95" font-size="8.5" text-anchor="middle" fill="#000">***</text>
<polyline points="617.5,425.4 617.5,422.8 633,422.8 633,448.3" stroke="#444" stroke-width="0.95" fill="none"/>
<text x="625.2" y="424.15" font-size="8.5" text-anchor="middle" fill="#000">***</text>
<polyline points="617.5,418 617.5,402.3 646.9,402.3 646.9,406.2" stroke="#444" stroke-width="0.95" fill="none"/>
<text x="632.2" y="403.65" font-size="8.5" text-anchor="middle" fill="#000">***</text>
<rect x="397" y="367.8" width="10.8" height="4.8" fill="#f23c3a"/>
<text x="412.8" y="373.33" font-size="8.7" text-anchor="start" fill="#111">shNC</text>
<rect x="397" y="378.7" width="10.8" height="4.8" fill="#50e030"/>
<text x="412.8" y="384.23" font-size="8.7" text-anchor="start" fill="#111">shGIT2-L</text>
<rect x="397" y="389.4" width="10.8" height="4.8" fill="#f050f0"/>
<text x="412.8" y="394.93" font-size="8.7" text-anchor="start" fill="#111">shGIT2-S</text>
<rect x="460.2" y="367.8" width="10.8" height="4.8" fill="#f09030"/>
<text x="474.5" y="373.33" font-size="8.7" text-anchor="start" fill="#111">shNC+Fer-1</text>
<rect x="460.2" y="378.7" width="10.8" height="4.8" fill="#70f0f0"/>
<text x="474.5" y="384.23" font-size="8.7" text-anchor="start" fill="#111">shGIT2-L+Fer-1</text>
<rect x="460.2" y="389.4" width="10.8" height="4.8" fill="#1414f0"/>
<text x="474.5" y="394.93" font-size="8.7" text-anchor="start" fill="#111">shGIT2-S+Fer-1</text>
<rect x="544.4" y="367.8" width="10.8" height="4.8" fill="#8b1010"/>
<text x="558.9" y="373.33" font-size="8.7" text-anchor="start" fill="#111">shNC+RSL3</text>
<rect x="544.4" y="378.7" width="10.8" height="4.8" fill="#2e8a22"/>
<text x="558.9" y="384.23" font-size="8.7" text-anchor="start" fill="#111">shGIT2-L+RSL3</text>
<rect x="544.4" y="389.4" width="10.8" height="4.8" fill="#7a1f9a"/>
<text x="558.9" y="394.93" font-size="8.7" text-anchor="start" fill="#111">shGIT2-S+RSL3</text>
<text x="29" y="544.06" font-size="13.5" text-anchor="start" fill="#000" font-weight="bold">E</text>
<text transform="translate(58.39,620.4) rotate(-90)" x="0" y="0" font-size="10.8" text-anchor="middle" fill="#222" textLength="107" lengthAdjust="spacingAndGlyphs">MDA level (fold change)</text>
<line x1="83.2" y1="676" x2="83.2" y2="564.2" stroke="#222" stroke-width="1"/>
<line x1="74.2" y1="675.5" x2="83.2" y2="675.5" stroke="#222" stroke-width="1"/>
<text x="74" y="678.49" font-size="8.3" text-anchor="end" fill="#222">0</text>
<line x1="74.2" y1="647.67" x2="83.2" y2="647.67" stroke="#222" stroke-width="1"/>
<text x="74" y="650.66" font-size="8.3" text-anchor="end" fill="#222">1</text>
<line x1="74.2" y1="619.85" x2="83.2" y2="619.85" stroke="#222" stroke-width="1"/>
<text x="74" y="622.84" font-size="8.3" text-anchor="end" fill="#222">2</text>
<line x1="74.2" y1="592.03" x2="83.2" y2="592.03" stroke="#222" stroke-width="1"/>
<text x="74" y="595.01" font-size="8.3" text-anchor="end" fill="#222">3</text>
<line x1="74.2" y1="564.2" x2="83.2" y2="564.2" stroke="#222" stroke-width="1"/>
<text x="74" y="567.19" font-size="8.3" text-anchor="end" fill="#222">4</text>
<line x1="82.7" y1="675.5" x2="385.8" y2="675.5" stroke="#222" stroke-width="1"/>
<line x1="156.9" y1="675.5" x2="156.9" y2="678.5" stroke="#222" stroke-width="1"/>
<line x1="310.8" y1="675.5" x2="310.8" y2="678.5" stroke="#222" stroke-width="1"/>
<text x="156.9" y="692.75" font-size="11.8" text-anchor="middle" fill="#000" font-weight="bold" textLength="31.5" lengthAdjust="spacingAndGlyphs">THP-1</text>
<text x="310.8" y="692.75" font-size="11.8" text-anchor="middle" fill="#000" font-weight="bold" textLength="31" lengthAdjust="spacingAndGlyphs">HL-60</text>
<rect x="89.6" y="647.67" width="8.5" height="27.83" fill="#f23c3a"/>
<line x1="93.85" y1="649.62" x2="93.85" y2="645.73" stroke="#000" stroke-width="0.9"/>
<line x1="91.55" y1="645.73" x2="96.15" y2="645.73" stroke="#000" stroke-width="0.9"/>
<line x1="91.55" y1="649.62" x2="96.15" y2="649.62" stroke="#000" stroke-width="0.9"/>
<circle cx="93.85" cy="645.92" r="1.9" fill="#000"/>
<circle cx="92.35" cy="648.45" r="1.9" fill="#000"/>
<circle cx="95.85" cy="647.87" r="1.9" fill="#000"/>
<rect x="105.55" y="664.93" width="8.5" height="10.57" fill="#50e030"/>
<line x1="109.8" y1="666.04" x2="109.8" y2="663.81" stroke="#000" stroke-width="0.9"/>
<line x1="107.5" y1="663.81" x2="112.1" y2="663.81" stroke="#000" stroke-width="0.9"/>
<line x1="107.5" y1="666.04" x2="112.1" y2="666.04" stroke="#000" stroke-width="0.9"/>
<circle cx="109.8" cy="663.92" r="1.9" fill="#000"/>
<circle cx="108.3" cy="665.37" r="1.9" fill="#000"/>
<circle cx="111.8" cy="665.04" r="1.9" fill="#000"/>
<rect x="121.5" y="635.15" width="8.5" height="40.35" fill="#f050f0"/>
<line x1="125.75" y1="636.27" x2="125.75" y2="634.04" stroke="#000" stroke-width="0.9"/>
<line x1="123.45" y1="634.04" x2="128.05" y2="634.04" stroke="#000" stroke-width="0.9"/>
<line x1="123.45" y1="636.27" x2="128.05" y2="636.27" stroke="#000" stroke-width="0.9"/>
<circle cx="125.75" cy="634.15" r="1.9" fill="#000"/>
<circle cx="124.25" cy="635.6" r="1.9" fill="#000"/>
<circle cx="127.75" cy="635.27" r="1.9" fill="#000"/>
<rect x="137.45" y="660.2" width="8.5" height="15.3" fill="#f09030"/>
<line x1="141.7" y1="662.14" x2="141.7" y2="658.25" stroke="#000" stroke-width="0.9"/>
<line x1="139.4" y1="658.25" x2="144" y2="658.25" stroke="#000" stroke-width="0.9"/>
<line x1="139.4" y1="662.14" x2="144" y2="662.14" stroke="#000" stroke-width="0.9"/>
<circle cx="141.7" cy="658.44" r="1.9" fill="#000"/>
<circle cx="140.2" cy="660.98" r="1.9" fill="#000"/>
<circle cx="143.7" cy="660.39" r="1.9" fill="#000"/>
<rect x="153.4" y="666.32" width="8.5" height="9.18" fill="#70f0f0"/>
<line x1="157.65" y1="669.66" x2="157.65" y2="662.98" stroke="#000" stroke-width="0.9"/>
<line x1="155.35" y1="662.98" x2="159.95" y2="662.98" stroke="#000" stroke-width="0.9"/>
<line x1="155.35" y1="669.66" x2="159.95" y2="669.66" stroke="#000" stroke-width="0.9"/>
<circle cx="157.65" cy="663.31" r="1.9" fill="#000"/>
<circle cx="156.15" cy="667.65" r="1.9" fill="#000"/>
<circle cx="159.65" cy="666.65" r="1.9" fill="#000"/>
<rect x="169.35" y="647.12" width="8.5" height="28.38" fill="#1414f0"/>
<line x1="173.6" y1="648.79" x2="173.6" y2="645.45" stroke="#000" stroke-width="0.9"/>
<line x1="171.3" y1="645.45" x2="175.9" y2="645.45" stroke="#000" stroke-width="0.9"/>
<line x1="171.3" y1="648.79" x2="175.9" y2="648.79" stroke="#000" stroke-width="0.9"/>
<circle cx="173.6" cy="645.62" r="1.9" fill="#000"/>
<circle cx="172.1" cy="647.79" r="1.9" fill="#000"/>
<circle cx="175.6" cy="647.29" r="1.9" fill="#000"/>
<rect x="185.3" y="607.33" width="8.5" height="68.17" fill="#8b1010"/>
<line x1="189.55" y1="614.28" x2="189.55" y2="600.37" stroke="#000" stroke-width="0.9"/>
<line x1="187.25" y1="600.37" x2="191.85" y2="600.37" stroke="#000" stroke-width="0.9"/>
<line x1="187.25" y1="614.28" x2="191.85" y2="614.28" stroke="#000" stroke-width="0.9"/>
<circle cx="189.55" cy="601.07" r="1.9" fill="#000"/>
<circle cx="188.05" cy="610.11" r="1.9" fill="#000"/>
<circle cx="191.55" cy="608.02" r="1.9" fill="#000"/>
<rect x="201.25" y="651.29" width="8.5" height="24.21" fill="#2e8a22"/>
<line x1="205.5" y1="654.63" x2="205.5" y2="647.95" stroke="#000" stroke-width="0.9"/>
<line x1="203.2" y1="647.95" x2="207.8" y2="647.95" stroke="#000" stroke-width="0.9"/>
<line x1="203.2" y1="654.63" x2="207.8" y2="654.63" stroke="#000" stroke-width="0.9"/>
<circle cx="205.5" cy="648.29" r="1.9" fill="#000"/>
<circle cx="204" cy="652.63" r="1.9" fill="#000"/>
<circle cx="207.5" cy="651.63" r="1.9" fill="#000"/>
<rect x="217.2" y="587.85" width="8.5" height="87.65" fill="#7a1f9a"/>
<line x1="221.45" y1="596.2" x2="221.45" y2="579.5" stroke="#000" stroke-width="0.9"/>
<line x1="219.15" y1="579.5" x2="223.75" y2="579.5" stroke="#000" stroke-width="0.9"/>
<line x1="219.15" y1="596.2" x2="223.75" y2="596.2" stroke="#000" stroke-width="0.9"/>
<circle cx="221.45" cy="580.34" r="1.9" fill="#000"/>
<circle cx="219.95" cy="591.19" r="1.9" fill="#000"/>
<circle cx="223.45" cy="588.69" r="1.9" fill="#000"/>
<rect x="243.4" y="646.56" width="8.5" height="28.94" fill="#f23c3a"/>
<line x1="247.65" y1="648.79" x2="247.65" y2="644.34" stroke="#000" stroke-width="0.9"/>
<line x1="245.35" y1="644.34" x2="249.95" y2="644.34" stroke="#000" stroke-width="0.9"/>
<line x1="245.35" y1="648.79" x2="249.95" y2="648.79" stroke="#000" stroke-width="0.9"/>
<circle cx="247.65" cy="644.56" r="1.9" fill="#000"/>
<circle cx="246.15" cy="647.45" r="1.9" fill="#000"/>
<circle cx="249.65" cy="646.78" r="1.9" fill="#000"/>
<rect x="259.32" y="662.7" width="8.5" height="12.8" fill="#50e030"/>
<line x1="263.57" y1="664.09" x2="263.57" y2="661.31" stroke="#000" stroke-width="0.9"/>
<line x1="261.27" y1="661.31" x2="265.87" y2="661.31" stroke="#000" stroke-width="0.9"/>
<line x1="261.27" y1="664.09" x2="265.87" y2="664.09" stroke="#000" stroke-width="0.9"/>
<circle cx="263.57" cy="661.45" r="1.9" fill="#000"/>
<circle cx="262.07" cy="663.26" r="1.9" fill="#000"/>
<circle cx="265.57" cy="662.84" r="1.9" fill="#000"/>
<rect x="275.24" y="632.09" width="8.5" height="43.41" fill="#f050f0"/>
<line x1="279.49" y1="634.32" x2="279.49" y2="629.87" stroke="#000" stroke-width="0.9"/>
<line x1="277.19" y1="629.87" x2="281.79" y2="629.87" stroke="#000" stroke-width="0.9"/>
<line x1="277.19" y1="634.32" x2="281.79" y2="634.32" stroke="#000" stroke-width="0.9"/>
<circle cx="279.49" cy="630.09" r="1.9" fill="#000"/>
<circle cx="277.99" cy="632.98" r="1.9" fill="#000"/>
<circle cx="281.49" cy="632.32" r="1.9" fill="#000"/>
<rect x="291.16" y="659.64" width="8.5" height="15.86" fill="#f09030"/>
<line x1="295.41" y1="662.98" x2="295.41" y2="656.3" stroke="#000" stroke-width="0.9"/>
<line x1="293.11" y1="656.3" x2="297.71" y2="656.3" stroke="#000" stroke-width="0.9"/>
<line x1="293.11" y1="662.98" x2="297.71" y2="662.98" stroke="#000" stroke-width="0.9"/>
<circle cx="295.41" cy="656.63" r="1.9" fill="#000"/>
<circle cx="293.91" cy="660.98" r="1.9" fill="#000"/>
<circle cx="297.41" cy="659.97" r="1.9" fill="#000"/>
<rect x="307.08" y="665.48" width="8.5" height="10.02" fill="#70f0f0"/>
<line x1="311.33" y1="667.15" x2="311.33" y2="663.81" stroke="#000" stroke-width="0.9"/>
<line x1="309.03" y1="663.81" x2="313.63" y2="663.81" stroke="#000" stroke-width="0.9"/>
<line x1="309.03" y1="667.15" x2="313.63" y2="667.15" stroke="#000" stroke-width="0.9"/>
<circle cx="311.33" cy="663.98" r="1.9" fill="#000"/>
<circle cx="309.83" cy="666.15" r="1.9" fill="#000"/>
<circle cx="313.33" cy="665.65" r="1.9" fill="#000"/>
<rect x="323" y="642.11" width="8.5" height="33.39" fill="#1414f0"/>
<line x1="327.25" y1="648.23" x2="327.25" y2="635.99" stroke="#000" stroke-width="0.9"/>
<line x1="324.95" y1="635.99" x2="329.55" y2="635.99" stroke="#000" stroke-width="0.9"/>
<line x1="324.95" y1="648.23" x2="329.55" y2="648.23" stroke="#000" stroke-width="0.9"/>
<circle cx="327.25" cy="636.6" r="1.9" fill="#000"/>
<circle cx="325.75" cy="644.56" r="1.9" fill="#000"/>
<circle cx="329.25" cy="642.72" r="1.9" fill="#000"/>
<rect x="338.92" y="612.89" width="8.5" height="62.61" fill="#8b1010"/>
<line x1="343.17" y1="619.02" x2="343.17" y2="606.77" stroke="#000" stroke-width="0.9"/>
<line x1="340.87" y1="606.77" x2="345.47" y2="606.77" stroke="#000" stroke-width="0.9"/>
<line x1="340.87" y1="619.02" x2="345.47" y2="619.02" stroke="#000" stroke-width="0.9"/>
<circle cx="343.17" cy="607.38" r="1.9" fill="#000"/>
<circle cx="341.67" cy="615.34" r="1.9" fill="#000"/>
<circle cx="345.17" cy="613.51" r="1.9" fill="#000"/>
<rect x="354.84" y="652.41" width="8.5" height="23.09" fill="#2e8a22"/>
<line x1="359.09" y1="655.47" x2="359.09" y2="649.34" stroke="#000" stroke-width="0.9"/>
<line x1="356.79" y1="649.34" x2="361.39" y2="649.34" stroke="#000" stroke-width="0.9"/>
<line x1="356.79" y1="655.47" x2="361.39" y2="655.47" stroke="#000" stroke-width="0.9"/>
<circle cx="359.09" cy="649.65" r="1.9" fill="#000"/>
<circle cx="357.59" cy="653.63" r="1.9" fill="#000"/>
<circle cx="361.09" cy="652.71" r="1.9" fill="#000"/>
<rect x="370.76" y="588.13" width="8.5" height="87.37" fill="#7a1f9a"/>
<line x1="375.01" y1="591.47" x2="375.01" y2="584.79" stroke="#000" stroke-width="0.9"/>
<line x1="372.71" y1="584.79" x2="377.31" y2="584.79" stroke="#000" stroke-width="0.9"/>
<line x1="372.71" y1="591.47" x2="377.31" y2="591.47" stroke="#000" stroke-width="0.9"/>
<circle cx="375.01" cy="585.12" r="1.9" fill="#000"/>
<circle cx="373.51" cy="589.47" r="1.9" fill="#000"/>
<circle cx="377.01" cy="588.46" r="1.9" fill="#000"/>
<polyline points="94.2,632.1 94.2,619.7 125.2,619.7 125.2,623" stroke="#444" stroke-width="0.95" fill="none"/>
<text x="108.8" y="621.35" font-size="8.5" text-anchor="middle" fill="#000">**</text>
<polyline points="94.2,641 94.2,638 109.5,638 109.5,655.1" stroke="#444" stroke-width="0.95" fill="none"/>
<text x="102.2" y="639.64" font-size="8.5" text-anchor="middle" fill="#000">***</text>
<polyline points="125.2,627 125.2,625.2 172.3,625.2 172.3,631.4" stroke="#444" stroke-width="0.95" fill="none"/>
<text x="149.6" y="627.99" font-size="10.5" text-anchor="middle" fill="#000">*</text>
<polyline points="141.6,653.3 141.6,639.8 172.3,639.8 172.3,644.2" stroke="#444" stroke-width="0.95" fill="none"/>
<text x="156.9" y="642.59" font-size="10.5" text-anchor="middle" fill="#000">*</text>
<polyline points="189.8,598.5 189.8,593.8 205.1,593.8 205.1,613.1" stroke="#444" stroke-width="0.95" fill="none"/>
<text x="197.1" y="595.14" font-size="8.5" text-anchor="middle" fill="#000">***</text>
<polyline points="189.8,584 189.8,574.8 220.8,574.8 220.8,578.5" stroke="#444" stroke-width="0.95" fill="none"/>
<text x="204.4" y="576.05" font-size="8.5" text-anchor="middle" fill="#000">***</text>
<polyline points="247.7,628 247.7,617.2 278.6,617.2 278.6,620.7" stroke="#444" stroke-width="0.95" fill="none"/>
<text x="263.2" y="618.64" font-size="8.5" text-anchor="middle" fill="#000">***</text>
<polyline points="247.7,640 247.7,636.2 263.2,636.2 263.2,658.7" stroke="#444" stroke-width="0.95" fill="none"/>
<text x="255.9" y="637.45" font-size="8.5" text-anchor="middle" fill="#000">**</text>
<polyline points="279.8,625 279.8,622.8 325.4,622.8 325.4,628" stroke="#444" stroke-width="0.95" fill="none"/>
<text x="302.6" y="625.28" font-size="10.5" text-anchor="middle" fill="#000">*</text>
<polyline points="295.3,652.8 295.3,632.4 325.4,632.4 325.4,635.3" stroke="#444" stroke-width="0.95" fill="none"/>
<text x="310.8" y="634.05" font-size="8.5" text-anchor="middle" fill="#000">**</text>
<polyline points="342,610 342,599.4 358.1,599.4 358.1,619.3" stroke="#444" stroke-width="0.95" fill="none"/>
<text x="349.9" y="601.25" font-size="8.5" text-anchor="middle" fill="#000">***</text>
<polyline points="342,598 342,576.9 372.7,576.9 372.7,579.9" stroke="#444" stroke-width="0.95" fill="none"/>
<text x="357.2" y="578.14" font-size="8.5" text-anchor="middle" fill="#000">***</text>
<rect x="109.5" y="540.3" width="10.9" height="4.4" fill="#f23c3a"/>
<text x="125.9" y="545.6" font-size="8.6" text-anchor="start" fill="#111">shNC</text>
<rect x="109.5" y="550.8" width="10.9" height="4.4" fill="#50e030"/>
<text x="125.9" y="556.1" font-size="8.6" text-anchor="start" fill="#111">shGIT2-L</text>
<rect x="109.5" y="561.3" width="10.9" height="4.4" fill="#f050f0"/>
<text x="125.9" y="566.6" font-size="8.6" text-anchor="start" fill="#111">shGIT2-S</text>
<rect x="173.4" y="540.3" width="10.9" height="4.4" fill="#f09030"/>
<text x="188" y="545.6" font-size="8.6" text-anchor="start" fill="#111">shNC+Fer-1</text>
<rect x="173.4" y="550.8" width="10.9" height="4.4" fill="#70f0f0"/>
<text x="188" y="556.1" font-size="8.6" text-anchor="start" fill="#111">shGIT2-L+Fer-1</text>
<rect x="173.4" y="561.3" width="10.9" height="4.4" fill="#1414f0"/>
<text x="188" y="566.6" font-size="8.6" text-anchor="start" fill="#111">shGIT2-S+Fer-1</text>
<rect x="258.8" y="540.3" width="10.9" height="4.4" fill="#8b1010"/>
<text x="271.9" y="545.6" font-size="8.6" text-anchor="start" fill="#111">shNC+RSL3</text>
<rect x="258.8" y="550.8" width="10.9" height="4.4" fill="#2e8a22"/>
<text x="271.9" y="556.1" font-size="8.6" text-anchor="start" fill="#111">shGIT2-L+RSL3</text>
<rect x="258.8" y="561.3" width="10.9" height="4.4" fill="#7a1f9a"/>
<text x="271.9" y="566.6" font-size="8.6" text-anchor="start" fill="#111">shGIT2-S+RSL3</text>
<text x="449" y="543.86" font-size="13.5" text-anchor="start" fill="#000" font-weight="bold">F</text>
<rect x="482.9" y="553.7" width="10.7" height="4.2" fill="#98c3f4"/>
<text x="493.8" y="558.9" font-size="8.6" text-anchor="start" fill="#111" textLength="21.8" lengthAdjust="spacingAndGlyphs">shNC</text>
<rect x="519.4" y="553.7" width="10" height="4.2" fill="#45dd22"/>
<text x="530.1" y="558.9" font-size="8.6" text-anchor="start" fill="#111" textLength="35" lengthAdjust="spacingAndGlyphs">shGIT2-L</text>
<rect x="567.7" y="553.7" width="10" height="4.2" fill="#f43a3e"/>
<text x="578.8" y="558.9" font-size="8.6" text-anchor="start" fill="#111" textLength="36.4" lengthAdjust="spacingAndGlyphs">shGIT2-S</text>
<text transform="translate(462.49,621.9) rotate(-90)" x="0" y="0" font-size="10.8" text-anchor="middle" fill="#222" textLength="104" lengthAdjust="spacingAndGlyphs">Iron level (fold change)</text>
<line x1="481.1" y1="676.1" x2="481.1" y2="564.7" stroke="#222" stroke-width="1"/>
<line x1="475.6" y1="675.6" x2="481.1" y2="675.6" stroke="#222" stroke-width="1"/>
<text x="475.2" y="678.66" font-size="8.5" text-anchor="end" fill="#222" textLength="11.46" lengthAdjust="spacingAndGlyphs">0.0</text>
<line x1="475.6" y1="647.88" x2="481.1" y2="647.88" stroke="#222" stroke-width="1"/>
<text x="475.2" y="650.93" font-size="8.5" text-anchor="end" fill="#222" textLength="11.46" lengthAdjust="spacingAndGlyphs">0.5</text>
<line x1="475.6" y1="620.15" x2="481.1" y2="620.15" stroke="#222" stroke-width="1"/>
<text x="475.2" y="623.21" font-size="8.5" text-anchor="end" fill="#222" textLength="11.46" lengthAdjust="spacingAndGlyphs">1.0</text>
<line x1="475.6" y1="592.43" x2="481.1" y2="592.43" stroke="#222" stroke-width="1"/>
<text x="475.2" y="595.49" font-size="8.5" text-anchor="end" fill="#222" textLength="11.46" lengthAdjust="spacingAndGlyphs">1.5</text>
<line x1="475.6" y1="564.7" x2="481.1" y2="564.7" stroke="#222" stroke-width="1"/>
<text x="475.2" y="567.76" font-size="8.5" text-anchor="end" fill="#222" textLength="11.46" lengthAdjust="spacingAndGlyphs">2.0</text>
<line x1="480.6" y1="675.6" x2="619.5" y2="675.6" stroke="#222" stroke-width="1"/>
<line x1="514.4" y1="675.6" x2="514.4" y2="678.6" stroke="#222" stroke-width="1"/>
<line x1="585.9" y1="675.6" x2="585.9" y2="678.6" stroke="#222" stroke-width="1"/>
<text x="514.4" y="692.55" font-size="11.8" text-anchor="middle" fill="#000" font-weight="bold" textLength="31.5" lengthAdjust="spacingAndGlyphs">THP-1</text>
<text x="585.9" y="692.55" font-size="11.8" text-anchor="middle" fill="#000" font-weight="bold" textLength="31" lengthAdjust="spacingAndGlyphs">HL-60</text>
<rect x="489" y="621.26" width="11.8" height="54.34" fill="#98c3f4"/>
<line x1="494.9" y1="622.92" x2="494.9" y2="617.93" stroke="#000" stroke-width="0.9"/>
<line x1="491.9" y1="617.93" x2="497.9" y2="617.93" stroke="#000" stroke-width="0.9"/>
<line x1="491.9" y1="622.92" x2="497.9" y2="622.92" stroke="#000" stroke-width="0.9"/>
<circle cx="491.9" cy="621.81" r="2.7" fill="#000"/>
<circle cx="495.4" cy="618.49" r="2.7" fill="#000"/>
<circle cx="498.1" cy="620.15" r="2.7" fill="#000"/>
<rect x="508.7" y="646.77" width="11.8" height="28.83" fill="#45dd22"/>
<line x1="514.6" y1="648.98" x2="514.6" y2="643.44" stroke="#000" stroke-width="0.9"/>
<line x1="511.6" y1="643.44" x2="517.6" y2="643.44" stroke="#000" stroke-width="0.9"/>
<line x1="511.6" y1="648.98" x2="517.6" y2="648.98" stroke="#000" stroke-width="0.9"/>
<rect x="509.26" y="645.53" width="4.68" height="4.68" fill="#000"/>
<rect x="512.26" y="641.1" width="4.68" height="4.68" fill="#000"/>
<rect x="515.46" y="644.43" width="4.68" height="4.68" fill="#000"/>
<rect x="528.7" y="606.29" width="11.4" height="69.31" fill="#f43a3e"/>
<line x1="534.4" y1="609.06" x2="534.4" y2="603.51" stroke="#000" stroke-width="0.9"/>
<line x1="531.4" y1="603.51" x2="537.4" y2="603.51" stroke="#000" stroke-width="0.9"/>
<line x1="531.4" y1="609.06" x2="537.4" y2="609.06" stroke="#000" stroke-width="0.9"/>
<polygon points="528.54,609.68 534.26,609.68 531.4,604.82" fill="#000"/>
<polygon points="531.54,605.25 537.26,605.25 534.4,600.39" fill="#000"/>
<polygon points="534.74,608.02 540.46,608.02 537.6,603.16" fill="#000"/>
<rect x="561.6" y="621.26" width="11.4" height="54.34" fill="#98c3f4"/>
<line x1="567.3" y1="622.92" x2="567.3" y2="617.93" stroke="#000" stroke-width="0.9"/>
<line x1="564.3" y1="617.93" x2="570.3" y2="617.93" stroke="#000" stroke-width="0.9"/>
<line x1="564.3" y1="622.92" x2="570.3" y2="622.92" stroke="#000" stroke-width="0.9"/>
<circle cx="564.3" cy="621.81" r="2.7" fill="#000"/>
<circle cx="567.8" cy="618.49" r="2.7" fill="#000"/>
<circle cx="570.5" cy="620.15" r="2.7" fill="#000"/>
<rect x="581.3" y="650.65" width="11.8" height="24.95" fill="#45dd22"/>
<line x1="587.2" y1="653.42" x2="587.2" y2="646.77" stroke="#000" stroke-width="0.9"/>
<line x1="584.2" y1="646.77" x2="590.2" y2="646.77" stroke="#000" stroke-width="0.9"/>
<line x1="584.2" y1="653.42" x2="590.2" y2="653.42" stroke="#000" stroke-width="0.9"/>
<rect x="581.86" y="649.42" width="4.68" height="4.68" fill="#000"/>
<rect x="584.86" y="644.43" width="4.68" height="4.68" fill="#000"/>
<rect x="588.06" y="647.2" width="4.68" height="4.68" fill="#000"/>
<rect x="601" y="584.66" width="11.7" height="90.94" fill="#f43a3e"/>
<line x1="606.85" y1="592.43" x2="606.85" y2="575.79" stroke="#000" stroke-width="0.9"/>
<line x1="603.85" y1="575.79" x2="609.85" y2="575.79" stroke="#000" stroke-width="0.9"/>
<line x1="603.85" y1="592.43" x2="609.85" y2="592.43" stroke="#000" stroke-width="0.9"/>
<polygon points="603.99,580.85 609.71,580.85 606.85,575.99" fill="#000"/>
<polygon points="603.99,589.17 609.71,589.17 606.85,584.31" fill="#000"/>
<polygon points="603.99,594.71 609.71,594.71 606.85,589.85" fill="#000"/>
<polyline points="495.4,602.3 495.4,591.5 533.7,591.5 533.7,599.4" stroke="#444" stroke-width="0.95" fill="none"/>
<text x="513.3" y="593.7" font-size="10" text-anchor="middle" fill="#000">**</text>
<polyline points="495.4,613.7 495.4,609.4 515.1,609.4 515.1,630.9" stroke="#444" stroke-width="0.95" fill="none"/>
<text x="504.4" y="611.5" font-size="10" text-anchor="middle" fill="#000">***</text>
<polyline points="568,613.7 568,569.4 606.3,569.4 606.3,573.6" stroke="#444" stroke-width="0.95" fill="none"/>
<text x="587.7" y="571.78" font-size="10.5" text-anchor="middle" fill="#000">*</text>
<polyline points="568,613.7 568,610.1 587.4,610.1 587.4,641.6" stroke="#444" stroke-width="0.95" fill="none"/>
<text x="577.7" y="612.2" font-size="10" text-anchor="middle" fill="#000">**</text>
<text x="31" y="708.26" font-size="13.5" text-anchor="start" fill="#000" font-weight="bold">G</text>
<rect x="77.2" y="717.1" width="10.8" height="4.2" fill="#98c3f4"/>
<text x="89" y="722.3" font-size="8.6" text-anchor="start" fill="#111" textLength="21.8" lengthAdjust="spacingAndGlyphs">shNC</text>
<rect x="113.5" y="717.1" width="10.1" height="4.2" fill="#45dd22"/>
<text x="124.9" y="722.3" font-size="8.6" text-anchor="start" fill="#111" textLength="34.6" lengthAdjust="spacingAndGlyphs">shGIT2-L</text>
<rect x="162.2" y="717.1" width="10.1" height="4.2" fill="#f43a3e"/>
<text x="172.9" y="722.3" font-size="8.6" text-anchor="start" fill="#111" textLength="34.6" lengthAdjust="spacingAndGlyphs">shGIT2-S</text>
<text transform="translate(41.02,779) rotate(-90)" x="0" y="0" font-size="10.6" text-anchor="middle" fill="#222" textLength="55" lengthAdjust="spacingAndGlyphs">Relative LIP</text>
<text transform="translate(52.17,779) rotate(-90)" x="0" y="0" font-size="10.2" text-anchor="middle" fill="#222" textLength="88" lengthAdjust="spacingAndGlyphs">△C-AM MFI+/-DFO</text>
<line x1="81.3" y1="839.2" x2="81.3" y2="725.9" stroke="#222" stroke-width="1"/>
<line x1="75.8" y1="838.7" x2="81.3" y2="838.7" stroke="#222" stroke-width="1"/>
<text x="75.4" y="841.76" font-size="8.5" text-anchor="end" fill="#222" textLength="4.58" lengthAdjust="spacingAndGlyphs">0</text>
<line x1="75.8" y1="801.1" x2="81.3" y2="801.1" stroke="#222" stroke-width="1"/>
<text x="75.4" y="804.16" font-size="8.5" text-anchor="end" fill="#222" textLength="13.75" lengthAdjust="spacingAndGlyphs">500</text>
<line x1="75.8" y1="763.5" x2="81.3" y2="763.5" stroke="#222" stroke-width="1"/>
<text x="75.4" y="766.56" font-size="8.5" text-anchor="end" fill="#222" textLength="18.34" lengthAdjust="spacingAndGlyphs">1000</text>
<line x1="75.8" y1="725.9" x2="81.3" y2="725.9" stroke="#222" stroke-width="1"/>
<text x="75.4" y="728.96" font-size="8.5" text-anchor="end" fill="#222" textLength="18.34" lengthAdjust="spacingAndGlyphs">1500</text>
<line x1="80.8" y1="838.7" x2="208.2" y2="838.7" stroke="#222" stroke-width="1"/>
<line x1="112" y1="838.7" x2="112" y2="841.7" stroke="#222" stroke-width="1"/>
<line x1="178.4" y1="838.7" x2="178.4" y2="841.7" stroke="#222" stroke-width="1"/>
<text x="107.5" y="855.75" font-size="11.8" text-anchor="middle" fill="#000" font-weight="bold" textLength="31.5" lengthAdjust="spacingAndGlyphs">THP-1</text>
<text x="178" y="855.75" font-size="11.8" text-anchor="middle" fill="#000" font-weight="bold" textLength="31" lengthAdjust="spacingAndGlyphs">HL-60</text>
<rect x="88" y="791.32" width="12" height="47.38" fill="#98c3f4"/>
<line x1="94" y1="795.08" x2="94" y2="786.06" stroke="#000" stroke-width="0.9"/>
<line x1="91" y1="786.06" x2="97" y2="786.06" stroke="#000" stroke-width="0.9"/>
<line x1="91" y1="795.08" x2="97" y2="795.08" stroke="#000" stroke-width="0.9"/>
<circle cx="92.5" cy="794.33" r="3" fill="#000"/>
<circle cx="92.5" cy="789.07" r="3" fill="#000"/>
<circle cx="96.5" cy="787.19" r="3" fill="#000"/>
<rect x="106.8" y="806.36" width="10.7" height="32.34" fill="#45dd22"/>
<line x1="112.15" y1="810.12" x2="112.15" y2="803.36" stroke="#000" stroke-width="0.9"/>
<line x1="109.15" y1="803.36" x2="115.15" y2="803.36" stroke="#000" stroke-width="0.9"/>
<line x1="109.15" y1="810.12" x2="115.15" y2="810.12" stroke="#000" stroke-width="0.9"/>
<rect x="107.04" y="806.01" width="5.22" height="5.22" fill="#000"/>
<rect x="111.04" y="804.51" width="5.22" height="5.22" fill="#000"/>
<rect x="112.54" y="798.49" width="5.22" height="5.22" fill="#000"/>
<rect x="124.9" y="778.54" width="11.4" height="60.16" fill="#f43a3e"/>
<line x1="130.6" y1="783.05" x2="130.6" y2="773.28" stroke="#000" stroke-width="0.9"/>
<line x1="127.6" y1="773.28" x2="133.6" y2="773.28" stroke="#000" stroke-width="0.9"/>
<line x1="127.6" y1="783.05" x2="133.6" y2="783.05" stroke="#000" stroke-width="0.9"/>
<polygon points="124.91,781.09 131.29,781.09 128.1,775.67" fill="#000"/>
<polygon points="129.41,776.58 135.79,776.58 132.6,771.16" fill="#000"/>
<polygon points="129.91,784.1 136.29,784.1 133.1,778.68" fill="#000"/>
<rect x="155.1" y="780.04" width="11.8" height="58.66" fill="#98c3f4"/>
<line x1="161" y1="783.05" x2="161" y2="776.28" stroke="#000" stroke-width="0.9"/>
<line x1="158" y1="776.28" x2="164" y2="776.28" stroke="#000" stroke-width="0.9"/>
<line x1="158" y1="783.05" x2="164" y2="783.05" stroke="#000" stroke-width="0.9"/>
<circle cx="159" cy="781.55" r="3" fill="#000"/>
<circle cx="159" cy="778.54" r="3" fill="#000"/>
<circle cx="163.5" cy="777.04" r="3" fill="#000"/>
<rect x="174" y="801.85" width="10.7" height="36.85" fill="#45dd22"/>
<line x1="179.35" y1="804.11" x2="179.35" y2="796.59" stroke="#000" stroke-width="0.9"/>
<line x1="176.35" y1="796.59" x2="182.35" y2="796.59" stroke="#000" stroke-width="0.9"/>
<line x1="176.35" y1="804.11" x2="182.35" y2="804.11" stroke="#000" stroke-width="0.9"/>
<rect x="174.74" y="799.99" width="5.22" height="5.22" fill="#000"/>
<rect x="178.74" y="792.47" width="5.22" height="5.22" fill="#000"/>
<rect x="179.74" y="798.49" width="5.22" height="5.22" fill="#000"/>
<rect x="192" y="754.48" width="11.2" height="84.22" fill="#f43a3e"/>
<line x1="197.6" y1="765" x2="197.6" y2="743.95" stroke="#000" stroke-width="0.9"/>
<line x1="194.6" y1="743.95" x2="200.6" y2="743.95" stroke="#000" stroke-width="0.9"/>
<line x1="194.6" y1="765" x2="200.6" y2="765" stroke="#000" stroke-width="0.9"/>
<polygon points="194.41,746.5 200.79,746.5 197.6,741.08" fill="#000"/>
<polygon points="194.41,757.03 200.79,757.03 197.6,751.61" fill="#000"/>
<polygon points="194.41,768.31 200.79,768.31 197.6,762.88" fill="#000"/>
<polyline points="94,776 94,759.3 132.6,759.3 132.6,760.9" stroke="#444" stroke-width="0.95" fill="none"/>
<text x="114.2" y="760.7" font-size="10" text-anchor="middle" fill="#000">***</text>
<polyline points="94,780 94,777.3 113.5,777.3 113.5,799.1" stroke="#444" stroke-width="0.95" fill="none"/>
<text x="103.4" y="779.88" font-size="10.5" text-anchor="middle" fill="#000">*</text>
<polyline points="159.5,750.4 159.5,737 198.1,737 198.1,740.3" stroke="#444" stroke-width="0.95" fill="none"/>
<text x="180.3" y="739.3" font-size="10" text-anchor="middle" fill="#000">***</text>
<polyline points="159.5,768 159.5,765.5 180.3,765.5 180.3,790.7" stroke="#444" stroke-width="0.95" fill="none"/>
<text x="169.6" y="768.19" font-size="10.5" text-anchor="middle" fill="#000">*</text>
<text x="246.8" y="708.26" font-size="13.5" text-anchor="start" fill="#000" font-weight="bold">H</text>
<rect x="282.1" y="717.1" width="11.7" height="4.2" fill="#98c3f4"/>
<text x="293.8" y="722.3" font-size="8.6" text-anchor="start" fill="#111" textLength="21.8" lengthAdjust="spacingAndGlyphs">shNC</text>
<rect x="317.3" y="717.1" width="11.1" height="4.2" fill="#45dd22"/>
<text x="329.1" y="722.3" font-size="8.6" text-anchor="start" fill="#111" textLength="35.3" lengthAdjust="spacingAndGlyphs">shGIT2-L</text>
<rect x="366.7" y="717.1" width="11.1" height="4.2" fill="#f43a3e"/>
<text x="377.8" y="722.3" font-size="8.6" text-anchor="start" fill="#111" textLength="35.2" lengthAdjust="spacingAndGlyphs">shGIT2-S</text>
<text transform="translate(262.42,796.5) rotate(-90)" x="0" y="0" font-size="10.6" text-anchor="middle" fill="#222" textLength="92" lengthAdjust="spacingAndGlyphs">Relative GSH/GSSG</text>
<line x1="288.8" y1="839.9" x2="288.8" y2="727.6" stroke="#222" stroke-width="1"/>
<line x1="283.3" y1="839.4" x2="288.8" y2="839.4" stroke="#222" stroke-width="1"/>
<text x="282.9" y="842.46" font-size="8.5" text-anchor="end" fill="#222" textLength="11.46" lengthAdjust="spacingAndGlyphs">0.0</text>
<line x1="283.3" y1="811.45" x2="288.8" y2="811.45" stroke="#222" stroke-width="1"/>
<text x="282.9" y="814.51" font-size="8.5" text-anchor="end" fill="#222" textLength="11.46" lengthAdjust="spacingAndGlyphs">0.5</text>
<line x1="283.3" y1="783.5" x2="288.8" y2="783.5" stroke="#222" stroke-width="1"/>
<text x="282.9" y="786.56" font-size="8.5" text-anchor="end" fill="#222" textLength="11.46" lengthAdjust="spacingAndGlyphs">1.0</text>
<line x1="283.3" y1="755.55" x2="288.8" y2="755.55" stroke="#222" stroke-width="1"/>
<text x="282.9" y="758.61" font-size="8.5" text-anchor="end" fill="#222" textLength="11.46" lengthAdjust="spacingAndGlyphs">1.5</text>
<line x1="283.3" y1="727.6" x2="288.8" y2="727.6" stroke="#222" stroke-width="1"/>
<text x="282.9" y="730.66" font-size="8.5" text-anchor="end" fill="#222" textLength="11.46" lengthAdjust="spacingAndGlyphs">2.0</text>
<line x1="288.3" y1="839.4" x2="419.8" y2="839.4" stroke="#222" stroke-width="1"/>
<line x1="318.5" y1="839.4" x2="318.5" y2="842.4" stroke="#222" stroke-width="1"/>
<line x1="387" y1="839.4" x2="387" y2="842.4" stroke="#222" stroke-width="1"/>
<text x="320.7" y="855.75" font-size="11.8" text-anchor="middle" fill="#000" font-weight="bold" textLength="31.5" lengthAdjust="spacingAndGlyphs">THP-1</text>
<text x="394.6" y="855.75" font-size="11.8" text-anchor="middle" fill="#000" font-weight="bold" textLength="31" lengthAdjust="spacingAndGlyphs">HL-60</text>
<rect x="293.8" y="785.74" width="11.8" height="53.66" fill="#98c3f4"/>
<line x1="299.7" y1="789.09" x2="299.7" y2="780.15" stroke="#000" stroke-width="0.9"/>
<line x1="296.7" y1="780.15" x2="302.7" y2="780.15" stroke="#000" stroke-width="0.9"/>
<line x1="296.7" y1="789.09" x2="302.7" y2="789.09" stroke="#000" stroke-width="0.9"/>
<circle cx="296.7" cy="786.29" r="2.7" fill="#000"/>
<circle cx="299.7" cy="779.59" r="2.7" fill="#000"/>
<circle cx="303.2" cy="785.18" r="2.7" fill="#000"/>
<rect x="313" y="753.87" width="11" height="85.53" fill="#45dd22"/>
<line x1="318.5" y1="758.35" x2="318.5" y2="748.84" stroke="#000" stroke-width="0.9"/>
<line x1="315.5" y1="748.84" x2="321.5" y2="748.84" stroke="#000" stroke-width="0.9"/>
<line x1="315.5" y1="758.35" x2="321.5" y2="758.35" stroke="#000" stroke-width="0.9"/>
<rect x="313.66" y="747.62" width="4.68" height="4.68" fill="#000"/>
<rect x="319.66" y="748.74" width="4.68" height="4.68" fill="#000"/>
<rect x="316.16" y="756" width="4.68" height="4.68" fill="#000"/>
<rect x="331.8" y="814.8" width="11.4" height="24.6" fill="#f43a3e"/>
<line x1="337.5" y1="820.95" x2="337.5" y2="808.1" stroke="#000" stroke-width="0.9"/>
<line x1="334.5" y1="808.1" x2="340.5" y2="808.1" stroke="#000" stroke-width="0.9"/>
<line x1="334.5" y1="820.95" x2="340.5" y2="820.95" stroke="#000" stroke-width="0.9"/>
<polygon points="334.64,810.94 340.36,810.94 337.5,806.08" fill="#000"/>
<polygon points="334.64,822.12 340.36,822.12 337.5,817.26" fill="#000"/>
<polygon points="337.64,812.62 343.36,812.62 340.5,807.76" fill="#000"/>
<rect x="362.7" y="784.06" width="11.7" height="55.34" fill="#98c3f4"/>
<line x1="368.55" y1="791.88" x2="368.55" y2="775.12" stroke="#000" stroke-width="0.9"/>
<line x1="365.55" y1="775.12" x2="371.55" y2="775.12" stroke="#000" stroke-width="0.9"/>
<line x1="365.55" y1="791.88" x2="371.55" y2="791.88" stroke="#000" stroke-width="0.9"/>
<circle cx="368.55" cy="775.12" r="2.7" fill="#000"/>
<circle cx="368.55" cy="787.97" r="2.7" fill="#000"/>
<circle cx="368.55" cy="783.5" r="2.7" fill="#000"/>
<rect x="381.1" y="756.11" width="11.8" height="83.29" fill="#45dd22"/>
<line x1="387" y1="765.61" x2="387" y2="746.61" stroke="#000" stroke-width="0.9"/>
<line x1="384" y1="746.61" x2="390" y2="746.61" stroke="#000" stroke-width="0.9"/>
<line x1="384" y1="765.61" x2="390" y2="765.61" stroke="#000" stroke-width="0.9"/>
<rect x="384.66" y="744.82" width="4.68" height="4.68" fill="#000"/>
<rect x="384.66" y="753.21" width="4.68" height="4.68" fill="#000"/>
<rect x="384.66" y="761.59" width="4.68" height="4.68" fill="#000"/>
<rect x="400.3" y="806.98" width="11.4" height="32.42" fill="#f43a3e"/>
<line x1="406" y1="813.69" x2="406" y2="800.27" stroke="#000" stroke-width="0.9"/>
<line x1="403" y1="800.27" x2="409" y2="800.27" stroke="#000" stroke-width="0.9"/>
<line x1="403" y1="813.69" x2="409" y2="813.69" stroke="#000" stroke-width="0.9"/>
<polygon points="403.14,806.47 408.86,806.47 406,801.61" fill="#000"/>
<polygon points="403.14,815.41 408.86,815.41 406,810.55" fill="#000"/>
<polygon points="403.14,808.15 408.86,808.15 406,803.29" fill="#000"/>
<polyline points="299.5,775.6 299.5,732.6 335.1,732.6 335.1,805.8" stroke="#444" stroke-width="0.95" fill="none"/>
<text x="315.7" y="734.7" font-size="10" text-anchor="middle" fill="#000">**</text>
<polyline points="299.5,775.6 299.5,742.7 317.3,742.7 317.3,747" stroke="#444" stroke-width="0.95" fill="none"/>
<text x="308.3" y="744.6" font-size="10" text-anchor="middle" fill="#000">***</text>
<polyline points="367.7,770.6 367.7,730.3 404.6,730.3 404.6,765.5" stroke="#444" stroke-width="0.95" fill="none"/>
<text x="386.2" y="732.88" font-size="10.5" text-anchor="middle" fill="#000">*</text>
<polyline points="367.7,770.6 367.7,740.3 386.9,740.3 386.9,743.7" stroke="#444" stroke-width="0.95" fill="none"/>
<text x="376.8" y="742.99" font-size="10.5" text-anchor="middle" fill="#000">*</text>
<text x="449" y="708.26" font-size="13.5" text-anchor="start" fill="#000" font-weight="bold">I</text>
<rect x="485.9" y="717.1" width="10.1" height="4.2" fill="#98c3f4"/>
<text x="497" y="722.3" font-size="8.6" text-anchor="start" fill="#111" textLength="21.8" lengthAdjust="spacingAndGlyphs">shNC</text>
<rect x="526.2" y="717.1" width="11.1" height="4.2" fill="#45dd22"/>
<text x="538.3" y="722.3" font-size="8.6" text-anchor="start" fill="#111" textLength="34.9" lengthAdjust="spacingAndGlyphs">shGIT2-L</text>
<rect x="575.9" y="717.1" width="10.1" height="4.2" fill="#f43a3e"/>
<text x="586" y="722.3" font-size="8.6" text-anchor="start" fill="#111" textLength="35.2" lengthAdjust="spacingAndGlyphs">shGIT2-S</text>
<text transform="translate(462.82,782.3) rotate(-90)" x="0" y="0" font-size="10.6" text-anchor="middle" fill="#222" textLength="131" lengthAdjust="spacingAndGlyphs">Relative NADPH/NADP⁺ ratio</text>
<line x1="491.3" y1="839.9" x2="491.3" y2="727.6" stroke="#222" stroke-width="1"/>
<line x1="485.8" y1="839.4" x2="491.3" y2="839.4" stroke="#222" stroke-width="1"/>
<text x="485.4" y="842.46" font-size="8.5" text-anchor="end" fill="#222" textLength="11.46" lengthAdjust="spacingAndGlyphs">0.0</text>
<line x1="485.8" y1="817.04" x2="491.3" y2="817.04" stroke="#222" stroke-width="1"/>
<text x="485.4" y="820.1" font-size="8.5" text-anchor="end" fill="#222" textLength="11.46" lengthAdjust="spacingAndGlyphs">0.5</text>
<line x1="485.8" y1="794.68" x2="491.3" y2="794.68" stroke="#222" stroke-width="1"/>
<text x="485.4" y="797.74" font-size="8.5" text-anchor="end" fill="#222" textLength="11.46" lengthAdjust="spacingAndGlyphs">1.0</text>
<line x1="485.8" y1="772.32" x2="491.3" y2="772.32" stroke="#222" stroke-width="1"/>
<text x="485.4" y="775.38" font-size="8.5" text-anchor="end" fill="#222" textLength="11.46" lengthAdjust="spacingAndGlyphs">1.5</text>
<line x1="485.8" y1="749.96" x2="491.3" y2="749.96" stroke="#222" stroke-width="1"/>
<text x="485.4" y="753.02" font-size="8.5" text-anchor="end" fill="#222" textLength="11.46" lengthAdjust="spacingAndGlyphs">2.0</text>
<line x1="485.8" y1="727.6" x2="491.3" y2="727.6" stroke="#222" stroke-width="1"/>
<text x="485.4" y="730.66" font-size="8.5" text-anchor="end" fill="#222" textLength="11.46" lengthAdjust="spacingAndGlyphs">2.5</text>
<line x1="490.8" y1="839.4" x2="621.2" y2="839.4" stroke="#222" stroke-width="1"/>
<line x1="516.3" y1="839.4" x2="516.3" y2="842.4" stroke="#222" stroke-width="1"/>
<line x1="588.2" y1="839.4" x2="588.2" y2="842.4" stroke="#222" stroke-width="1"/>
<text x="515.4" y="855.75" font-size="11.8" text-anchor="middle" fill="#000" font-weight="bold" textLength="31.5" lengthAdjust="spacingAndGlyphs">THP-1</text>
<text x="587.6" y="855.75" font-size="11.8" text-anchor="middle" fill="#000" font-weight="bold" textLength="31" lengthAdjust="spacingAndGlyphs">HL-60</text>
<rect x="492" y="795.13" width="11" height="44.27" fill="#98c3f4"/>
<line x1="497.5" y1="796.47" x2="497.5" y2="793.34" stroke="#000" stroke-width="0.9"/>
<line x1="494.5" y1="793.34" x2="500.5" y2="793.34" stroke="#000" stroke-width="0.9"/>
<line x1="494.5" y1="796.47" x2="500.5" y2="796.47" stroke="#000" stroke-width="0.9"/>
<circle cx="495" cy="796.47" r="2.7" fill="#000"/>
<circle cx="498.5" cy="793.79" r="2.7" fill="#000"/>
<circle cx="501" cy="793.79" r="2.7" fill="#000"/>
<rect x="510.4" y="758.01" width="11.8" height="81.39" fill="#45dd22"/>
<line x1="516.3" y1="761.14" x2="516.3" y2="750.85" stroke="#000" stroke-width="0.9"/>
<line x1="513.3" y1="750.85" x2="519.3" y2="750.85" stroke="#000" stroke-width="0.9"/>
<line x1="513.3" y1="761.14" x2="519.3" y2="761.14" stroke="#000" stroke-width="0.9"/>
<rect x="513.96" y="747.62" width="4.68" height="4.68" fill="#000"/>
<rect x="511.46" y="756.56" width="4.68" height="4.68" fill="#000"/>
<rect x="516.96" y="756.56" width="4.68" height="4.68" fill="#000"/>
<rect x="529.5" y="816.59" width="11.8" height="22.81" fill="#f43a3e"/>
<line x1="535.4" y1="821.51" x2="535.4" y2="810.33" stroke="#000" stroke-width="0.9"/>
<line x1="532.4" y1="810.33" x2="538.4" y2="810.33" stroke="#000" stroke-width="0.9"/>
<line x1="532.4" y1="821.51" x2="538.4" y2="821.51" stroke="#000" stroke-width="0.9"/>
<polygon points="532.54,812.62 538.26,812.62 535.4,807.76" fill="#000"/>
<polygon points="529.54,822.46 535.26,822.46 532.4,817.6" fill="#000"/>
<polygon points="535.54,820.22 541.26,820.22 538.4,815.36" fill="#000"/>
<rect x="563.5" y="795.13" width="10.7" height="44.27" fill="#98c3f4"/>
<line x1="568.85" y1="802.28" x2="568.85" y2="789.31" stroke="#000" stroke-width="0.9"/>
<line x1="565.85" y1="789.31" x2="571.85" y2="789.31" stroke="#000" stroke-width="0.9"/>
<line x1="565.85" y1="802.28" x2="571.85" y2="802.28" stroke="#000" stroke-width="0.9"/>
<circle cx="568.85" cy="789.31" r="2.7" fill="#000"/>
<circle cx="568.85" cy="796.92" r="2.7" fill="#000"/>
<circle cx="568.85" cy="802.28" r="2.7" fill="#000"/>
<rect x="581.9" y="765.16" width="11.4" height="74.24" fill="#45dd22"/>
<line x1="587.6" y1="774.56" x2="587.6" y2="755.33" stroke="#000" stroke-width="0.9"/>
<line x1="584.6" y1="755.33" x2="590.6" y2="755.33" stroke="#000" stroke-width="0.9"/>
<line x1="584.6" y1="774.56" x2="590.6" y2="774.56" stroke="#000" stroke-width="0.9"/>
<rect x="585.26" y="752.99" width="4.68" height="4.68" fill="#000"/>
<rect x="585.26" y="763.27" width="4.68" height="4.68" fill="#000"/>
<rect x="585.26" y="771.32" width="4.68" height="4.68" fill="#000"/>
<rect x="601.7" y="814.36" width="11.1" height="25.04" fill="#f43a3e"/>
<line x1="607.25" y1="816.15" x2="607.25" y2="812.57" stroke="#000" stroke-width="0.9"/>
<line x1="604.25" y1="812.57" x2="610.25" y2="812.57" stroke="#000" stroke-width="0.9"/>
<line x1="604.25" y1="816.15" x2="610.25" y2="816.15" stroke="#000" stroke-width="0.9"/>
<polygon points="601.39,816.2 607.11,816.2 604.25,811.34" fill="#000"/>
<polygon points="604.39,813.96 610.11,813.96 607.25,809.1" fill="#000"/>
<polygon points="607.39,816.2 613.11,816.2 610.25,811.34" fill="#000"/>
<polyline points="497,779 497,733.6 533.9,733.6 533.9,777.3" stroke="#444" stroke-width="0.95" fill="none"/>
<text x="513.8" y="735.3" font-size="10" text-anchor="middle" fill="#000">**</text>
<polyline points="497,779 497,742.7 515.4,742.7 515.4,747" stroke="#444" stroke-width="0.95" fill="none"/>
<text x="506" y="744.6" font-size="10" text-anchor="middle" fill="#000">***</text>
<polyline points="568.5,785.7 568.5,736.3 606.1,736.3 606.1,780.6" stroke="#444" stroke-width="0.95" fill="none"/>
<text x="587.6" y="738.59" font-size="10.5" text-anchor="middle" fill="#000">*</text>
<polyline points="568.5,785.7 568.5,747 587.6,747 587.6,752.1" stroke="#444" stroke-width="0.95" fill="none"/>
<text x="578.2" y="749.19" font-size="10.5" text-anchor="middle" fill="#000">*</text>
<text x="5.5" y="878.36" font-size="13.5" text-anchor="start" fill="#000" font-weight="bold">J</text>
<text transform="translate(48.5,897.5) rotate(-42)" x="0" y="0" font-size="10" fill="#111" textLength="26" lengthAdjust="spacingAndGlyphs">shNC</text>
<text transform="translate(72,898.5) rotate(-42)" x="0" y="0" font-size="10" fill="#111" textLength="43.5" lengthAdjust="spacingAndGlyphs">shGIT2-L</text>
<text transform="translate(98.9,899) rotate(-42)" x="0" y="0" font-size="10" fill="#111" textLength="44.5" lengthAdjust="spacingAndGlyphs">shGIT2-S</text>
<text transform="translate(130.8,897.5) rotate(-42)" x="0" y="0" font-size="10" fill="#111" textLength="26" lengthAdjust="spacingAndGlyphs">shNC</text>
<text transform="translate(155.3,898.5) rotate(-42)" x="0" y="0" font-size="10" fill="#111" textLength="43.5" lengthAdjust="spacingAndGlyphs">shGIT2-L</text>
<text transform="translate(181.1,899) rotate(-42)" x="0" y="0" font-size="10" fill="#111" textLength="45" lengthAdjust="spacingAndGlyphs">shGIT2-S</text>
<text x="196.5" y="903.93" font-size="9.8" text-anchor="start" fill="#111" textLength="32" lengthAdjust="spacingAndGlyphs">(kDa)</text>
<defs><filter id="bl" x="-20%" y="-80%" width="140%" height="260%"><feGaussianBlur stdDeviation="0.9"/></filter><filter id="bl2" x="-20%" y="-50%" width="140%" height="200%"><feGaussianBlur stdDeviation="2"/></filter></defs>
<svg x="36.3" y="903.2" width="78.6" height="21.1" overflow="hidden">
<rect x="0" y="0" width="78.6" height="21.1" fill="#ececec"/>
<rect x="0.2" y="8.5" width="27.5" height="4" rx="4" ry="2" fill="#191919" filter="url(#bl)" transform="rotate(0 13.95 10.5)"/>
<rect x="25.7" y="7.55" width="27.5" height="5.5" rx="4" ry="2.75" fill="#070707" filter="url(#bl)" transform="rotate(0 39.45 10.3)"/>
<rect x="51.2" y="8.4" width="26.5" height="3.2" rx="4" ry="1.6" fill="#595959" filter="url(#bl)" transform="rotate(-3 64.45 10)"/>
</svg>
<rect x="36.3" y="903.2" width="78.6" height="21.1" fill="none" stroke="#111" stroke-width="1.1"/>
<svg x="118.6" y="903.2" width="77.7" height="21.1" overflow="hidden">
<rect x="0" y="0" width="77.7" height="21.1" fill="#dcdcdc"/>
<rect x="2.4" y="7.9" width="23" height="5" rx="4" ry="2.5" fill="#262626" filter="url(#bl)" transform="rotate(0 13.9 10.4)"/>
<rect x="25.4" y="7.05" width="25" height="5.5" rx="4" ry="2.75" fill="#1e1e1e" filter="url(#bl)" transform="rotate(0 37.9 9.8)"/>
<rect x="50.4" y="8.2" width="27" height="4" rx="4" ry="2" fill="#b2b2b2" filter="url(#bl)" transform="rotate(0 63.9 10.2)"/>
</svg>
<rect x="118.6" y="903.2" width="77.7" height="21.1" fill="none" stroke="#111" stroke-width="1.1"/>
<text x="33.6" y="917.47" font-size="10.2" text-anchor="end" fill="#111">FTL</text>
<text x="203.5" y="917.47" font-size="10.2" text-anchor="start" fill="#111">19</text>
<svg x="36.3" y="927.8" width="78.6" height="20.6" overflow="hidden">
<rect x="0" y="0" width="78.6" height="20.6" fill="#eeeeee"/>
<rect x="0.2" y="8.15" width="27.5" height="4.5" rx="4" ry="2.25" fill="#1e1e1e" filter="url(#bl)" transform="rotate(0 13.95 10.4)"/>
<rect x="25.7" y="9.2" width="27.5" height="3" rx="4" ry="1.5" fill="#bfbfbf" filter="url(#bl)" transform="rotate(0 39.45 10.7)"/>
<rect x="50.2" y="4.95" width="28.5" height="9.5" rx="4" ry="4.75" fill="#000000" filter="url(#bl)" transform="rotate(0 64.45 9.7)"/>
</svg>
<rect x="36.3" y="927.8" width="78.6" height="20.6" fill="none" stroke="#111" stroke-width="1.1"/>
<svg x="118.6" y="927.8" width="77.7" height="20.6" overflow="hidden">
<rect x="0" y="0" width="77.7" height="20.6" fill="#f2f2f2"/>
<rect x="0.4" y="7.8" width="25" height="3.8" rx="4" ry="1.9" fill="#323232" filter="url(#bl)" transform="rotate(0 12.9 9.7)"/>
<rect x="24.4" y="9.45" width="26" height="2.5" rx="4" ry="1.25" fill="#d8d8d8" filter="url(#bl)" transform="rotate(0 37.4 10.7)"/>
<rect x="50.4" y="4.7" width="27" height="9" rx="4" ry="4.5" fill="#000000" filter="url(#bl)" transform="rotate(0 63.9 9.2)"/>
</svg>
<rect x="118.6" y="927.8" width="77.7" height="20.6" fill="none" stroke="#111" stroke-width="1.1"/>
<text x="33.6" y="939.47" font-size="10.2" text-anchor="end" fill="#111">TFRC</text>
<text x="203.5" y="942.67" font-size="10.2" text-anchor="start" fill="#111">90</text>
<svg x="36.3" y="952.1" width="78.6" height="21.1" overflow="hidden">
<rect x="0" y="0" width="78.6" height="21.1" fill="#e4e4e4"/>
<rect x="0.2" y="8" width="27.5" height="3.2" rx="4" ry="1.6" fill="#3f3f3f" filter="url(#bl)" transform="rotate(0 13.95 9.6)"/>
<rect x="25.7" y="7.8" width="27.5" height="4" rx="4" ry="2" fill="#262626" filter="url(#bl)" transform="rotate(0 39.45 9.8)"/>
<rect x="51.2" y="8" width="26.5" height="2.8" rx="4" ry="1.4" fill="#666666" filter="url(#bl)" transform="rotate(-2 64.45 9.4)"/>
</svg>
<rect x="36.3" y="952.1" width="78.6" height="21.1" fill="none" stroke="#111" stroke-width="1.1"/>
<svg x="118.6" y="952.1" width="77.7" height="21.1" overflow="hidden">
<rect x="0" y="0" width="77.7" height="21.1" fill="#e8e8e8"/>
<rect x="0.4" y="8.7" width="25" height="3" rx="4" ry="1.5" fill="#383838" filter="url(#bl)" transform="rotate(0 12.9 10.2)"/>
<rect x="24.4" y="8.75" width="26" height="3.5" rx="4" ry="1.75" fill="#262626" filter="url(#bl)" transform="rotate(0 37.4 10.5)"/>
<rect x="50.4" y="8.65" width="27" height="2.5" rx="4" ry="1.25" fill="#727272" filter="url(#bl)" transform="rotate(-2 63.9 9.9)"/>
</svg>
<rect x="118.6" y="952.1" width="77.7" height="21.1" fill="none" stroke="#111" stroke-width="1.1"/>
<text x="33.6" y="963.77" font-size="10.2" text-anchor="end" fill="#111">GSS</text>
<text x="203.5" y="964.47" font-size="10.2" text-anchor="start" fill="#111">52</text>
<svg x="36.3" y="976.4" width="78.6" height="21.1" overflow="hidden">
<rect x="0" y="0" width="78.6" height="21.1" fill="#f0f0f0"/>
<rect x="0.2" y="13.15" width="27.5" height="4.5" rx="4" ry="2.25" fill="#141414" filter="url(#bl)" transform="rotate(0 13.95 15.4)"/>
<rect x="24.7" y="11.6" width="29.5" height="7" rx="4" ry="3.5" fill="#000000" filter="url(#bl)" transform="rotate(0 39.45 15.1)"/>
<rect x="53.2" y="13.4" width="23.5" height="3" rx="4" ry="1.5" fill="#7f7f7f" filter="url(#bl)" transform="rotate(-2 64.95 14.9)"/>
</svg>
<rect x="36.3" y="976.4" width="78.6" height="21.1" fill="none" stroke="#111" stroke-width="1.1"/>
<svg x="118.6" y="976.4" width="77.7" height="21.1" overflow="hidden">
<rect x="0" y="0" width="77.7" height="21.1" fill="#f4f4f4"/>
<rect x="0.4" y="13.35" width="25" height="3.5" rx="4" ry="1.75" fill="#595959" filter="url(#bl)" transform="rotate(0 12.9 15.1)"/>
<rect x="24.4" y="12.15" width="26" height="4.5" rx="4" ry="2.25" fill="#191919" filter="url(#bl)" transform="rotate(0 37.4 14.4)"/>
<rect x="53.4" y="13.35" width="21" height="2.5" rx="4" ry="1.25" fill="#e0e0e0" filter="url(#bl)" transform="rotate(0 63.9 14.6)"/>
</svg>
<rect x="118.6" y="976.4" width="77.7" height="21.1" fill="none" stroke="#111" stroke-width="1.1"/>
<text x="33.6" y="988.67" font-size="10.2" text-anchor="end" fill="#111">GCLM</text>
<text x="203.5" y="987.97" font-size="10.2" text-anchor="start" fill="#111">31</text>
<svg x="36.3" y="1000.1" width="78.6" height="21.8" overflow="hidden">
<rect x="0" y="0" width="78.6" height="21.8" fill="#d4d4d4"/>
<rect x="0.2" y="8.15" width="27.5" height="3.5" rx="4" ry="1.75" fill="#666666" filter="url(#bl)" transform="rotate(0 13.95 9.9)"/>
<rect x="25.7" y="7.2" width="27.5" height="5" rx="4" ry="2.5" fill="#191919" filter="url(#bl)" transform="rotate(0 39.45 9.7)"/>
<rect x="51.2" y="8.65" width="26.5" height="3.5" rx="4" ry="1.75" fill="#b2b2b2" filter="url(#bl)" transform="rotate(0 64.45 10.4)"/>
</svg>
<rect x="36.3" y="1000.1" width="78.6" height="21.8" fill="none" stroke="#111" stroke-width="1.1"/>
<svg x="118.6" y="1000.1" width="77.7" height="21.8" overflow="hidden">
<rect x="0" y="0" width="77.7" height="21.8" fill="#dadada"/>
<rect x="0.4" y="10.15" width="25" height="4.5" rx="4" ry="2.25" fill="#1e1e1e" filter="url(#bl)" transform="rotate(0 12.9 12.4)"/>
<rect x="24.4" y="9.9" width="26" height="5" rx="4" ry="2.5" fill="#191919" filter="url(#bl)" transform="rotate(0 37.4 12.4)"/>
<rect x="50.4" y="10.95" width="27" height="3.5" rx="4" ry="1.75" fill="#666666" filter="url(#bl)" transform="rotate(0 63.9 12.7)"/>
</svg>
<rect x="118.6" y="1000.1" width="77.7" height="21.8" fill="none" stroke="#111" stroke-width="1.1"/>
<text x="33.6" y="1013.17" font-size="10.2" text-anchor="end" fill="#111">GCLC</text>
<text x="203.5" y="1012.17" font-size="10.2" text-anchor="start" fill="#111">73</text>
<svg x="36.3" y="1025.3" width="78.6" height="21.8" overflow="hidden">
<rect x="0" y="0" width="78.6" height="21.8" fill="#ececec"/>
<rect x="0.2" y="6.75" width="27.5" height="5.5" rx="4" ry="2.75" fill="#070707" filter="url(#bl)" transform="rotate(0 13.95 9.5)"/>
<rect x="25.7" y="6.75" width="27.5" height="5.5" rx="4" ry="2.75" fill="#070707" filter="url(#bl)" transform="rotate(0 39.45 9.5)"/>
<rect x="52.2" y="7" width="25.5" height="5" rx="4" ry="2.5" fill="#0c0c0c" filter="url(#bl)" transform="rotate(0 64.95 9.5)"/>
</svg>
<rect x="36.3" y="1025.3" width="78.6" height="21.8" fill="none" stroke="#111" stroke-width="1.1"/>
<svg x="118.6" y="1025.3" width="77.7" height="21.8" overflow="hidden">
<rect x="0" y="0" width="77.7" height="21.8" fill="#ececec"/>
<rect x="0.4" y="6.75" width="25" height="5.5" rx="4" ry="2.75" fill="#070707" filter="url(#bl)" transform="rotate(0 12.9 9.5)"/>
<rect x="24.4" y="6.75" width="26" height="5.5" rx="4" ry="2.75" fill="#070707" filter="url(#bl)" transform="rotate(0 37.4 9.5)"/>
<rect x="50.4" y="6.75" width="27" height="5.5" rx="4" ry="2.75" fill="#070707" filter="url(#bl)" transform="rotate(0 63.9 9.5)"/>
</svg>
<rect x="118.6" y="1025.3" width="77.7" height="21.8" fill="none" stroke="#111" stroke-width="1.1"/>
<text x="33.6" y="1038.37" font-size="10.2" text-anchor="end" fill="#111">β-actin</text>
<text x="203.5" y="1038.37" font-size="10.2" text-anchor="start" fill="#111">42</text>
<text x="76.6" y="1060.55" font-size="11.8" text-anchor="middle" fill="#000" font-weight="bold" textLength="31.5" lengthAdjust="spacingAndGlyphs">THP-1</text>
<text x="152.8" y="1060.55" font-size="11.8" text-anchor="middle" fill="#000" font-weight="bold" textLength="31" lengthAdjust="spacingAndGlyphs">HL-60</text>
<text x="356" y="900.33" font-size="11.2" text-anchor="middle" fill="#000" font-weight="bold" textLength="32.9" lengthAdjust="spacingAndGlyphs">THP-1</text>
<rect x="290.5" y="909.3" width="11.7" height="4.4" fill="#98c3f4"/>
<text x="302.2" y="914.6" font-size="8.6" text-anchor="start" fill="#111" textLength="21.2" lengthAdjust="spacingAndGlyphs">shNC</text>
<rect x="331.8" y="909.3" width="10.7" height="4.4" fill="#45dd22"/>
<text x="342.5" y="914.6" font-size="8.6" text-anchor="start" fill="#111" textLength="35.3" lengthAdjust="spacingAndGlyphs">shGIT2-L</text>
<rect x="383.5" y="909.3" width="11.1" height="4.4" fill="#f43a3e"/>
<text x="395.2" y="914.6" font-size="8.6" text-anchor="start" fill="#111" textLength="36.3" lengthAdjust="spacingAndGlyphs">shGIT2-S</text>
<text transform="translate(248.77,975.9) rotate(-90)" x="0" y="0" font-size="10.2" text-anchor="middle" fill="#222" textLength="91" lengthAdjust="spacingAndGlyphs">Relative protein level</text>
<line x1="272" y1="1030.2" x2="272" y2="918.2" stroke="#222" stroke-width="1"/>
<line x1="266.5" y1="1029.7" x2="272" y2="1029.7" stroke="#222" stroke-width="1"/>
<text x="265.6" y="1032.65" font-size="8.2" text-anchor="end" fill="#222" textLength="11.06" lengthAdjust="spacingAndGlyphs">0.0</text>
<line x1="266.5" y1="992.53" x2="272" y2="992.53" stroke="#222" stroke-width="1"/>
<text x="265.6" y="995.49" font-size="8.2" text-anchor="end" fill="#222" textLength="11.06" lengthAdjust="spacingAndGlyphs">0.5</text>
<line x1="266.5" y1="955.37" x2="272" y2="955.37" stroke="#222" stroke-width="1"/>
<text x="265.6" y="958.32" font-size="8.2" text-anchor="end" fill="#222" textLength="11.06" lengthAdjust="spacingAndGlyphs">1.0</text>
<line x1="266.5" y1="918.2" x2="272" y2="918.2" stroke="#222" stroke-width="1"/>
<text x="265.6" y="921.15" font-size="8.2" text-anchor="end" fill="#222" textLength="11.06" lengthAdjust="spacingAndGlyphs">1.5</text>
<line x1="271.5" y1="1029.7" x2="453" y2="1029.7" stroke="#222" stroke-width="1"/>
<line x1="289.2" y1="1029.7" x2="289.2" y2="1032.2" stroke="#222" stroke-width="1"/>
<line x1="326" y1="1029.7" x2="326" y2="1032.2" stroke="#222" stroke-width="1"/>
<line x1="362.8" y1="1029.7" x2="362.8" y2="1032.2" stroke="#222" stroke-width="1"/>
<line x1="399.6" y1="1029.7" x2="399.6" y2="1032.2" stroke="#222" stroke-width="1"/>
<line x1="436.4" y1="1029.7" x2="436.4" y2="1032.2" stroke="#222" stroke-width="1"/>
<text x="290.5" y="1046" font-size="10" text-anchor="middle" fill="#111">FTL</text>
<text x="327.4" y="1046" font-size="10" text-anchor="middle" fill="#111">TFRC</text>
<text x="362.7" y="1046" font-size="10" text-anchor="middle" fill="#111">GSS</text>
<text x="400.3" y="1046" font-size="10" text-anchor="middle" fill="#111">GCLM</text>
<text x="436.6" y="1046" font-size="10" text-anchor="middle" fill="#111">GCLC</text>
<rect x="276.4" y="996.25" width="5.6" height="33.45" fill="#98c3f4"/>
<line x1="279.2" y1="999.26" x2="279.2" y2="993.24" stroke="#000" stroke-width="0.8"/>
<line x1="277.4" y1="993.24" x2="281" y2="993.24" stroke="#000" stroke-width="0.8"/>
<line x1="277.4" y1="999.26" x2="281" y2="999.26" stroke="#000" stroke-width="0.8"/>
<circle cx="278.2" cy="998.06" r="2.1" fill="#000"/>
<circle cx="280.4" cy="993.54" r="2.1" fill="#000"/>
<circle cx="280.8" cy="996.25" r="2.1" fill="#000"/>
<rect x="286.5" y="980.64" width="5.6" height="49.06" fill="#45dd22"/>
<line x1="289.3" y1="985.06" x2="289.3" y2="976.22" stroke="#000" stroke-width="0.8"/>
<line x1="287.5" y1="976.22" x2="291.1" y2="976.22" stroke="#000" stroke-width="0.8"/>
<line x1="287.5" y1="985.06" x2="291.1" y2="985.06" stroke="#000" stroke-width="0.8"/>
<rect x="286.41" y="981.4" width="3.78" height="3.78" fill="#000"/>
<rect x="288.61" y="974.78" width="3.78" height="3.78" fill="#000"/>
<rect x="289.01" y="978.75" width="3.78" height="3.78" fill="#000"/>
<rect x="296.6" y="1005.91" width="5.6" height="23.79" fill="#f43a3e"/>
<line x1="299.4" y1="1008.05" x2="299.4" y2="1003.77" stroke="#000" stroke-width="0.8"/>
<line x1="297.6" y1="1003.77" x2="301.2" y2="1003.77" stroke="#000" stroke-width="0.8"/>
<line x1="297.6" y1="1008.05" x2="301.2" y2="1008.05" stroke="#000" stroke-width="0.8"/>
<polygon points="296.09,1009.05 300.71,1009.05 298.4,1005.12" fill="#000"/>
<polygon points="298.29,1005.83 302.91,1005.83 300.6,1001.91" fill="#000"/>
<polygon points="298.69,1007.76 303.31,1007.76 301,1003.83" fill="#000"/>
<rect x="313.2" y="973.21" width="5.6" height="56.49" fill="#98c3f4"/>
<line x1="316" y1="978.29" x2="316" y2="968.12" stroke="#000" stroke-width="0.8"/>
<line x1="314.2" y1="968.12" x2="317.8" y2="968.12" stroke="#000" stroke-width="0.8"/>
<line x1="314.2" y1="978.29" x2="317.8" y2="978.29" stroke="#000" stroke-width="0.8"/>
<circle cx="315" cy="976.26" r="2.1" fill="#000"/>
<circle cx="317.2" cy="968.63" r="2.1" fill="#000"/>
<circle cx="317.6" cy="973.21" r="2.1" fill="#000"/>
<rect x="323.3" y="1004.43" width="5.6" height="25.27" fill="#45dd22"/>
<line x1="326.1" y1="1006.7" x2="326.1" y2="1002.15" stroke="#000" stroke-width="0.8"/>
<line x1="324.3" y1="1002.15" x2="327.9" y2="1002.15" stroke="#000" stroke-width="0.8"/>
<line x1="324.3" y1="1006.7" x2="327.9" y2="1006.7" stroke="#000" stroke-width="0.8"/>
<rect x="323.21" y="1003.9" width="3.78" height="3.78" fill="#000"/>
<rect x="325.41" y="1000.49" width="3.78" height="3.78" fill="#000"/>
<rect x="325.81" y="1002.54" width="3.78" height="3.78" fill="#000"/>
<rect x="333.4" y="953.14" width="5.6" height="76.56" fill="#f43a3e"/>
<line x1="336.2" y1="960.03" x2="336.2" y2="946.25" stroke="#000" stroke-width="0.8"/>
<line x1="334.4" y1="946.25" x2="338" y2="946.25" stroke="#000" stroke-width="0.8"/>
<line x1="334.4" y1="960.03" x2="338" y2="960.03" stroke="#000" stroke-width="0.8"/>
<polygon points="332.89,959.12 337.51,959.12 335.2,955.19" fill="#000"/>
<polygon points="335.09,948.78 339.71,948.78 337.4,944.86" fill="#000"/>
<polygon points="335.49,954.98 340.11,954.98 337.8,951.06" fill="#000"/>
<rect x="350" y="998.48" width="5.6" height="31.22" fill="#98c3f4"/>
<line x1="352.8" y1="1001.29" x2="352.8" y2="995.67" stroke="#000" stroke-width="0.8"/>
<line x1="351" y1="995.67" x2="354.6" y2="995.67" stroke="#000" stroke-width="0.8"/>
<line x1="351" y1="1001.29" x2="354.6" y2="1001.29" stroke="#000" stroke-width="0.8"/>
<circle cx="351.8" cy="1000.17" r="2.1" fill="#000"/>
<circle cx="354" cy="995.95" r="2.1" fill="#000"/>
<circle cx="354.4" cy="998.48" r="2.1" fill="#000"/>
<rect x="360.1" y="987.33" width="5.6" height="42.37" fill="#45dd22"/>
<line x1="362.9" y1="991.14" x2="362.9" y2="983.52" stroke="#000" stroke-width="0.8"/>
<line x1="361.1" y1="983.52" x2="364.7" y2="983.52" stroke="#000" stroke-width="0.8"/>
<line x1="361.1" y1="991.14" x2="364.7" y2="991.14" stroke="#000" stroke-width="0.8"/>
<rect x="360.01" y="987.73" width="3.78" height="3.78" fill="#000"/>
<rect x="362.21" y="982.01" width="3.78" height="3.78" fill="#000"/>
<rect x="362.61" y="985.44" width="3.78" height="3.78" fill="#000"/>
<rect x="370.2" y="1009.63" width="5.6" height="20.07" fill="#f43a3e"/>
<line x1="373" y1="1011.44" x2="373" y2="1007.82" stroke="#000" stroke-width="0.8"/>
<line x1="371.2" y1="1007.82" x2="374.8" y2="1007.82" stroke="#000" stroke-width="0.8"/>
<line x1="371.2" y1="1011.44" x2="374.8" y2="1011.44" stroke="#000" stroke-width="0.8"/>
<polygon points="369.69,1012.56 374.31,1012.56 372,1008.63" fill="#000"/>
<polygon points="371.89,1009.85 376.51,1009.85 374.2,1005.93" fill="#000"/>
<polygon points="372.29,1011.48 376.91,1011.48 374.6,1007.55" fill="#000"/>
<rect x="386.8" y="990.3" width="5.6" height="39.4" fill="#98c3f4"/>
<line x1="389.6" y1="993.85" x2="389.6" y2="986.76" stroke="#000" stroke-width="0.8"/>
<line x1="387.8" y1="986.76" x2="391.4" y2="986.76" stroke="#000" stroke-width="0.8"/>
<line x1="387.8" y1="993.85" x2="391.4" y2="993.85" stroke="#000" stroke-width="0.8"/>
<circle cx="388.6" cy="992.43" r="2.1" fill="#000"/>
<circle cx="390.8" cy="987.11" r="2.1" fill="#000"/>
<circle cx="391.2" cy="990.3" r="2.1" fill="#000"/>
<rect x="396.9" y="970.23" width="5.6" height="59.47" fill="#45dd22"/>
<line x1="399.7" y1="975.59" x2="399.7" y2="964.88" stroke="#000" stroke-width="0.8"/>
<line x1="397.9" y1="964.88" x2="401.5" y2="964.88" stroke="#000" stroke-width="0.8"/>
<line x1="397.9" y1="975.59" x2="401.5" y2="975.59" stroke="#000" stroke-width="0.8"/>
<rect x="396.81" y="971.55" width="3.78" height="3.78" fill="#000"/>
<rect x="399.01" y="963.53" width="3.78" height="3.78" fill="#000"/>
<rect x="399.41" y="968.34" width="3.78" height="3.78" fill="#000"/>
<rect x="407" y="1006.66" width="5.6" height="23.04" fill="#f43a3e"/>
<line x1="409.8" y1="1008.73" x2="409.8" y2="1004.58" stroke="#000" stroke-width="0.8"/>
<line x1="408" y1="1004.58" x2="411.6" y2="1004.58" stroke="#000" stroke-width="0.8"/>
<line x1="408" y1="1008.73" x2="411.6" y2="1008.73" stroke="#000" stroke-width="0.8"/>
<polygon points="406.49,1009.75 411.11,1009.75 408.8,1005.82" fill="#000"/>
<polygon points="408.69,1006.64 413.31,1006.64 411,1002.71" fill="#000"/>
<polygon points="409.09,1008.5 413.71,1008.5 411.4,1004.58" fill="#000"/>
<rect x="423.6" y="1013.35" width="5.6" height="16.35" fill="#98c3f4"/>
<line x1="426.4" y1="1014.83" x2="426.4" y2="1011.86" stroke="#000" stroke-width="0.8"/>
<line x1="424.6" y1="1011.86" x2="428.2" y2="1011.86" stroke="#000" stroke-width="0.8"/>
<line x1="424.6" y1="1014.83" x2="428.2" y2="1014.83" stroke="#000" stroke-width="0.8"/>
<circle cx="425.4" cy="1014.24" r="2.1" fill="#000"/>
<circle cx="427.6" cy="1012.01" r="2.1" fill="#000"/>
<circle cx="428" cy="1013.35" r="2.1" fill="#000"/>
<rect x="433.7" y="1002.2" width="5.6" height="27.5" fill="#45dd22"/>
<line x1="436.5" y1="1004.67" x2="436.5" y2="999.72" stroke="#000" stroke-width="0.8"/>
<line x1="434.7" y1="999.72" x2="438.3" y2="999.72" stroke="#000" stroke-width="0.8"/>
<line x1="434.7" y1="1004.67" x2="438.3" y2="1004.67" stroke="#000" stroke-width="0.8"/>
<rect x="433.61" y="1001.79" width="3.78" height="3.78" fill="#000"/>
<rect x="435.81" y="998.08" width="3.78" height="3.78" fill="#000"/>
<rect x="436.21" y="1000.31" width="3.78" height="3.78" fill="#000"/>
<rect x="443.8" y="1022.27" width="5.6" height="7.43" fill="#f43a3e"/>
<line x1="446.6" y1="1023.75" x2="446.6" y2="1020.78" stroke="#000" stroke-width="0.8"/>
<line x1="444.8" y1="1020.78" x2="448.4" y2="1020.78" stroke="#000" stroke-width="0.8"/>
<line x1="444.8" y1="1023.75" x2="448.4" y2="1023.75" stroke="#000" stroke-width="0.8"/>
<polygon points="443.29,1025.01 447.91,1025.01 445.6,1021.08" fill="#000"/>
<polygon points="445.49,1022.78 450.11,1022.78 447.8,1018.85" fill="#000"/>
<polygon points="445.89,1024.11 450.51,1024.11 448.2,1020.19" fill="#000"/>
<polyline points="278,984.3 278,959.1 298.2,959.1 298.2,984.3" stroke="#444" stroke-width="0.95" fill="none"/>
<text x="288.1" y="961.5" font-size="10" text-anchor="middle" fill="#000">*</text>
<polyline points="278,984.3 278,968.5 288.8,968.5 288.8,974.2" stroke="#444" stroke-width="0.95" fill="none"/>
<text x="284.8" y="970.17" font-size="8.2" text-anchor="middle" fill="#000">**</text>
<polyline points="315.7,964.2 315.7,940 335.8,940 335.8,944" stroke="#444" stroke-width="0.95" fill="none"/>
<text x="326.4" y="941.87" font-size="8.2" text-anchor="middle" fill="#000">**</text>
<polyline points="315.7,964.2 315.7,959.1 325.7,959.1 325.7,972.6" stroke="#444" stroke-width="0.95" fill="none"/>
<text x="321.7" y="960.47" font-size="8.2" text-anchor="middle" fill="#000">***</text>
<polyline points="353.3,991 353.3,966.9 372.7,966.9 372.7,1002.8" stroke="#444" stroke-width="0.95" fill="none"/>
<text x="362.7" y="969.2" font-size="10" text-anchor="middle" fill="#000">*</text>
<polyline points="353.3,991 353.3,974.2 362.7,974.2 362.7,977.6" stroke="#444" stroke-width="0.95" fill="none"/>
<text x="358.6" y="976.6" font-size="10" text-anchor="middle" fill="#000">*</text>
<polyline points="389.5,984.3 389.5,950.7 409,950.7 409,1001.1" stroke="#444" stroke-width="0.95" fill="none"/>
<text x="399.6" y="952.07" font-size="8.2" text-anchor="middle" fill="#000">**</text>
<polyline points="389.5,984.3 389.5,959.1 399.6,959.1 399.6,962.5" stroke="#444" stroke-width="0.95" fill="none"/>
<text x="394.6" y="960.47" font-size="8.2" text-anchor="middle" fill="#000">***</text>
<polyline points="426.5,1004.5 426.5,975.9 446,975.9 446,1011.2" stroke="#444" stroke-width="0.95" fill="none"/>
<text x="435.9" y="978.3" font-size="10" text-anchor="middle" fill="#000">*</text>
<polyline points="426.5,1004.5 426.5,986 435.9,986 435.9,991" stroke="#444" stroke-width="0.95" fill="none"/>
<text x="431.5" y="987.47" font-size="8.2" text-anchor="middle" fill="#000">**</text>
<text x="577.6" y="900.33" font-size="11.2" text-anchor="middle" fill="#000" font-weight="bold" textLength="32" lengthAdjust="spacingAndGlyphs">HL-60</text>
<rect x="512.8" y="909.3" width="11" height="4.4" fill="#98c3f4"/>
<text x="524.5" y="914.6" font-size="8.6" text-anchor="start" fill="#111" textLength="21.2" lengthAdjust="spacingAndGlyphs">shNC</text>
<rect x="553" y="909.3" width="11.1" height="4.4" fill="#45dd22"/>
<text x="564.8" y="914.6" font-size="8.6" text-anchor="start" fill="#111" textLength="35.3" lengthAdjust="spacingAndGlyphs">shGIT2-L</text>
<rect x="606.1" y="909.3" width="10.8" height="4.4" fill="#f43a3e"/>
<text x="617.5" y="914.6" font-size="8.6" text-anchor="start" fill="#111" textLength="36.3" lengthAdjust="spacingAndGlyphs">shGIT2-S</text>
<text transform="translate(475.47,975.9) rotate(-90)" x="0" y="0" font-size="10.2" text-anchor="middle" fill="#222" textLength="91" lengthAdjust="spacingAndGlyphs">Relative protein level</text>
<line x1="498.7" y1="1030.2" x2="498.7" y2="918.2" stroke="#222" stroke-width="1"/>
<line x1="493.2" y1="1029.7" x2="498.7" y2="1029.7" stroke="#222" stroke-width="1"/>
<text x="492.3" y="1032.65" font-size="8.2" text-anchor="end" fill="#222" textLength="11.06" lengthAdjust="spacingAndGlyphs">0.0</text>
<line x1="493.2" y1="1011.12" x2="498.7" y2="1011.12" stroke="#222" stroke-width="1"/>
<text x="492.3" y="1014.07" font-size="8.2" text-anchor="end" fill="#222" textLength="11.06" lengthAdjust="spacingAndGlyphs">0.2</text>
<line x1="493.2" y1="992.53" x2="498.7" y2="992.53" stroke="#222" stroke-width="1"/>
<text x="492.3" y="995.49" font-size="8.2" text-anchor="end" fill="#222" textLength="11.06" lengthAdjust="spacingAndGlyphs">0.4</text>
<line x1="493.2" y1="973.95" x2="498.7" y2="973.95" stroke="#222" stroke-width="1"/>
<text x="492.3" y="976.9" font-size="8.2" text-anchor="end" fill="#222" textLength="11.06" lengthAdjust="spacingAndGlyphs">0.6</text>
<line x1="493.2" y1="955.37" x2="498.7" y2="955.37" stroke="#222" stroke-width="1"/>
<text x="492.3" y="958.32" font-size="8.2" text-anchor="end" fill="#222" textLength="11.06" lengthAdjust="spacingAndGlyphs">0.8</text>
<line x1="493.2" y1="936.78" x2="498.7" y2="936.78" stroke="#222" stroke-width="1"/>
<text x="492.3" y="939.74" font-size="8.2" text-anchor="end" fill="#222" textLength="11.06" lengthAdjust="spacingAndGlyphs">1.0</text>
<line x1="493.2" y1="918.2" x2="498.7" y2="918.2" stroke="#222" stroke-width="1"/>
<text x="492.3" y="921.15" font-size="8.2" text-anchor="end" fill="#222" textLength="11.06" lengthAdjust="spacingAndGlyphs">1.2</text>
<line x1="498.2" y1="1029.7" x2="680" y2="1029.7" stroke="#222" stroke-width="1"/>
<line x1="515.8" y1="1029.7" x2="515.8" y2="1032.2" stroke="#222" stroke-width="1"/>
<line x1="552.6" y1="1029.7" x2="552.6" y2="1032.2" stroke="#222" stroke-width="1"/>
<line x1="589.4" y1="1029.7" x2="589.4" y2="1032.2" stroke="#222" stroke-width="1"/>
<line x1="626.2" y1="1029.7" x2="626.2" y2="1032.2" stroke="#222" stroke-width="1"/>
<line x1="663" y1="1029.7" x2="663" y2="1032.2" stroke="#222" stroke-width="1"/>
<text x="518.1" y="1046" font-size="10" text-anchor="middle" fill="#111">FTL</text>
<text x="555.1" y="1046" font-size="10" text-anchor="middle" fill="#111">TFRC</text>
<text x="591" y="1046" font-size="10" text-anchor="middle" fill="#111">GSS</text>
<text x="627.9" y="1046" font-size="10" text-anchor="middle" fill="#111">GCLM</text>
<text x="664.9" y="1046" font-size="10" text-anchor="middle" fill="#111">GCLC</text>
<rect x="503" y="1002.75" width="5.6" height="26.95" fill="#98c3f4"/>
<line x1="505.8" y1="1005.18" x2="505.8" y2="1000.33" stroke="#000" stroke-width="0.8"/>
<line x1="504" y1="1000.33" x2="507.6" y2="1000.33" stroke="#000" stroke-width="0.8"/>
<line x1="504" y1="1005.18" x2="507.6" y2="1005.18" stroke="#000" stroke-width="0.8"/>
<circle cx="504.8" cy="1004.21" r="2.1" fill="#000"/>
<circle cx="507" cy="1000.57" r="2.1" fill="#000"/>
<circle cx="507.4" cy="1002.75" r="2.1" fill="#000"/>
<rect x="513.1" y="987.89" width="5.6" height="41.81" fill="#45dd22"/>
<line x1="515.9" y1="991.65" x2="515.9" y2="984.12" stroke="#000" stroke-width="0.8"/>
<line x1="514.1" y1="984.12" x2="517.7" y2="984.12" stroke="#000" stroke-width="0.8"/>
<line x1="514.1" y1="991.65" x2="517.7" y2="991.65" stroke="#000" stroke-width="0.8"/>
<rect x="513.01" y="988.26" width="3.78" height="3.78" fill="#000"/>
<rect x="515.21" y="982.61" width="3.78" height="3.78" fill="#000"/>
<rect x="515.61" y="986" width="3.78" height="3.78" fill="#000"/>
<rect x="523.2" y="1011.12" width="5.6" height="18.58" fill="#f43a3e"/>
<line x1="526" y1="1012.98" x2="526" y2="1009.26" stroke="#000" stroke-width="0.8"/>
<line x1="524.2" y1="1009.26" x2="527.8" y2="1009.26" stroke="#000" stroke-width="0.8"/>
<line x1="524.2" y1="1012.98" x2="527.8" y2="1012.98" stroke="#000" stroke-width="0.8"/>
<polygon points="522.69,1014.08 527.31,1014.08 525,1010.15" fill="#000"/>
<polygon points="524.89,1011.29 529.51,1011.29 527.2,1007.37" fill="#000"/>
<polygon points="525.29,1012.96 529.91,1012.96 527.6,1009.04" fill="#000"/>
<rect x="539.8" y="986.03" width="5.6" height="43.67" fill="#98c3f4"/>
<line x1="542.6" y1="989.96" x2="542.6" y2="982.1" stroke="#000" stroke-width="0.8"/>
<line x1="540.8" y1="982.1" x2="544.4" y2="982.1" stroke="#000" stroke-width="0.8"/>
<line x1="540.8" y1="989.96" x2="544.4" y2="989.96" stroke="#000" stroke-width="0.8"/>
<circle cx="541.6" cy="988.39" r="2.1" fill="#000"/>
<circle cx="543.8" cy="982.49" r="2.1" fill="#000"/>
<circle cx="544.2" cy="986.03" r="2.1" fill="#000"/>
<rect x="549.9" y="1012.98" width="5.6" height="16.73" fill="#45dd22"/>
<line x1="552.7" y1="1014.83" x2="552.7" y2="1011.12" stroke="#000" stroke-width="0.8"/>
<line x1="550.9" y1="1011.12" x2="554.5" y2="1011.12" stroke="#000" stroke-width="0.8"/>
<line x1="550.9" y1="1014.83" x2="554.5" y2="1014.83" stroke="#000" stroke-width="0.8"/>
<rect x="549.81" y="1012.2" width="3.78" height="3.78" fill="#000"/>
<rect x="552.01" y="1009.41" width="3.78" height="3.78" fill="#000"/>
<rect x="552.41" y="1011.09" width="3.78" height="3.78" fill="#000"/>
<rect x="560" y="949.79" width="5.6" height="79.91" fill="#f43a3e"/>
<line x1="562.8" y1="956.98" x2="562.8" y2="942.6" stroke="#000" stroke-width="0.8"/>
<line x1="561" y1="942.6" x2="564.6" y2="942.6" stroke="#000" stroke-width="0.8"/>
<line x1="561" y1="956.98" x2="564.6" y2="956.98" stroke="#000" stroke-width="0.8"/>
<polygon points="559.49,955.95 564.11,955.95 561.8,952.03" fill="#000"/>
<polygon points="561.69,945.17 566.31,945.17 564,941.24" fill="#000"/>
<polygon points="562.09,951.64 566.71,951.64 564.4,947.71" fill="#000"/>
<rect x="576.6" y="998.11" width="5.6" height="31.59" fill="#98c3f4"/>
<line x1="579.4" y1="1000.95" x2="579.4" y2="995.27" stroke="#000" stroke-width="0.8"/>
<line x1="577.6" y1="995.27" x2="581.2" y2="995.27" stroke="#000" stroke-width="0.8"/>
<line x1="577.6" y1="1000.95" x2="581.2" y2="1000.95" stroke="#000" stroke-width="0.8"/>
<circle cx="578.4" cy="999.81" r="2.1" fill="#000"/>
<circle cx="580.6" cy="995.55" r="2.1" fill="#000"/>
<circle cx="581" cy="998.11" r="2.1" fill="#000"/>
<rect x="586.7" y="985.1" width="5.6" height="44.6" fill="#45dd22"/>
<line x1="589.5" y1="989.11" x2="589.5" y2="981.09" stroke="#000" stroke-width="0.8"/>
<line x1="587.7" y1="981.09" x2="591.3" y2="981.09" stroke="#000" stroke-width="0.8"/>
<line x1="587.7" y1="989.11" x2="591.3" y2="989.11" stroke="#000" stroke-width="0.8"/>
<rect x="586.61" y="985.62" width="3.78" height="3.78" fill="#000"/>
<rect x="588.81" y="979.6" width="3.78" height="3.78" fill="#000"/>
<rect x="589.21" y="983.21" width="3.78" height="3.78" fill="#000"/>
<rect x="596.8" y="1007.4" width="5.6" height="22.3" fill="#f43a3e"/>
<line x1="599.6" y1="1009.41" x2="599.6" y2="1005.39" stroke="#000" stroke-width="0.8"/>
<line x1="597.8" y1="1005.39" x2="601.4" y2="1005.39" stroke="#000" stroke-width="0.8"/>
<line x1="597.8" y1="1009.41" x2="601.4" y2="1009.41" stroke="#000" stroke-width="0.8"/>
<polygon points="596.29,1010.45 600.91,1010.45 598.6,1006.53" fill="#000"/>
<polygon points="598.49,1007.44 603.11,1007.44 600.8,1003.51" fill="#000"/>
<polygon points="598.89,1009.25 603.51,1009.25 601.2,1005.32" fill="#000"/>
<rect x="613.4" y="995.32" width="5.6" height="34.38" fill="#98c3f4"/>
<line x1="616.2" y1="998.41" x2="616.2" y2="992.23" stroke="#000" stroke-width="0.8"/>
<line x1="614.4" y1="992.23" x2="618" y2="992.23" stroke="#000" stroke-width="0.8"/>
<line x1="614.4" y1="998.41" x2="618" y2="998.41" stroke="#000" stroke-width="0.8"/>
<circle cx="615.2" cy="997.18" r="2.1" fill="#000"/>
<circle cx="617.4" cy="992.54" r="2.1" fill="#000"/>
<circle cx="617.8" cy="995.32" r="2.1" fill="#000"/>
<rect x="623.5" y="983.24" width="5.6" height="46.46" fill="#45dd22"/>
<line x1="626.3" y1="987.42" x2="626.3" y2="979.06" stroke="#000" stroke-width="0.8"/>
<line x1="624.5" y1="979.06" x2="628.1" y2="979.06" stroke="#000" stroke-width="0.8"/>
<line x1="624.5" y1="987.42" x2="628.1" y2="987.42" stroke="#000" stroke-width="0.8"/>
<rect x="623.41" y="983.86" width="3.78" height="3.78" fill="#000"/>
<rect x="625.61" y="977.59" width="3.78" height="3.78" fill="#000"/>
<rect x="626.01" y="981.35" width="3.78" height="3.78" fill="#000"/>
<rect x="633.6" y="1015.76" width="5.6" height="13.94" fill="#f43a3e"/>
<line x1="636.4" y1="1017.62" x2="636.4" y2="1013.9" stroke="#000" stroke-width="0.8"/>
<line x1="634.6" y1="1013.9" x2="638.2" y2="1013.9" stroke="#000" stroke-width="0.8"/>
<line x1="634.6" y1="1017.62" x2="638.2" y2="1017.62" stroke="#000" stroke-width="0.8"/>
<polygon points="633.09,1018.73 637.71,1018.73 635.4,1014.8" fill="#000"/>
<polygon points="635.29,1015.94 639.91,1015.94 637.6,1012.01" fill="#000"/>
<polygon points="635.69,1017.61 640.31,1017.61 638,1013.68" fill="#000"/>
<rect x="650.2" y="989.75" width="5.6" height="39.95" fill="#98c3f4"/>
<line x1="653" y1="993.34" x2="653" y2="986.15" stroke="#000" stroke-width="0.8"/>
<line x1="651.2" y1="986.15" x2="654.8" y2="986.15" stroke="#000" stroke-width="0.8"/>
<line x1="651.2" y1="993.34" x2="654.8" y2="993.34" stroke="#000" stroke-width="0.8"/>
<circle cx="652" cy="991.9" r="2.1" fill="#000"/>
<circle cx="654.2" cy="986.51" r="2.1" fill="#000"/>
<circle cx="654.6" cy="989.75" r="2.1" fill="#000"/>
<rect x="660.3" y="969.3" width="5.6" height="60.4" fill="#45dd22"/>
<line x1="663.1" y1="974.74" x2="663.1" y2="963.87" stroke="#000" stroke-width="0.8"/>
<line x1="661.3" y1="963.87" x2="664.9" y2="963.87" stroke="#000" stroke-width="0.8"/>
<line x1="661.3" y1="974.74" x2="664.9" y2="974.74" stroke="#000" stroke-width="0.8"/>
<rect x="660.21" y="970.68" width="3.78" height="3.78" fill="#000"/>
<rect x="662.41" y="962.52" width="3.78" height="3.78" fill="#000"/>
<rect x="662.81" y="967.41" width="3.78" height="3.78" fill="#000"/>
<rect x="670.4" y="1007.4" width="5.6" height="22.3" fill="#f43a3e"/>
<line x1="673.2" y1="1009.41" x2="673.2" y2="1005.39" stroke="#000" stroke-width="0.8"/>
<line x1="671.4" y1="1005.39" x2="675" y2="1005.39" stroke="#000" stroke-width="0.8"/>
<line x1="671.4" y1="1009.41" x2="675" y2="1009.41" stroke="#000" stroke-width="0.8"/>
<polygon points="669.89,1010.45 674.51,1010.45 672.2,1006.53" fill="#000"/>
<polygon points="672.09,1007.44 676.71,1007.44 674.4,1003.51" fill="#000"/>
<polygon points="672.49,1009.25 677.11,1009.25 674.8,1005.32" fill="#000"/>
<polyline points="504.7,997.7 504.7,967.5 525.5,967.5 525.5,1006.1" stroke="#444" stroke-width="0.95" fill="none"/>
<text x="514.8" y="969.9" font-size="10" text-anchor="middle" fill="#000">*</text>
<polyline points="504.7,997.7 504.7,976.9 515.4,976.9 515.4,982.6" stroke="#444" stroke-width="0.95" fill="none"/>
<text x="510.4" y="979.17" font-size="8.2" text-anchor="middle" fill="#000">**</text>
<polyline points="543,953.4 543,935.6 563.1,935.6 563.1,941.3" stroke="#444" stroke-width="0.95" fill="none"/>
<text x="553" y="936.97" font-size="8.2" text-anchor="middle" fill="#000">***</text>
<polyline points="543,977.6 543,972.6 553,972.6 553,1006.1" stroke="#444" stroke-width="0.95" fill="none"/>
<text x="548" y="973.87" font-size="8.2" text-anchor="middle" fill="#000">***</text>
<polyline points="579.2,991 579.2,967.5 600.1,967.5 600.1,1002.8" stroke="#444" stroke-width="0.95" fill="none"/>
<text x="589.3" y="969.9" font-size="10" text-anchor="middle" fill="#000">*</text>
<polyline points="579.2,991 579.2,975.9 590,975.9 590,981" stroke="#444" stroke-width="0.95" fill="none"/>
<text x="585" y="978.3" font-size="10" text-anchor="middle" fill="#000">*</text>
<polyline points="615.5,987.7 615.5,959.1 636.3,959.1 636.3,1007.8" stroke="#444" stroke-width="0.95" fill="none"/>
<text x="626.3" y="960.47" font-size="8.2" text-anchor="middle" fill="#000">**</text>
<polyline points="615.5,987.7 615.5,969.2 625.6,969.2 625.6,972.6" stroke="#444" stroke-width="0.95" fill="none"/>
<text x="620.2" y="971.5" font-size="10" text-anchor="middle" fill="#000">*</text>
<polyline points="652.4,984.3 652.4,950.1 672.6,950.1 672.6,977.6" stroke="#444" stroke-width="0.95" fill="none"/>
<text x="663.2" y="951.87" font-size="8.2" text-anchor="middle" fill="#000">**</text>
<polyline points="652.4,984.3 652.4,960.1 662.5,960.1 662.5,964.2" stroke="#444" stroke-width="0.95" fill="none"/>
<text x="658.2" y="961.97" font-size="8.2" text-anchor="middle" fill="#000">**</text>
<text x="5.5" y="1087.36" font-size="13.5" text-anchor="start" fill="#000" font-weight="bold">K</text>
<text x="94.7" y="1102.53" font-size="11.2" text-anchor="middle" fill="#000" font-weight="bold" textLength="31.9" lengthAdjust="spacingAndGlyphs">THP-1</text>
<text transform="translate(42.1,1153) rotate(-90)" font-size="9.8" text-anchor="middle" fill="#222" textLength="92" lengthAdjust="spacingAndGlyphs">Tumor volume (mm<tspan font-size="6.5" dy="-3.5">3</tspan><tspan dy="3.5">)</tspan></text>
<line x1="68.8" y1="1213" x2="68.8" y2="1106.3" stroke="#222" stroke-width="1"/>
<line x1="64.9" y1="1212.5" x2="68.8" y2="1212.5" stroke="#222" stroke-width="1"/>
<text x="64.4" y="1215.45" font-size="8.2" text-anchor="end" fill="#222" textLength="4.38" lengthAdjust="spacingAndGlyphs">0</text>
<line x1="64.9" y1="1194.8" x2="68.8" y2="1194.8" stroke="#222" stroke-width="1"/>
<text x="64.4" y="1197.75" font-size="8.2" text-anchor="end" fill="#222" textLength="13.13" lengthAdjust="spacingAndGlyphs">200</text>
<line x1="64.9" y1="1177.1" x2="68.8" y2="1177.1" stroke="#222" stroke-width="1"/>
<text x="64.4" y="1180.05" font-size="8.2" text-anchor="end" fill="#222" textLength="13.13" lengthAdjust="spacingAndGlyphs">400</text>
<line x1="64.9" y1="1159.4" x2="68.8" y2="1159.4" stroke="#222" stroke-width="1"/>
<text x="64.4" y="1162.35" font-size="8.2" text-anchor="end" fill="#222" textLength="13.13" lengthAdjust="spacingAndGlyphs">600</text>
<line x1="64.9" y1="1141.7" x2="68.8" y2="1141.7" stroke="#222" stroke-width="1"/>
<text x="64.4" y="1144.65" font-size="8.2" text-anchor="end" fill="#222" textLength="13.13" lengthAdjust="spacingAndGlyphs">800</text>
<line x1="64.9" y1="1124" x2="68.8" y2="1124" stroke="#222" stroke-width="1"/>
<text x="64.4" y="1126.95" font-size="8.2" text-anchor="end" fill="#222" textLength="17.51" lengthAdjust="spacingAndGlyphs">1000</text>
<line x1="64.9" y1="1106.3" x2="68.8" y2="1106.3" stroke="#222" stroke-width="1"/>
<text x="64.4" y="1109.25" font-size="8.2" text-anchor="end" fill="#222" textLength="17.51" lengthAdjust="spacingAndGlyphs">1200</text>
<line x1="68.3" y1="1212.5" x2="207.5" y2="1212.5" stroke="#222" stroke-width="1"/>
<line x1="68.8" y1="1212.5" x2="68.8" y2="1215.5" stroke="#222" stroke-width="1"/>
<line x1="91.73" y1="1212.5" x2="91.73" y2="1215.5" stroke="#222" stroke-width="1"/>
<line x1="114.66" y1="1212.5" x2="114.66" y2="1215.5" stroke="#222" stroke-width="1"/>
<line x1="137.59" y1="1212.5" x2="137.59" y2="1215.5" stroke="#222" stroke-width="1"/>
<line x1="160.52" y1="1212.5" x2="160.52" y2="1215.5" stroke="#222" stroke-width="1"/>
<line x1="183.45" y1="1212.5" x2="183.45" y2="1215.5" stroke="#222" stroke-width="1"/>
<line x1="206.38" y1="1212.5" x2="206.38" y2="1215.5" stroke="#222" stroke-width="1"/>
<text x="68.8" y="1223.52" font-size="9.5" text-anchor="middle" fill="#111">0</text>
<text x="91.73" y="1223.52" font-size="9.5" text-anchor="middle" fill="#111">5</text>
<text x="114.66" y="1223.52" font-size="9.5" text-anchor="middle" fill="#111">10</text>
<text x="137.59" y="1223.52" font-size="9.5" text-anchor="middle" fill="#111">15</text>
<text x="160.52" y="1223.52" font-size="9.5" text-anchor="middle" fill="#111">20</text>
<text x="183.45" y="1223.52" font-size="9.5" text-anchor="middle" fill="#111">25</text>
<text x="206.38" y="1223.52" font-size="9.5" text-anchor="middle" fill="#111">30</text>
<text x="216" y="1223.63" font-size="9.8" text-anchor="start" fill="#111" textLength="22.3" lengthAdjust="spacingAndGlyphs">Days</text>
<polyline points="91.73,1204.09 114.66,1193.91 137.59,1178.87 160.52,1154.97 183.45,1132.85" stroke="#80f0c0" stroke-width="1" fill="none"/>
<line x1="91.73" y1="1205.42" x2="91.73" y2="1202.77" stroke="#80f0c0" stroke-width="0.9"/>
<line x1="89.23" y1="1202.77" x2="94.23" y2="1202.77" stroke="#80f0c0" stroke-width="0.9"/>
<line x1="89.23" y1="1205.42" x2="94.23" y2="1205.42" stroke="#80f0c0" stroke-width="0.9"/>
<line x1="114.66" y1="1196.13" x2="114.66" y2="1191.7" stroke="#80f0c0" stroke-width="0.9"/>
<line x1="112.16" y1="1191.7" x2="117.16" y2="1191.7" stroke="#80f0c0" stroke-width="0.9"/>
<line x1="112.16" y1="1196.13" x2="117.16" y2="1196.13" stroke="#80f0c0" stroke-width="0.9"/>
<line x1="137.59" y1="1184.18" x2="137.59" y2="1173.56" stroke="#80f0c0" stroke-width="0.9"/>
<line x1="135.09" y1="1173.56" x2="140.09" y2="1173.56" stroke="#80f0c0" stroke-width="0.9"/>
<line x1="135.09" y1="1184.18" x2="140.09" y2="1184.18" stroke="#80f0c0" stroke-width="0.9"/>
<line x1="160.52" y1="1163.83" x2="160.52" y2="1146.12" stroke="#80f0c0" stroke-width="0.9"/>
<line x1="158.02" y1="1146.12" x2="163.02" y2="1146.12" stroke="#80f0c0" stroke-width="0.9"/>
<line x1="158.02" y1="1163.83" x2="163.02" y2="1163.83" stroke="#80f0c0" stroke-width="0.9"/>
<line x1="183.45" y1="1143.47" x2="183.45" y2="1122.23" stroke="#80f0c0" stroke-width="0.9"/>
<line x1="180.95" y1="1122.23" x2="185.95" y2="1122.23" stroke="#80f0c0" stroke-width="0.9"/>
<line x1="180.95" y1="1143.47" x2="185.95" y2="1143.47" stroke="#80f0c0" stroke-width="0.9"/>
<polygon points="91.73,1200.85 94.97,1204.09 91.73,1207.33 88.49,1204.09" fill="#80f0c0"/>
<polygon points="114.66,1190.67 117.9,1193.91 114.66,1197.15 111.42,1193.91" fill="#80f0c0"/>
<polygon points="137.59,1175.63 140.83,1178.87 137.59,1182.11 134.35,1178.87" fill="#80f0c0"/>
<polygon points="160.52,1151.73 163.76,1154.97 160.52,1158.21 157.28,1154.97" fill="#80f0c0"/>
<polygon points="183.45,1129.61 186.69,1132.85 183.45,1136.09 180.21,1132.85" fill="#80f0c0"/>
<polyline points="91.73,1204.54 114.66,1192.14 137.59,1177.1 160.52,1158.96 183.45,1139.05" stroke="#33d61f" stroke-width="1" fill="none"/>
<line x1="91.73" y1="1205.86" x2="91.73" y2="1203.21" stroke="#33d61f" stroke-width="0.9"/>
<line x1="89.23" y1="1203.21" x2="94.23" y2="1203.21" stroke="#33d61f" stroke-width="0.9"/>
<line x1="89.23" y1="1205.86" x2="94.23" y2="1205.86" stroke="#33d61f" stroke-width="0.9"/>
<line x1="114.66" y1="1194.36" x2="114.66" y2="1189.93" stroke="#33d61f" stroke-width="0.9"/>
<line x1="112.16" y1="1189.93" x2="117.16" y2="1189.93" stroke="#33d61f" stroke-width="0.9"/>
<line x1="112.16" y1="1194.36" x2="117.16" y2="1194.36" stroke="#33d61f" stroke-width="0.9"/>
<line x1="137.59" y1="1180.64" x2="137.59" y2="1173.56" stroke="#33d61f" stroke-width="0.9"/>
<line x1="135.09" y1="1173.56" x2="140.09" y2="1173.56" stroke="#33d61f" stroke-width="0.9"/>
<line x1="135.09" y1="1180.64" x2="140.09" y2="1180.64" stroke="#33d61f" stroke-width="0.9"/>
<line x1="160.52" y1="1164.27" x2="160.52" y2="1153.65" stroke="#33d61f" stroke-width="0.9"/>
<line x1="158.02" y1="1153.65" x2="163.02" y2="1153.65" stroke="#33d61f" stroke-width="0.9"/>
<line x1="158.02" y1="1164.27" x2="163.02" y2="1164.27" stroke="#33d61f" stroke-width="0.9"/>
<line x1="183.45" y1="1146.12" x2="183.45" y2="1131.96" stroke="#33d61f" stroke-width="0.9"/>
<line x1="180.95" y1="1131.96" x2="185.95" y2="1131.96" stroke="#33d61f" stroke-width="0.9"/>
<line x1="180.95" y1="1146.12" x2="185.95" y2="1146.12" stroke="#33d61f" stroke-width="0.9"/>
<rect x="89.3" y="1202.11" width="4.86" height="4.86" fill="#33d61f"/>
<rect x="112.23" y="1189.71" width="4.86" height="4.86" fill="#33d61f"/>
<rect x="135.16" y="1174.67" width="4.86" height="4.86" fill="#33d61f"/>
<rect x="158.09" y="1156.53" width="4.86" height="4.86" fill="#33d61f"/>
<rect x="181.02" y="1136.62" width="4.86" height="4.86" fill="#33d61f"/>
<polyline points="91.73,1206.31 114.66,1198.34 137.59,1184.18 160.52,1170.02 183.45,1150.55" stroke="#f09a40" stroke-width="1" fill="none"/>
<line x1="91.73" y1="1207.19" x2="91.73" y2="1205.42" stroke="#f09a40" stroke-width="0.9"/>
<line x1="89.23" y1="1205.42" x2="94.23" y2="1205.42" stroke="#f09a40" stroke-width="0.9"/>
<line x1="89.23" y1="1207.19" x2="94.23" y2="1207.19" stroke="#f09a40" stroke-width="0.9"/>
<line x1="114.66" y1="1200.11" x2="114.66" y2="1196.57" stroke="#f09a40" stroke-width="0.9"/>
<line x1="112.16" y1="1196.57" x2="117.16" y2="1196.57" stroke="#f09a40" stroke-width="0.9"/>
<line x1="112.16" y1="1200.11" x2="117.16" y2="1200.11" stroke="#f09a40" stroke-width="0.9"/>
<line x1="137.59" y1="1187.28" x2="137.59" y2="1181.08" stroke="#f09a40" stroke-width="0.9"/>
<line x1="135.09" y1="1181.08" x2="140.09" y2="1181.08" stroke="#f09a40" stroke-width="0.9"/>
<line x1="135.09" y1="1187.28" x2="140.09" y2="1187.28" stroke="#f09a40" stroke-width="0.9"/>
<line x1="160.52" y1="1174" x2="160.52" y2="1166.04" stroke="#f09a40" stroke-width="0.9"/>
<line x1="158.02" y1="1166.04" x2="163.02" y2="1166.04" stroke="#f09a40" stroke-width="0.9"/>
<line x1="158.02" y1="1174" x2="163.02" y2="1174" stroke="#f09a40" stroke-width="0.9"/>
<line x1="183.45" y1="1155.86" x2="183.45" y2="1145.24" stroke="#f09a40" stroke-width="0.9"/>
<line x1="180.95" y1="1145.24" x2="185.95" y2="1145.24" stroke="#f09a40" stroke-width="0.9"/>
<line x1="180.95" y1="1155.86" x2="185.95" y2="1155.86" stroke="#f09a40" stroke-width="0.9"/>
<polygon points="88.76,1203.93 94.7,1203.93 91.73,1208.98" fill="#f09a40"/>
<polygon points="111.69,1195.96 117.63,1195.96 114.66,1201.01" fill="#f09a40"/>
<polygon points="134.62,1181.8 140.56,1181.8 137.59,1186.85" fill="#f09a40"/>
<polygon points="157.55,1167.64 163.49,1167.64 160.52,1172.69" fill="#f09a40"/>
<polygon points="180.48,1148.17 186.42,1148.17 183.45,1153.22" fill="#f09a40"/>
<polyline points="91.73,1205.42 114.66,1199.22 137.59,1188.61 160.52,1177.1 183.45,1159.4" stroke="#f23c3a" stroke-width="1" fill="none"/>
<line x1="91.73" y1="1206.75" x2="91.73" y2="1204.09" stroke="#f23c3a" stroke-width="0.9"/>
<line x1="89.23" y1="1204.09" x2="94.23" y2="1204.09" stroke="#f23c3a" stroke-width="0.9"/>
<line x1="89.23" y1="1206.75" x2="94.23" y2="1206.75" stroke="#f23c3a" stroke-width="0.9"/>
<line x1="114.66" y1="1200.99" x2="114.66" y2="1197.45" stroke="#f23c3a" stroke-width="0.9"/>
<line x1="112.16" y1="1197.45" x2="117.16" y2="1197.45" stroke="#f23c3a" stroke-width="0.9"/>
<line x1="112.16" y1="1200.99" x2="117.16" y2="1200.99" stroke="#f23c3a" stroke-width="0.9"/>
<line x1="137.59" y1="1191.26" x2="137.59" y2="1185.95" stroke="#f23c3a" stroke-width="0.9"/>
<line x1="135.09" y1="1185.95" x2="140.09" y2="1185.95" stroke="#f23c3a" stroke-width="0.9"/>
<line x1="135.09" y1="1191.26" x2="140.09" y2="1191.26" stroke="#f23c3a" stroke-width="0.9"/>
<line x1="160.52" y1="1180.64" x2="160.52" y2="1173.56" stroke="#f23c3a" stroke-width="0.9"/>
<line x1="158.02" y1="1173.56" x2="163.02" y2="1173.56" stroke="#f23c3a" stroke-width="0.9"/>
<line x1="158.02" y1="1180.64" x2="163.02" y2="1180.64" stroke="#f23c3a" stroke-width="0.9"/>
<line x1="183.45" y1="1164.27" x2="183.45" y2="1154.53" stroke="#f23c3a" stroke-width="0.9"/>
<line x1="180.95" y1="1154.53" x2="185.95" y2="1154.53" stroke="#f23c3a" stroke-width="0.9"/>
<line x1="180.95" y1="1164.27" x2="185.95" y2="1164.27" stroke="#f23c3a" stroke-width="0.9"/>
<circle cx="91.73" cy="1205.42" r="2.7" fill="#f23c3a"/>
<circle cx="114.66" cy="1199.22" r="2.7" fill="#f23c3a"/>
<circle cx="137.59" cy="1188.61" r="2.7" fill="#f23c3a"/>
<circle cx="160.52" cy="1177.1" r="2.7" fill="#f23c3a"/>
<circle cx="183.45" cy="1159.4" r="2.7" fill="#f23c3a"/>
<polyline points="91.73,1207.63 114.66,1202.77 137.59,1193.03 160.52,1182.41 183.45,1172.67" stroke="#2a7a22" stroke-width="1" fill="none"/>
<line x1="91.73" y1="1208.52" x2="91.73" y2="1206.75" stroke="#2a7a22" stroke-width="0.9"/>
<line x1="89.23" y1="1206.75" x2="94.23" y2="1206.75" stroke="#2a7a22" stroke-width="0.9"/>
<line x1="89.23" y1="1208.52" x2="94.23" y2="1208.52" stroke="#2a7a22" stroke-width="0.9"/>
<line x1="114.66" y1="1204.09" x2="114.66" y2="1201.44" stroke="#2a7a22" stroke-width="0.9"/>
<line x1="112.16" y1="1201.44" x2="117.16" y2="1201.44" stroke="#2a7a22" stroke-width="0.9"/>
<line x1="112.16" y1="1204.09" x2="117.16" y2="1204.09" stroke="#2a7a22" stroke-width="0.9"/>
<line x1="137.59" y1="1195.68" x2="137.59" y2="1190.38" stroke="#2a7a22" stroke-width="0.9"/>
<line x1="135.09" y1="1190.38" x2="140.09" y2="1190.38" stroke="#2a7a22" stroke-width="0.9"/>
<line x1="135.09" y1="1195.68" x2="140.09" y2="1195.68" stroke="#2a7a22" stroke-width="0.9"/>
<line x1="160.52" y1="1185.95" x2="160.52" y2="1178.87" stroke="#2a7a22" stroke-width="0.9"/>
<line x1="158.02" y1="1178.87" x2="163.02" y2="1178.87" stroke="#2a7a22" stroke-width="0.9"/>
<line x1="158.02" y1="1185.95" x2="163.02" y2="1185.95" stroke="#2a7a22" stroke-width="0.9"/>
<line x1="183.45" y1="1177.1" x2="183.45" y2="1168.25" stroke="#2a7a22" stroke-width="0.9"/>
<line x1="180.95" y1="1168.25" x2="185.95" y2="1168.25" stroke="#2a7a22" stroke-width="0.9"/>
<line x1="180.95" y1="1177.1" x2="185.95" y2="1177.1" stroke="#2a7a22" stroke-width="0.9"/>
<polygon points="88.76,1210.01 94.7,1210.01 91.73,1204.96" fill="#2a7a22"/>
<polygon points="111.69,1205.14 117.63,1205.14 114.66,1200.09" fill="#2a7a22"/>
<polygon points="134.62,1195.41 140.56,1195.41 137.59,1190.36" fill="#2a7a22"/>
<polygon points="157.55,1184.79 163.49,1184.79 160.52,1179.74" fill="#2a7a22"/>
<polygon points="180.48,1175.05 186.42,1175.05 183.45,1170" fill="#2a7a22"/>
<polyline points="91.73,1208.52 114.66,1203.65 137.59,1195.68 160.52,1186.84 183.45,1177.98" stroke="#1a1aee" stroke-width="1" fill="none"/>
<line x1="91.73" y1="1209.23" x2="91.73" y2="1207.81" stroke="#1a1aee" stroke-width="0.9"/>
<line x1="89.23" y1="1207.81" x2="94.23" y2="1207.81" stroke="#1a1aee" stroke-width="0.9"/>
<line x1="89.23" y1="1209.23" x2="94.23" y2="1209.23" stroke="#1a1aee" stroke-width="0.9"/>
<line x1="114.66" y1="1204.98" x2="114.66" y2="1202.32" stroke="#1a1aee" stroke-width="0.9"/>
<line x1="112.16" y1="1202.32" x2="117.16" y2="1202.32" stroke="#1a1aee" stroke-width="0.9"/>
<line x1="112.16" y1="1204.98" x2="117.16" y2="1204.98" stroke="#1a1aee" stroke-width="0.9"/>
<line x1="137.59" y1="1197.9" x2="137.59" y2="1193.47" stroke="#1a1aee" stroke-width="0.9"/>
<line x1="135.09" y1="1193.47" x2="140.09" y2="1193.47" stroke="#1a1aee" stroke-width="0.9"/>
<line x1="135.09" y1="1197.9" x2="140.09" y2="1197.9" stroke="#1a1aee" stroke-width="0.9"/>
<line x1="160.52" y1="1189.93" x2="160.52" y2="1183.74" stroke="#1a1aee" stroke-width="0.9"/>
<line x1="158.02" y1="1183.74" x2="163.02" y2="1183.74" stroke="#1a1aee" stroke-width="0.9"/>
<line x1="158.02" y1="1189.93" x2="163.02" y2="1189.93" stroke="#1a1aee" stroke-width="0.9"/>
<line x1="183.45" y1="1181.53" x2="183.45" y2="1174.44" stroke="#1a1aee" stroke-width="0.9"/>
<line x1="180.95" y1="1174.44" x2="185.95" y2="1174.44" stroke="#1a1aee" stroke-width="0.9"/>
<line x1="180.95" y1="1181.53" x2="185.95" y2="1181.53" stroke="#1a1aee" stroke-width="0.9"/>
<circle cx="91.73" cy="1208.52" r="2.7" fill="#1a1aee"/>
<circle cx="114.66" cy="1203.65" r="2.7" fill="#1a1aee"/>
<circle cx="137.59" cy="1195.68" r="2.7" fill="#1a1aee"/>
<circle cx="160.52" cy="1186.84" r="2.7" fill="#1a1aee"/>
<circle cx="183.45" cy="1177.98" r="2.7" fill="#1a1aee"/>
<polyline points="91.73,1208.08 114.66,1204.54 137.59,1200.11 160.52,1195.68 183.45,1188.61" stroke="#a01818" stroke-width="1" fill="none"/>
<line x1="91.73" y1="1208.78" x2="91.73" y2="1207.37" stroke="#a01818" stroke-width="0.9"/>
<line x1="89.23" y1="1207.37" x2="94.23" y2="1207.37" stroke="#a01818" stroke-width="0.9"/>
<line x1="89.23" y1="1208.78" x2="94.23" y2="1208.78" stroke="#a01818" stroke-width="0.9"/>
<line x1="114.66" y1="1205.86" x2="114.66" y2="1203.21" stroke="#a01818" stroke-width="0.9"/>
<line x1="112.16" y1="1203.21" x2="117.16" y2="1203.21" stroke="#a01818" stroke-width="0.9"/>
<line x1="112.16" y1="1205.86" x2="117.16" y2="1205.86" stroke="#a01818" stroke-width="0.9"/>
<line x1="137.59" y1="1201.88" x2="137.59" y2="1198.34" stroke="#a01818" stroke-width="0.9"/>
<line x1="135.09" y1="1198.34" x2="140.09" y2="1198.34" stroke="#a01818" stroke-width="0.9"/>
<line x1="135.09" y1="1201.88" x2="140.09" y2="1201.88" stroke="#a01818" stroke-width="0.9"/>
<line x1="160.52" y1="1198.34" x2="160.52" y2="1193.03" stroke="#a01818" stroke-width="0.9"/>
<line x1="158.02" y1="1193.03" x2="163.02" y2="1193.03" stroke="#a01818" stroke-width="0.9"/>
<line x1="158.02" y1="1198.34" x2="163.02" y2="1198.34" stroke="#a01818" stroke-width="0.9"/>
<line x1="183.45" y1="1191.7" x2="183.45" y2="1185.51" stroke="#a01818" stroke-width="0.9"/>
<line x1="180.95" y1="1185.51" x2="185.95" y2="1185.51" stroke="#a01818" stroke-width="0.9"/>
<line x1="180.95" y1="1191.7" x2="185.95" y2="1191.7" stroke="#a01818" stroke-width="0.9"/>
<rect x="89.3" y="1205.64" width="4.86" height="4.86" fill="#a01818"/>
<rect x="112.23" y="1202.11" width="4.86" height="4.86" fill="#a01818"/>
<rect x="135.16" y="1197.68" width="4.86" height="4.86" fill="#a01818"/>
<rect x="158.09" y="1193.25" width="4.86" height="4.86" fill="#a01818"/>
<rect x="181.02" y="1186.17" width="4.86" height="4.86" fill="#a01818"/>
<polyline points="91.73,1209.85 114.66,1207.19 137.59,1202.77 160.52,1197.45 183.45,1189.49" stroke="#f050f0" stroke-width="1" fill="none"/>
<line x1="91.73" y1="1210.55" x2="91.73" y2="1209.14" stroke="#f050f0" stroke-width="0.9"/>
<line x1="89.23" y1="1209.14" x2="94.23" y2="1209.14" stroke="#f050f0" stroke-width="0.9"/>
<line x1="89.23" y1="1210.55" x2="94.23" y2="1210.55" stroke="#f050f0" stroke-width="0.9"/>
<line x1="114.66" y1="1208.08" x2="114.66" y2="1206.31" stroke="#f050f0" stroke-width="0.9"/>
<line x1="112.16" y1="1206.31" x2="117.16" y2="1206.31" stroke="#f050f0" stroke-width="0.9"/>
<line x1="112.16" y1="1208.08" x2="117.16" y2="1208.08" stroke="#f050f0" stroke-width="0.9"/>
<line x1="137.59" y1="1204.09" x2="137.59" y2="1201.44" stroke="#f050f0" stroke-width="0.9"/>
<line x1="135.09" y1="1201.44" x2="140.09" y2="1201.44" stroke="#f050f0" stroke-width="0.9"/>
<line x1="135.09" y1="1204.09" x2="140.09" y2="1204.09" stroke="#f050f0" stroke-width="0.9"/>
<line x1="160.52" y1="1199.22" x2="160.52" y2="1195.68" stroke="#f050f0" stroke-width="0.9"/>
<line x1="158.02" y1="1195.68" x2="163.02" y2="1195.68" stroke="#f050f0" stroke-width="0.9"/>
<line x1="158.02" y1="1199.22" x2="163.02" y2="1199.22" stroke="#f050f0" stroke-width="0.9"/>
<line x1="183.45" y1="1192.14" x2="183.45" y2="1186.84" stroke="#f050f0" stroke-width="0.9"/>
<line x1="180.95" y1="1186.84" x2="185.95" y2="1186.84" stroke="#f050f0" stroke-width="0.9"/>
<line x1="180.95" y1="1192.14" x2="185.95" y2="1192.14" stroke="#f050f0" stroke-width="0.9"/>
<polygon points="88.76,1212.22 94.7,1212.22 91.73,1207.17" fill="#f050f0"/>
<polygon points="111.69,1209.57 117.63,1209.57 114.66,1204.52" fill="#f050f0"/>
<polygon points="134.62,1205.14 140.56,1205.14 137.59,1200.09" fill="#f050f0"/>
<polygon points="157.55,1199.83 163.49,1199.83 160.52,1194.78" fill="#f050f0"/>
<polygon points="180.48,1191.87 186.42,1191.87 183.45,1186.82" fill="#f050f0"/>
<polyline points="91.73,1210.73 114.66,1208.08 137.59,1205.42 160.52,1200.99 183.45,1197.45" stroke="#4a1070" stroke-width="1" fill="none"/>
<line x1="91.73" y1="1211.44" x2="91.73" y2="1210.02" stroke="#4a1070" stroke-width="0.9"/>
<line x1="89.23" y1="1210.02" x2="94.23" y2="1210.02" stroke="#4a1070" stroke-width="0.9"/>
<line x1="89.23" y1="1211.44" x2="94.23" y2="1211.44" stroke="#4a1070" stroke-width="0.9"/>
<line x1="114.66" y1="1208.96" x2="114.66" y2="1207.19" stroke="#4a1070" stroke-width="0.9"/>
<line x1="112.16" y1="1207.19" x2="117.16" y2="1207.19" stroke="#4a1070" stroke-width="0.9"/>
<line x1="112.16" y1="1208.96" x2="117.16" y2="1208.96" stroke="#4a1070" stroke-width="0.9"/>
<line x1="137.59" y1="1208.08" x2="137.59" y2="1202.77" stroke="#4a1070" stroke-width="0.9"/>
<line x1="135.09" y1="1202.77" x2="140.09" y2="1202.77" stroke="#4a1070" stroke-width="0.9"/>
<line x1="135.09" y1="1208.08" x2="140.09" y2="1208.08" stroke="#4a1070" stroke-width="0.9"/>
<line x1="160.52" y1="1205.42" x2="160.52" y2="1196.57" stroke="#4a1070" stroke-width="0.9"/>
<line x1="158.02" y1="1196.57" x2="163.02" y2="1196.57" stroke="#4a1070" stroke-width="0.9"/>
<line x1="158.02" y1="1205.42" x2="163.02" y2="1205.42" stroke="#4a1070" stroke-width="0.9"/>
<line x1="183.45" y1="1202.77" x2="183.45" y2="1192.14" stroke="#4a1070" stroke-width="0.9"/>
<line x1="180.95" y1="1192.14" x2="185.95" y2="1192.14" stroke="#4a1070" stroke-width="0.9"/>
<line x1="180.95" y1="1202.77" x2="185.95" y2="1202.77" stroke="#4a1070" stroke-width="0.9"/>
<polygon points="88.76,1208.35 94.7,1208.35 91.73,1213.4" fill="#4a1070"/>
<polygon points="111.69,1205.7 117.63,1205.7 114.66,1210.75" fill="#4a1070"/>
<polygon points="134.62,1203.04 140.56,1203.04 137.59,1208.09" fill="#4a1070"/>
<polygon points="157.55,1198.62 163.49,1198.62 160.52,1203.67" fill="#4a1070"/>
<polygon points="180.48,1195.08 186.42,1195.08 183.45,1200.13" fill="#4a1070"/>
<line x1="190.1" y1="1139.7" x2="190.1" y2="1159" stroke="#222" stroke-width="0.9"/>
<text transform="translate(191.85,1149.4) rotate(90)" font-size="8.5" text-anchor="middle" fill="#111">***</text>
<line x1="199.3" y1="1161.4" x2="199.3" y2="1189.6" stroke="#222" stroke-width="0.9"/>
<text transform="translate(200.85,1175.9) rotate(90)" font-size="8.5" text-anchor="middle" fill="#111">***</text>
<line x1="204.6" y1="1132.5" x2="204.6" y2="1150.1" stroke="#222" stroke-width="0.9"/>
<text transform="translate(206.16,1141.4) rotate(90)" font-size="8.5" text-anchor="middle" fill="#111">***</text>
<line x1="210.1" y1="1150.6" x2="210.1" y2="1178.3" stroke="#222" stroke-width="0.9"/>
<text transform="translate(211.66,1165) rotate(90)" font-size="8.5" text-anchor="middle" fill="#111">***</text>
<line x1="219" y1="1171.8" x2="219" y2="1189.1" stroke="#222" stroke-width="0.9"/>
<text transform="translate(220.55,1181.9) rotate(90)" font-size="8.5" text-anchor="middle" fill="#111">**</text>
<line x1="224.6" y1="1189.1" x2="224.6" y2="1199.2" stroke="#222" stroke-width="0.9"/>
<text transform="translate(225.95,1194.4) rotate(90)" font-size="8.5" text-anchor="middle" fill="#111">*</text>
<line x1="240.2" y1="1107.9" x2="251" y2="1107.9" stroke="#f23c3a" stroke-width="1"/>
<circle cx="245.6" cy="1107.9" r="2.8" fill="#f23c3a"/>
<text x="255.9" y="1111.14" font-size="9" text-anchor="start" fill="#111">shNC</text>
<line x1="240.2" y1="1118.95" x2="251" y2="1118.95" stroke="#33d61f" stroke-width="1"/>
<rect x="243.08" y="1116.43" width="5.04" height="5.04" fill="#33d61f"/>
<text x="255.9" y="1122.19" font-size="9" text-anchor="start" fill="#111">shGIT2-L</text>
<line x1="240.2" y1="1130" x2="251" y2="1130" stroke="#f050f0" stroke-width="1"/>
<polygon points="242.52,1132.46 248.68,1132.46 245.6,1127.23" fill="#f050f0"/>
<text x="255.9" y="1133.24" font-size="9" text-anchor="start" fill="#111">shGIT2-S</text>
<line x1="240.2" y1="1141.05" x2="251" y2="1141.05" stroke="#f09a40" stroke-width="1"/>
<polygon points="242.52,1138.59 248.68,1138.59 245.6,1143.82" fill="#f09a40"/>
<text x="255.9" y="1144.29" font-size="9" text-anchor="start" fill="#111">shNC+Fer-1</text>
<line x1="240.2" y1="1152.1" x2="251" y2="1152.1" stroke="#80f0c0" stroke-width="1"/>
<polygon points="245.6,1148.74 248.96,1152.1 245.6,1155.46 242.24,1152.1" fill="#80f0c0"/>
<text x="255.9" y="1155.34" font-size="9" text-anchor="start" fill="#111">shGIT2-L+Fer-1</text>
<line x1="240.2" y1="1163.15" x2="251" y2="1163.15" stroke="#1a1aee" stroke-width="1"/>
<circle cx="245.6" cy="1163.15" r="2.8" fill="#1a1aee"/>
<text x="255.9" y="1166.39" font-size="9" text-anchor="start" fill="#111">shGIT2-S+Fer-1</text>
<line x1="240.2" y1="1174.2" x2="251" y2="1174.2" stroke="#a01818" stroke-width="1"/>
<rect x="243.08" y="1171.68" width="5.04" height="5.04" fill="#a01818"/>
<text x="255.9" y="1177.44" font-size="9" text-anchor="start" fill="#111">shNC+RSL3</text>
<line x1="240.2" y1="1185.25" x2="251" y2="1185.25" stroke="#2a7a22" stroke-width="1"/>
<polygon points="242.52,1187.71 248.68,1187.71 245.6,1182.48" fill="#2a7a22"/>
<text x="255.9" y="1188.49" font-size="9" text-anchor="start" fill="#111">shGIT2-L+RSL3</text>
<line x1="240.2" y1="1196.3" x2="251" y2="1196.3" stroke="#4a1070" stroke-width="1"/>
<polygon points="242.52,1193.84 248.68,1193.84 245.6,1199.07" fill="#4a1070"/>
<text x="255.9" y="1199.54" font-size="9" text-anchor="start" fill="#111">shGIT2-S+RSL3</text>
<text x="380" y="1087.36" font-size="13.5" text-anchor="start" fill="#000" font-weight="bold">L</text>
<text x="454.3" y="1098.23" font-size="11.2" text-anchor="middle" fill="#000" font-weight="bold" textLength="31.5" lengthAdjust="spacingAndGlyphs">THP-1</text>
<text transform="translate(407.1,1151.5) rotate(-90)" x="0" y="0" font-size="10" text-anchor="middle" fill="#222" textLength="74" lengthAdjust="spacingAndGlyphs">Tumor weight (g)</text>
<line x1="427.2" y1="1212.9" x2="427.2" y2="1099.4" stroke="#222" stroke-width="1"/>
<line x1="422.6" y1="1212.4" x2="427.2" y2="1212.4" stroke="#222" stroke-width="1"/>
<text x="421.7" y="1215.35" font-size="8.2" text-anchor="end" fill="#222" textLength="11.06" lengthAdjust="spacingAndGlyphs">0.0</text>
<line x1="422.6" y1="1174.73" x2="427.2" y2="1174.73" stroke="#222" stroke-width="1"/>
<text x="421.7" y="1177.69" font-size="8.2" text-anchor="end" fill="#222" textLength="11.06" lengthAdjust="spacingAndGlyphs">0.5</text>
<line x1="422.6" y1="1137.07" x2="427.2" y2="1137.07" stroke="#222" stroke-width="1"/>
<text x="421.7" y="1140.02" font-size="8.2" text-anchor="end" fill="#222" textLength="11.06" lengthAdjust="spacingAndGlyphs">1.0</text>
<line x1="422.6" y1="1099.4" x2="427.2" y2="1099.4" stroke="#222" stroke-width="1"/>
<text x="421.7" y="1102.35" font-size="8.2" text-anchor="end" fill="#222" textLength="11.06" lengthAdjust="spacingAndGlyphs">1.5</text>
<line x1="426.7" y1="1212.4" x2="591.7" y2="1212.4" stroke="#222" stroke-width="1"/>
<line x1="439.45" y1="1212.4" x2="439.45" y2="1215.4" stroke="#222" stroke-width="1"/>
<line x1="456.9" y1="1212.4" x2="456.9" y2="1215.4" stroke="#222" stroke-width="1"/>
<line x1="474.35" y1="1212.4" x2="474.35" y2="1215.4" stroke="#222" stroke-width="1"/>
<line x1="491.8" y1="1212.4" x2="491.8" y2="1215.4" stroke="#222" stroke-width="1"/>
<line x1="509.25" y1="1212.4" x2="509.25" y2="1215.4" stroke="#222" stroke-width="1"/>
<line x1="526.7" y1="1212.4" x2="526.7" y2="1215.4" stroke="#222" stroke-width="1"/>
<line x1="544.15" y1="1212.4" x2="544.15" y2="1215.4" stroke="#222" stroke-width="1"/>
<line x1="561.6" y1="1212.4" x2="561.6" y2="1215.4" stroke="#222" stroke-width="1"/>
<line x1="579.05" y1="1212.4" x2="579.05" y2="1215.4" stroke="#222" stroke-width="1"/>
<rect x="434.2" y="1168.71" width="10.5" height="43.69" fill="#f23c3a"/>
<line x1="439.45" y1="1174.73" x2="439.45" y2="1162.68" stroke="#000" stroke-width="0.9"/>
<line x1="436.25" y1="1162.68" x2="442.65" y2="1162.68" stroke="#000" stroke-width="0.9"/>
<line x1="436.25" y1="1174.73" x2="442.65" y2="1174.73" stroke="#000" stroke-width="0.9"/>
<circle cx="436.85" cy="1171.42" r="1.9" fill="#111"/>
<circle cx="442.05" cy="1169.31" r="1.9" fill="#111"/>
<circle cx="439.45" cy="1161.47" r="1.9" fill="#111"/>
<circle cx="436.85" cy="1165.99" r="1.9" fill="#111"/>
<circle cx="442.05" cy="1164.49" r="1.9" fill="#111"/>
<circle cx="439.45" cy="1175.34" r="1.9" fill="#111"/>
<rect x="451.65" y="1149.87" width="10.5" height="62.53" fill="#50e030"/>
<line x1="456.9" y1="1157.41" x2="456.9" y2="1142.34" stroke="#000" stroke-width="0.9"/>
<line x1="453.7" y1="1142.34" x2="460.1" y2="1142.34" stroke="#000" stroke-width="0.9"/>
<line x1="453.7" y1="1157.41" x2="460.1" y2="1157.41" stroke="#000" stroke-width="0.9"/>
<rect x="452.59" y="1151.55" width="3.42" height="3.42" fill="#111"/>
<rect x="457.79" y="1148.92" width="3.42" height="3.42" fill="#111"/>
<rect x="455.19" y="1139.12" width="3.42" height="3.42" fill="#111"/>
<rect x="452.59" y="1144.77" width="3.42" height="3.42" fill="#111"/>
<rect x="457.79" y="1142.89" width="3.42" height="3.42" fill="#111"/>
<rect x="455.19" y="1156.45" width="3.42" height="3.42" fill="#111"/>
<rect x="469.1" y="1192.81" width="10.5" height="19.59" fill="#f050f0"/>
<line x1="474.35" y1="1195.83" x2="474.35" y2="1189.8" stroke="#000" stroke-width="0.9"/>
<line x1="471.15" y1="1189.8" x2="477.55" y2="1189.8" stroke="#000" stroke-width="0.9"/>
<line x1="471.15" y1="1195.83" x2="477.55" y2="1195.83" stroke="#000" stroke-width="0.9"/>
<polygon points="469.66,1195.84 473.84,1195.84 471.75,1192.29" fill="#111"/>
<polygon points="474.86,1194.79 479.04,1194.79 476.95,1191.23" fill="#111"/>
<polygon points="472.26,1190.87 476.44,1190.87 474.35,1187.32" fill="#111"/>
<polygon points="469.66,1193.13 473.84,1193.13 471.75,1189.58" fill="#111"/>
<polygon points="474.86,1192.38 479.04,1192.38 476.95,1188.82" fill="#111"/>
<polygon points="472.26,1197.8 476.44,1197.8 474.35,1194.25" fill="#111"/>
<rect x="486.55" y="1160.42" width="10.5" height="51.98" fill="#f09030"/>
<line x1="491.8" y1="1166.45" x2="491.8" y2="1154.39" stroke="#000" stroke-width="0.9"/>
<line x1="488.6" y1="1154.39" x2="495" y2="1154.39" stroke="#000" stroke-width="0.9"/>
<line x1="488.6" y1="1166.45" x2="495" y2="1166.45" stroke="#000" stroke-width="0.9"/>
<polygon points="487.11,1161.46 491.29,1161.46 489.2,1165.01" fill="#111"/>
<polygon points="492.31,1159.35 496.49,1159.35 494.4,1162.9" fill="#111"/>
<polygon points="489.71,1151.52 493.89,1151.52 491.8,1155.07" fill="#111"/>
<polygon points="487.11,1156.04 491.29,1156.04 489.2,1159.59" fill="#111"/>
<polygon points="492.31,1154.53 496.49,1154.53 494.4,1158.08" fill="#111"/>
<polygon points="489.71,1165.38 493.89,1165.38 491.8,1168.93" fill="#111"/>
<rect x="504" y="1145.35" width="10.5" height="67.05" fill="#70f0f0"/>
<line x1="509.25" y1="1154.39" x2="509.25" y2="1136.31" stroke="#000" stroke-width="0.9"/>
<line x1="506.05" y1="1136.31" x2="512.45" y2="1136.31" stroke="#000" stroke-width="0.9"/>
<line x1="506.05" y1="1154.39" x2="512.45" y2="1154.39" stroke="#000" stroke-width="0.9"/>
<polygon points="506.65,1147.14 508.93,1149.42 506.65,1151.7 504.37,1149.42" fill="#111"/>
<polygon points="511.85,1143.98 514.13,1146.26 511.85,1148.54 509.57,1146.26" fill="#111"/>
<polygon points="509.25,1132.23 511.53,1134.51 509.25,1136.79 506.97,1134.51" fill="#111"/>
<polygon points="506.65,1139.01 508.93,1141.29 506.65,1143.57 504.37,1141.29" fill="#111"/>
<polygon points="511.85,1136.75 514.13,1139.03 511.85,1141.31 509.57,1139.03" fill="#111"/>
<polygon points="509.25,1153.02 511.53,1155.3 509.25,1157.58 506.97,1155.3" fill="#111"/>
<rect x="521.45" y="1183.77" width="10.5" height="28.63" fill="#1414f0"/>
<line x1="526.7" y1="1187.54" x2="526.7" y2="1180.01" stroke="#000" stroke-width="0.9"/>
<line x1="523.5" y1="1180.01" x2="529.9" y2="1180.01" stroke="#000" stroke-width="0.9"/>
<line x1="523.5" y1="1187.54" x2="529.9" y2="1187.54" stroke="#000" stroke-width="0.9"/>
<circle cx="524.1" cy="1185.47" r="1.7" fill="none" stroke="#111" stroke-width="0.8"/>
<circle cx="529.3" cy="1184.15" r="1.7" fill="none" stroke="#111" stroke-width="0.8"/>
<circle cx="526.7" cy="1179.25" r="1.7" fill="none" stroke="#111" stroke-width="0.8"/>
<circle cx="524.1" cy="1182.08" r="1.7" fill="none" stroke="#111" stroke-width="0.8"/>
<circle cx="529.3" cy="1181.14" r="1.7" fill="none" stroke="#111" stroke-width="0.8"/>
<circle cx="526.7" cy="1187.92" r="1.7" fill="none" stroke="#111" stroke-width="0.8"/>
<rect x="538.9" y="1192.06" width="10.5" height="20.34" fill="#8b1010"/>
<line x1="544.15" y1="1195.83" x2="544.15" y2="1188.29" stroke="#000" stroke-width="0.9"/>
<line x1="540.95" y1="1188.29" x2="547.35" y2="1188.29" stroke="#000" stroke-width="0.9"/>
<line x1="540.95" y1="1195.83" x2="547.35" y2="1195.83" stroke="#000" stroke-width="0.9"/>
<rect x="540.02" y="1192.23" width="3.06" height="3.06" fill="none" stroke="#111" stroke-width="0.8"/>
<rect x="545.22" y="1190.91" width="3.06" height="3.06" fill="none" stroke="#111" stroke-width="0.8"/>
<rect x="542.62" y="1186.01" width="3.06" height="3.06" fill="none" stroke="#111" stroke-width="0.8"/>
<rect x="540.02" y="1188.84" width="3.06" height="3.06" fill="none" stroke="#111" stroke-width="0.8"/>
<rect x="545.22" y="1187.89" width="3.06" height="3.06" fill="none" stroke="#111" stroke-width="0.8"/>
<rect x="542.62" y="1194.67" width="3.06" height="3.06" fill="none" stroke="#111" stroke-width="0.8"/>
<rect x="556.35" y="1178.5" width="10.5" height="33.9" fill="#2e8a22"/>
<line x1="561.6" y1="1180.76" x2="561.6" y2="1176.24" stroke="#000" stroke-width="0.9"/>
<line x1="558.4" y1="1176.24" x2="564.8" y2="1176.24" stroke="#000" stroke-width="0.9"/>
<line x1="558.4" y1="1180.76" x2="564.8" y2="1180.76" stroke="#000" stroke-width="0.9"/>
<polygon points="557.13,1181.01 560.87,1181.01 559,1177.83" fill="none" stroke="#111" stroke-width="0.8"/>
<polygon points="562.33,1180.22 566.07,1180.22 564.2,1177.04" fill="none" stroke="#111" stroke-width="0.8"/>
<polygon points="559.73,1177.28 563.47,1177.28 561.6,1174.11" fill="none" stroke="#111" stroke-width="0.8"/>
<polygon points="557.13,1178.98 560.87,1178.98 559,1175.8" fill="none" stroke="#111" stroke-width="0.8"/>
<polygon points="562.33,1178.41 566.07,1178.41 564.2,1175.24" fill="none" stroke="#111" stroke-width="0.8"/>
<polygon points="559.73,1182.48 563.47,1182.48 561.6,1179.3" fill="none" stroke="#111" stroke-width="0.8"/>
<rect x="573.8" y="1199.59" width="10.5" height="12.81" fill="#7a1f9a"/>
<line x1="579.05" y1="1202.61" x2="579.05" y2="1196.58" stroke="#000" stroke-width="0.9"/>
<line x1="575.85" y1="1196.58" x2="582.25" y2="1196.58" stroke="#000" stroke-width="0.9"/>
<line x1="575.85" y1="1202.61" x2="582.25" y2="1202.61" stroke="#000" stroke-width="0.9"/>
<polygon points="574.58,1199.45 578.32,1199.45 576.45,1202.63" fill="none" stroke="#111" stroke-width="0.8"/>
<polygon points="579.78,1198.4 583.52,1198.4 581.65,1201.58" fill="none" stroke="#111" stroke-width="0.8"/>
<polygon points="577.18,1194.48 580.92,1194.48 579.05,1197.66" fill="none" stroke="#111" stroke-width="0.8"/>
<polygon points="574.58,1196.74 578.32,1196.74 576.45,1199.92" fill="none" stroke="#111" stroke-width="0.8"/>
<polygon points="579.78,1195.99 583.52,1195.99 581.65,1199.17" fill="none" stroke="#111" stroke-width="0.8"/>
<polygon points="577.18,1201.41 580.92,1201.41 579.05,1204.59" fill="none" stroke="#111" stroke-width="0.8"/>
<polyline points="439.8,1127.8 439.8,1124.7 474,1124.7 474,1139.6" stroke="#444" stroke-width="0.95" fill="none"/>
<text x="458.2" y="1126.05" font-size="8.5" text-anchor="middle" fill="#000">***</text>
<polyline points="439.8,1162 439.8,1133.8 456.1,1133.8 456.1,1137" stroke="#444" stroke-width="0.95" fill="none"/>
<text x="448.2" y="1135.64" font-size="8.5" text-anchor="middle" fill="#000">***</text>
<polyline points="491.1,1137 491.1,1124.7 509,1124.7 509,1126.5" stroke="#444" stroke-width="0.95" fill="none"/>
<text x="500.3" y="1126.44" font-size="8.5" text-anchor="middle" fill="#000">**</text>
<polyline points="491.1,1118 491.1,1115.2 526.5,1115.2 526.5,1143.6" stroke="#444" stroke-width="0.95" fill="none"/>
<text x="509" y="1116.85" font-size="8.5" text-anchor="middle" fill="#000">***</text>
<polyline points="544.4,1180.4 544.4,1160.6 579.9,1160.6 579.9,1171.2" stroke="#444" stroke-width="0.95" fill="none"/>
<text x="560.2" y="1162.05" font-size="8.5" text-anchor="middle" fill="#000">**</text>
<polyline points="544.4,1180.4 544.4,1169.3 562.3,1169.3 562.3,1171.2" stroke="#444" stroke-width="0.95" fill="none"/>
<text x="552.8" y="1170.85" font-size="8.5" text-anchor="middle" fill="#000">**</text>
<rect x="593" y="1105.7" width="11.3" height="4.8" fill="#f23c3a"/>
<text x="608" y="1111.2" font-size="8.6" text-anchor="start" fill="#111">shNC</text>
<rect x="593" y="1116.21" width="11.3" height="4.8" fill="#50e030"/>
<text x="608" y="1121.71" font-size="8.6" text-anchor="start" fill="#111">shGIT2-L</text>
<rect x="593" y="1126.72" width="11.3" height="4.8" fill="#f050f0"/>
<text x="608" y="1132.22" font-size="8.6" text-anchor="start" fill="#111">shGIT2-S</text>
<rect x="593" y="1137.23" width="11.3" height="4.8" fill="#f09030"/>
<text x="608" y="1142.73" font-size="8.6" text-anchor="start" fill="#111">shNC+Fer-1</text>
<rect x="593" y="1147.74" width="11.3" height="4.8" fill="#70f0f0"/>
<text x="608" y="1153.24" font-size="8.6" text-anchor="start" fill="#111">shGIT2-L+Fer-1</text>
<rect x="593" y="1158.25" width="11.3" height="4.8" fill="#1414f0"/>
<text x="608" y="1163.75" font-size="8.6" text-anchor="start" fill="#111">shGIT2-S+Fer-1</text>
<rect x="593" y="1168.76" width="11.3" height="4.8" fill="#8b1010"/>
<text x="608" y="1174.26" font-size="8.6" text-anchor="start" fill="#111">shNC+RSL3</text>
<rect x="593" y="1179.27" width="11.3" height="4.8" fill="#2e8a22"/>
<text x="608" y="1184.77" font-size="8.6" text-anchor="start" fill="#111">shGIT2-L+RSL3</text>
<rect x="593" y="1189.78" width="11.3" height="4.8" fill="#7a1f9a"/>
<text x="608" y="1195.28" font-size="8.6" text-anchor="start" fill="#111">shGIT2-S+RSL3</text>
</svg>
</body></html>
